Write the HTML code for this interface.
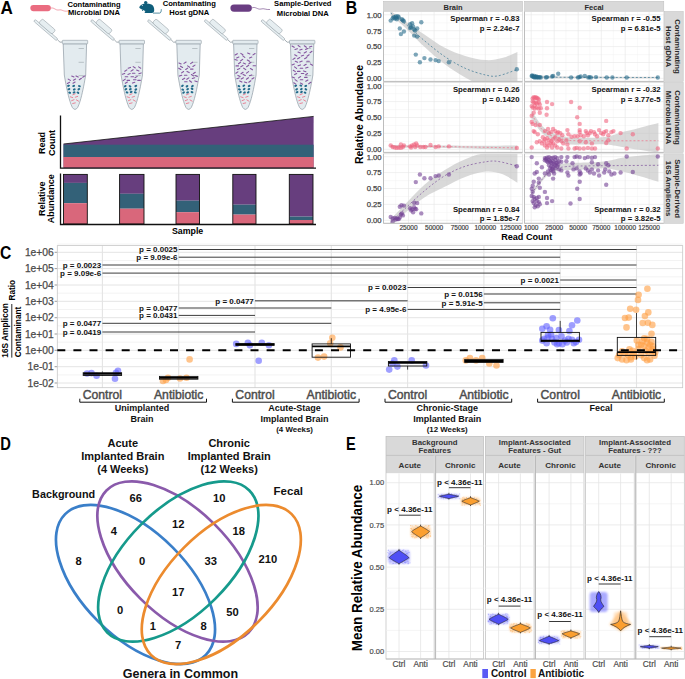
<!DOCTYPE html>
<html><head><meta charset="utf-8"><style>
html,body{margin:0;padding:0;background:#fff;}
svg{display:block;font-family:"Liberation Sans", sans-serif;}
</style></head><body>
<svg width="685" height="679" viewBox="0 0 685 679">
<text transform="translate(0.6,13.9) scale(0.95,1)" font-size="18" font-weight="bold" fill="#000">A</text>
<rect x="30.3" y="5" width="20.6" height="6.2" rx="3.1" fill="#ea6c80"/>
<path d="M50.9,8 C54,7 56,11 59,10 C62,9 63,12 68,11" stroke="#ea6c80" stroke-width="0.6" fill="none"/>
<text x="94.0" y="6.5" font-size="7.6" text-anchor="middle" font-weight="bold" fill="#000" >Contaminating</text>
<text x="94.0" y="15.2" font-size="7.6" text-anchor="middle" font-weight="bold" fill="#000" >Microbial DNA</text>
<g fill="#0f5e7b"><path d="M139.2,7.2 C140.3,5.2 142.3,3.7 144.8,3.5 C147.3,3.2 149.5,3.6 151.5,4.6 C153.6,5.7 154.4,8.2 154.2,10.6 C154.1,12.2 153.4,13.1 151.8,13.1 L145.2,13.1 C144.3,12.9 144.6,11.6 145.6,11.1 C144.2,10.4 142.6,9.7 141.6,9.2 C140.4,8.7 139.4,8.1 139.2,7.2 Z"/><circle cx="145.7" cy="2.6" r="1.7"/><path d="M141.8,9.6 L143.6,10.9 L142.2,11 Z"/></g><circle cx="142.3" cy="5.6" r="0.5" fill="#fff"/><path d="M153,13.1 L159.6,13.1 C160.8,13 161.3,11.6 161.3,9.2" stroke="#0f5e7b" stroke-width="0.7" fill="none"/>
<text x="189.3" y="6.3" font-size="7.6" text-anchor="middle" font-weight="bold" fill="#000" >Contaminating</text>
<text x="189.3" y="15.3" font-size="7.6" text-anchor="middle" font-weight="bold" fill="#000" >Host gDNA</text>
<rect x="230.4" y="4.5" width="21.5" height="7.2" rx="3.6" fill="#6a3d82"/>
<path d="M251.9,8 C255,6 258,10 261,9 C264,8 266,10 270,9.5" stroke="#6a3d82" stroke-width="0.6" fill="none"/>
<text x="302.8" y="6.4" font-size="7.6" text-anchor="middle" font-weight="bold" fill="#000" >Sample-Derived</text>
<text x="302.8" y="15.9" font-size="7.6" text-anchor="middle" font-weight="bold" fill="#000" >Microbial DNA</text>
<g transform="translate(34.4,20.3) rotate(40.6)"><rect x="0" y="-1.2" width="30" height="2.4" rx="1.2" fill="#e6eef1" stroke="#8c979e" stroke-width="0.5"/><rect x="5" y="-6.3" width="17.5" height="5.4" rx="1.5" fill="#e6eef1" stroke="#8c979e" stroke-width="0.5"/></g>
<path d="M57.5,39.8 L60.0,42.2 L62.5,42" stroke="#8c979e" stroke-width="0.8" fill="none"/>
<path d="M63.2,43.8 L64.30,75.00 L64.80,77.94 L65.32,80.88 L65.87,83.83 L66.44,86.77 L67.05,89.71 L67.69,92.65 L68.39,95.59 L69.15,98.53 L70.01,101.47 L71.01,104.42 L72.27,107.36 Q75.0,111.5 77.73,107.36 L78.99,104.42 L79.99,101.47 L80.85,98.53 L81.61,95.59 L82.31,92.65 L82.95,89.71 L83.56,86.77 L84.13,83.83 L84.68,80.88 L85.20,77.94 L85.70,75.00 L86.6,43.8 Z" fill="#e3ebef" stroke="#8e9aa3" stroke-width="0.7"/>
<rect x="62.3" y="40.3" width="25.4" height="3.5" rx="0.6" fill="#e3ebef" stroke="#8e9aa3" stroke-width="0.6"/>
<line x1="78.6" y1="48.5" x2="83.9" y2="48.5" stroke="#9aa4aa" stroke-width="0.6"/>
<line x1="78.6" y1="62.3" x2="83.9" y2="62.3" stroke="#9aa4aa" stroke-width="0.6"/>
<line x1="78.6" y1="75.6" x2="83.9" y2="75.6" stroke="#9aa4aa" stroke-width="0.6"/>
<line x1="71.7" y1="76.1" x2="74.0" y2="76.9" stroke="#85559f" stroke-width="1.1" stroke-linecap="round"/>
<line x1="76.0" y1="75.9" x2="78.2" y2="77.1" stroke="#85559f" stroke-width="1.1" stroke-linecap="round"/>
<line x1="82.7" y1="77.2" x2="84.9" y2="75.9" stroke="#85559f" stroke-width="1.1" stroke-linecap="round"/>
<line x1="68.2" y1="79.1" x2="70.4" y2="80.4" stroke="#85559f" stroke-width="1.1" stroke-linecap="round"/>
<line x1="73.4" y1="80.2" x2="75.6" y2="79.0" stroke="#85559f" stroke-width="1.1" stroke-linecap="round"/>
<line x1="79.3" y1="79.7" x2="81.4" y2="78.3" stroke="#85559f" stroke-width="1.1" stroke-linecap="round"/>
<line x1="67.4" y1="83.5" x2="69.6" y2="82.3" stroke="#85559f" stroke-width="1.1" stroke-linecap="round"/>
<line x1="73.0" y1="83.2" x2="75.1" y2="82.0" stroke="#85559f" stroke-width="1.1" stroke-linecap="round"/>
<ellipse cx="68.6" cy="85.8" rx="1.45" ry="1.05" transform="rotate(-20 68.7 86.0)" fill="#226a8a"/>
<ellipse cx="73.7" cy="86.0" rx="1.45" ry="1.05" transform="rotate(-20 73.5 86.0)" fill="#226a8a"/>
<ellipse cx="79.4" cy="86.0" rx="1.45" ry="1.05" transform="rotate(20 79.0 86.0)" fill="#226a8a"/>
<ellipse cx="69.0" cy="89.1" rx="1.45" ry="1.05" transform="rotate(-20 69.2 89.3)" fill="#226a8a"/>
<ellipse cx="74.2" cy="89.6" rx="1.45" ry="1.05" transform="rotate(-20 73.8 89.3)" fill="#226a8a"/>
<ellipse cx="78.9" cy="89.3" rx="1.45" ry="1.05" transform="rotate(-30 78.6 89.3)" fill="#226a8a"/>
<ellipse cx="69.8" cy="92.8" rx="1.45" ry="1.05" transform="rotate(20 70.1 92.4)" fill="#226a8a"/>
<ellipse cx="74.1" cy="92.3" rx="1.45" ry="1.05" transform="rotate(-20 74.4 92.4)" fill="#226a8a"/>
<ellipse cx="78.1" cy="92.7" rx="1.45" ry="1.05" transform="rotate(30 78.1 92.4)" fill="#226a8a"/>
<line x1="72.8" y1="94.8" x2="75.2" y2="93.8" stroke="#ea7085" stroke-width="0.85" stroke-linecap="round"/>
<line x1="70.3" y1="96.8" x2="72.7" y2="97.6" stroke="#ea7085" stroke-width="0.85" stroke-linecap="round"/>
<line x1="75.3" y1="97.2" x2="77.7" y2="96.4" stroke="#ea7085" stroke-width="0.85" stroke-linecap="round"/>
<line x1="71.6" y1="100.7" x2="74.0" y2="99.7" stroke="#ea7085" stroke-width="0.85" stroke-linecap="round"/>
<line x1="76.4" y1="99.9" x2="78.6" y2="101.2" stroke="#ea7085" stroke-width="0.85" stroke-linecap="round"/>
<line x1="72.7" y1="103.5" x2="75.3" y2="102.9" stroke="#ea7085" stroke-width="0.85" stroke-linecap="round"/>
<g transform="translate(91.2,20.3) rotate(40.6)"><rect x="0" y="-1.2" width="30" height="2.4" rx="1.2" fill="#e6eef1" stroke="#8c979e" stroke-width="0.5"/><rect x="5" y="-6.3" width="17.5" height="5.4" rx="1.5" fill="#e6eef1" stroke="#8c979e" stroke-width="0.5"/></g>
<path d="M114.3,39.8 L116.8,42.2 L119.3,42" stroke="#8c979e" stroke-width="0.8" fill="none"/>
<path d="M120.0,43.8 L121.10,75.00 L121.60,77.94 L122.12,80.88 L122.67,83.83 L123.24,86.77 L123.85,89.71 L124.49,92.65 L125.19,95.59 L125.95,98.53 L126.81,101.47 L127.81,104.42 L129.07,107.36 Q131.8,111.5 134.53,107.36 L135.79,104.42 L136.79,101.47 L137.65,98.53 L138.41,95.59 L139.11,92.65 L139.75,89.71 L140.36,86.77 L140.93,83.83 L141.48,80.88 L142.00,77.94 L142.50,75.00 L143.4,43.8 Z" fill="#e3ebef" stroke="#8e9aa3" stroke-width="0.7"/>
<rect x="119.1" y="40.3" width="25.4" height="3.5" rx="0.6" fill="#e3ebef" stroke="#8e9aa3" stroke-width="0.6"/>
<line x1="135.4" y1="48.5" x2="140.7" y2="48.5" stroke="#9aa4aa" stroke-width="0.6"/>
<line x1="135.4" y1="62.3" x2="140.7" y2="62.3" stroke="#9aa4aa" stroke-width="0.6"/>
<line x1="135.4" y1="75.6" x2="140.7" y2="75.6" stroke="#9aa4aa" stroke-width="0.6"/>
<line x1="128.1" y1="68.2" x2="130.5" y2="67.4" stroke="#85559f" stroke-width="1.1" stroke-linecap="round"/>
<line x1="133.2" y1="66.6" x2="135.3" y2="68.0" stroke="#85559f" stroke-width="1.1" stroke-linecap="round"/>
<line x1="138.6" y1="66.9" x2="140.7" y2="68.2" stroke="#85559f" stroke-width="1.1" stroke-linecap="round"/>
<line x1="124.8" y1="71.3" x2="126.9" y2="69.9" stroke="#85559f" stroke-width="1.1" stroke-linecap="round"/>
<line x1="131.0" y1="71.1" x2="133.1" y2="69.7" stroke="#85559f" stroke-width="1.1" stroke-linecap="round"/>
<line x1="136.6" y1="70.1" x2="138.9" y2="71.0" stroke="#85559f" stroke-width="1.1" stroke-linecap="round"/>
<line x1="122.4" y1="74.2" x2="124.7" y2="73.4" stroke="#85559f" stroke-width="1.1" stroke-linecap="round"/>
<line x1="127.9" y1="74.4" x2="130.2" y2="73.6" stroke="#85559f" stroke-width="1.1" stroke-linecap="round"/>
<line x1="132.4" y1="73.3" x2="134.9" y2="73.3" stroke="#85559f" stroke-width="1.1" stroke-linecap="round"/>
<line x1="138.8" y1="73.7" x2="141.2" y2="72.9" stroke="#85559f" stroke-width="1.1" stroke-linecap="round"/>
<line x1="125.2" y1="76.8" x2="127.7" y2="76.8" stroke="#85559f" stroke-width="1.1" stroke-linecap="round"/>
<line x1="131.0" y1="76.8" x2="133.5" y2="76.8" stroke="#85559f" stroke-width="1.1" stroke-linecap="round"/>
<line x1="135.0" y1="77.7" x2="137.2" y2="76.4" stroke="#85559f" stroke-width="1.1" stroke-linecap="round"/>
<line x1="123.2" y1="80.6" x2="125.3" y2="79.1" stroke="#85559f" stroke-width="1.1" stroke-linecap="round"/>
<line x1="127.1" y1="80.4" x2="129.6" y2="80.4" stroke="#85559f" stroke-width="1.1" stroke-linecap="round"/>
<line x1="133.5" y1="79.7" x2="136.0" y2="79.7" stroke="#85559f" stroke-width="1.1" stroke-linecap="round"/>
<line x1="137.8" y1="80.4" x2="140.3" y2="80.4" stroke="#85559f" stroke-width="1.1" stroke-linecap="round"/>
<line x1="125.3" y1="83.3" x2="127.4" y2="82.0" stroke="#85559f" stroke-width="1.1" stroke-linecap="round"/>
<line x1="132.5" y1="83.1" x2="134.8" y2="82.2" stroke="#85559f" stroke-width="1.1" stroke-linecap="round"/>
<ellipse cx="125.2" cy="86.0" rx="1.45" ry="1.05" transform="rotate(-30 125.5 86.0)" fill="#226a8a"/>
<ellipse cx="130.2" cy="86.4" rx="1.45" ry="1.05" transform="rotate(30 130.3 86.0)" fill="#226a8a"/>
<ellipse cx="135.8" cy="86.0" rx="1.45" ry="1.05" transform="rotate(-20 135.8 86.0)" fill="#226a8a"/>
<ellipse cx="126.0" cy="89.2" rx="1.45" ry="1.05" transform="rotate(-30 126.0 89.3)" fill="#226a8a"/>
<ellipse cx="130.4" cy="89.2" rx="1.45" ry="1.05" transform="rotate(-20 130.6 89.3)" fill="#226a8a"/>
<ellipse cx="135.7" cy="89.7" rx="1.45" ry="1.05" transform="rotate(-30 135.4 89.3)" fill="#226a8a"/>
<ellipse cx="127.0" cy="92.4" rx="1.45" ry="1.05" transform="rotate(20 126.9 92.4)" fill="#226a8a"/>
<ellipse cx="131.3" cy="92.0" rx="1.45" ry="1.05" transform="rotate(-20 131.2 92.4)" fill="#226a8a"/>
<ellipse cx="135.3" cy="92.3" rx="1.45" ry="1.05" transform="rotate(20 134.9 92.4)" fill="#226a8a"/>
<line x1="129.6" y1="94.8" x2="132.0" y2="93.8" stroke="#ea7085" stroke-width="0.85" stroke-linecap="round"/>
<line x1="127.1" y1="96.8" x2="129.5" y2="97.6" stroke="#ea7085" stroke-width="0.85" stroke-linecap="round"/>
<line x1="132.1" y1="97.2" x2="134.5" y2="96.4" stroke="#ea7085" stroke-width="0.85" stroke-linecap="round"/>
<line x1="128.4" y1="100.7" x2="130.8" y2="99.7" stroke="#ea7085" stroke-width="0.85" stroke-linecap="round"/>
<line x1="133.2" y1="99.9" x2="135.4" y2="101.2" stroke="#ea7085" stroke-width="0.85" stroke-linecap="round"/>
<line x1="129.5" y1="103.5" x2="132.1" y2="102.9" stroke="#ea7085" stroke-width="0.85" stroke-linecap="round"/>
<g transform="translate(148.0,20.3) rotate(40.6)"><rect x="0" y="-1.2" width="30" height="2.4" rx="1.2" fill="#e6eef1" stroke="#8c979e" stroke-width="0.5"/><rect x="5" y="-6.3" width="17.5" height="5.4" rx="1.5" fill="#e6eef1" stroke="#8c979e" stroke-width="0.5"/></g>
<path d="M171.1,39.8 L173.6,42.2 L176.1,42" stroke="#8c979e" stroke-width="0.8" fill="none"/>
<path d="M176.8,43.8 L177.90,75.00 L178.40,77.94 L178.92,80.88 L179.47,83.83 L180.04,86.77 L180.65,89.71 L181.29,92.65 L181.99,95.59 L182.75,98.53 L183.61,101.47 L184.61,104.42 L185.87,107.36 Q188.6,111.5 191.33,107.36 L192.59,104.42 L193.59,101.47 L194.45,98.53 L195.21,95.59 L195.91,92.65 L196.55,89.71 L197.16,86.77 L197.73,83.83 L198.28,80.88 L198.80,77.94 L199.30,75.00 L200.2,43.8 Z" fill="#e3ebef" stroke="#8e9aa3" stroke-width="0.7"/>
<rect x="175.9" y="40.3" width="25.4" height="3.5" rx="0.6" fill="#e3ebef" stroke="#8e9aa3" stroke-width="0.6"/>
<line x1="192.2" y1="48.5" x2="197.5" y2="48.5" stroke="#9aa4aa" stroke-width="0.6"/>
<line x1="192.2" y1="62.3" x2="197.5" y2="62.3" stroke="#9aa4aa" stroke-width="0.6"/>
<line x1="192.2" y1="75.6" x2="197.5" y2="75.6" stroke="#9aa4aa" stroke-width="0.6"/>
<line x1="178.9" y1="63.0" x2="181.2" y2="63.9" stroke="#85559f" stroke-width="1.1" stroke-linecap="round"/>
<line x1="184.0" y1="63.4" x2="186.1" y2="62.0" stroke="#85559f" stroke-width="1.1" stroke-linecap="round"/>
<line x1="190.6" y1="63.6" x2="192.6" y2="62.2" stroke="#85559f" stroke-width="1.1" stroke-linecap="round"/>
<line x1="180.5" y1="66.2" x2="182.6" y2="67.4" stroke="#85559f" stroke-width="1.1" stroke-linecap="round"/>
<line x1="187.6" y1="65.9" x2="189.7" y2="67.3" stroke="#85559f" stroke-width="1.1" stroke-linecap="round"/>
<line x1="192.9" y1="66.5" x2="195.0" y2="65.1" stroke="#85559f" stroke-width="1.1" stroke-linecap="round"/>
<line x1="178.7" y1="68.2" x2="180.9" y2="69.5" stroke="#85559f" stroke-width="1.1" stroke-linecap="round"/>
<line x1="185.7" y1="69.5" x2="187.7" y2="68.1" stroke="#85559f" stroke-width="1.1" stroke-linecap="round"/>
<line x1="190.5" y1="69.1" x2="193.0" y2="69.1" stroke="#85559f" stroke-width="1.1" stroke-linecap="round"/>
<line x1="181.6" y1="72.9" x2="183.6" y2="71.5" stroke="#85559f" stroke-width="1.1" stroke-linecap="round"/>
<line x1="187.0" y1="71.4" x2="189.2" y2="72.6" stroke="#85559f" stroke-width="1.1" stroke-linecap="round"/>
<line x1="193.2" y1="73.7" x2="195.3" y2="72.3" stroke="#85559f" stroke-width="1.1" stroke-linecap="round"/>
<line x1="179.4" y1="76.1" x2="181.7" y2="75.2" stroke="#85559f" stroke-width="1.1" stroke-linecap="round"/>
<line x1="184.4" y1="75.2" x2="186.9" y2="75.2" stroke="#85559f" stroke-width="1.1" stroke-linecap="round"/>
<line x1="191.4" y1="74.5" x2="193.5" y2="75.9" stroke="#85559f" stroke-width="1.1" stroke-linecap="round"/>
<line x1="195.1" y1="75.5" x2="197.4" y2="76.4" stroke="#85559f" stroke-width="1.1" stroke-linecap="round"/>
<line x1="182.5" y1="79.4" x2="184.7" y2="78.2" stroke="#85559f" stroke-width="1.1" stroke-linecap="round"/>
<line x1="186.8" y1="79.3" x2="188.9" y2="77.9" stroke="#85559f" stroke-width="1.1" stroke-linecap="round"/>
<line x1="192.3" y1="78.5" x2="194.7" y2="77.7" stroke="#85559f" stroke-width="1.1" stroke-linecap="round"/>
<line x1="184.6" y1="81.8" x2="187.1" y2="81.8" stroke="#85559f" stroke-width="1.1" stroke-linecap="round"/>
<line x1="189.6" y1="80.7" x2="191.6" y2="82.2" stroke="#85559f" stroke-width="1.1" stroke-linecap="round"/>
<line x1="194.9" y1="80.9" x2="197.3" y2="81.7" stroke="#85559f" stroke-width="1.1" stroke-linecap="round"/>
<ellipse cx="182.5" cy="85.9" rx="1.45" ry="1.05" transform="rotate(-30 182.3 86.0)" fill="#226a8a"/>
<ellipse cx="186.9" cy="86.2" rx="1.45" ry="1.05" transform="rotate(-30 187.1 86.0)" fill="#226a8a"/>
<ellipse cx="192.4" cy="86.0" rx="1.45" ry="1.05" transform="rotate(-30 192.6 86.0)" fill="#226a8a"/>
<ellipse cx="182.9" cy="89.6" rx="1.45" ry="1.05" transform="rotate(30 182.8 89.3)" fill="#226a8a"/>
<ellipse cx="187.7" cy="89.3" rx="1.45" ry="1.05" transform="rotate(-30 187.4 89.3)" fill="#226a8a"/>
<ellipse cx="191.8" cy="88.9" rx="1.45" ry="1.05" transform="rotate(30 192.2 89.3)" fill="#226a8a"/>
<ellipse cx="183.5" cy="92.5" rx="1.45" ry="1.05" transform="rotate(-30 183.7 92.4)" fill="#226a8a"/>
<ellipse cx="187.6" cy="92.3" rx="1.45" ry="1.05" transform="rotate(-20 188.0 92.4)" fill="#226a8a"/>
<ellipse cx="191.9" cy="92.1" rx="1.45" ry="1.05" transform="rotate(20 191.7 92.4)" fill="#226a8a"/>
<line x1="186.4" y1="94.8" x2="188.8" y2="93.8" stroke="#ea7085" stroke-width="0.85" stroke-linecap="round"/>
<line x1="183.9" y1="96.8" x2="186.3" y2="97.6" stroke="#ea7085" stroke-width="0.85" stroke-linecap="round"/>
<line x1="188.9" y1="97.2" x2="191.3" y2="96.4" stroke="#ea7085" stroke-width="0.85" stroke-linecap="round"/>
<line x1="185.2" y1="100.7" x2="187.6" y2="99.7" stroke="#ea7085" stroke-width="0.85" stroke-linecap="round"/>
<line x1="190.0" y1="99.9" x2="192.2" y2="101.2" stroke="#ea7085" stroke-width="0.85" stroke-linecap="round"/>
<line x1="186.3" y1="103.5" x2="188.9" y2="102.9" stroke="#ea7085" stroke-width="0.85" stroke-linecap="round"/>
<g transform="translate(204.8,20.3) rotate(40.6)"><rect x="0" y="-1.2" width="30" height="2.4" rx="1.2" fill="#e6eef1" stroke="#8c979e" stroke-width="0.5"/><rect x="5" y="-6.3" width="17.5" height="5.4" rx="1.5" fill="#e6eef1" stroke="#8c979e" stroke-width="0.5"/></g>
<path d="M227.9,39.8 L230.4,42.2 L232.9,42" stroke="#8c979e" stroke-width="0.8" fill="none"/>
<path d="M233.6,43.8 L234.70,75.00 L235.20,77.94 L235.72,80.88 L236.27,83.83 L236.84,86.77 L237.45,89.71 L238.09,92.65 L238.79,95.59 L239.55,98.53 L240.41,101.47 L241.41,104.42 L242.67,107.36 Q245.4,111.5 248.13,107.36 L249.39,104.42 L250.39,101.47 L251.25,98.53 L252.01,95.59 L252.71,92.65 L253.35,89.71 L253.96,86.77 L254.53,83.83 L255.08,80.88 L255.60,77.94 L256.10,75.00 L257.0,43.8 Z" fill="#e3ebef" stroke="#8e9aa3" stroke-width="0.7"/>
<rect x="232.7" y="40.3" width="25.4" height="3.5" rx="0.6" fill="#e3ebef" stroke="#8e9aa3" stroke-width="0.6"/>
<line x1="249.0" y1="48.5" x2="254.3" y2="48.5" stroke="#9aa4aa" stroke-width="0.6"/>
<line x1="249.0" y1="62.3" x2="254.3" y2="62.3" stroke="#9aa4aa" stroke-width="0.6"/>
<line x1="249.0" y1="75.6" x2="254.3" y2="75.6" stroke="#9aa4aa" stroke-width="0.6"/>
<line x1="235.1" y1="55.0" x2="237.3" y2="53.7" stroke="#85559f" stroke-width="1.1" stroke-linecap="round"/>
<line x1="240.8" y1="53.4" x2="242.9" y2="54.8" stroke="#85559f" stroke-width="1.1" stroke-linecap="round"/>
<line x1="247.6" y1="53.0" x2="249.9" y2="53.9" stroke="#85559f" stroke-width="1.1" stroke-linecap="round"/>
<line x1="253.0" y1="54.9" x2="255.1" y2="53.5" stroke="#85559f" stroke-width="1.1" stroke-linecap="round"/>
<line x1="236.6" y1="57.9" x2="238.9" y2="57.0" stroke="#85559f" stroke-width="1.1" stroke-linecap="round"/>
<line x1="242.8" y1="55.9" x2="244.8" y2="57.4" stroke="#85559f" stroke-width="1.1" stroke-linecap="round"/>
<line x1="249.5" y1="58.0" x2="251.8" y2="57.1" stroke="#85559f" stroke-width="1.1" stroke-linecap="round"/>
<line x1="234.9" y1="59.4" x2="237.3" y2="60.2" stroke="#85559f" stroke-width="1.1" stroke-linecap="round"/>
<line x1="240.7" y1="60.8" x2="242.7" y2="59.4" stroke="#85559f" stroke-width="1.1" stroke-linecap="round"/>
<line x1="247.3" y1="60.0" x2="249.5" y2="61.3" stroke="#85559f" stroke-width="1.1" stroke-linecap="round"/>
<line x1="238.5" y1="63.7" x2="240.6" y2="62.3" stroke="#85559f" stroke-width="1.1" stroke-linecap="round"/>
<line x1="243.3" y1="63.1" x2="245.6" y2="63.9" stroke="#85559f" stroke-width="1.1" stroke-linecap="round"/>
<line x1="248.9" y1="63.7" x2="251.0" y2="62.3" stroke="#85559f" stroke-width="1.1" stroke-linecap="round"/>
<line x1="236.0" y1="65.9" x2="238.5" y2="65.9" stroke="#85559f" stroke-width="1.1" stroke-linecap="round"/>
<line x1="240.8" y1="66.8" x2="243.0" y2="65.6" stroke="#85559f" stroke-width="1.1" stroke-linecap="round"/>
<line x1="246.6" y1="66.7" x2="248.7" y2="65.2" stroke="#85559f" stroke-width="1.1" stroke-linecap="round"/>
<line x1="253.1" y1="65.8" x2="255.6" y2="65.8" stroke="#85559f" stroke-width="1.1" stroke-linecap="round"/>
<line x1="237.5" y1="69.5" x2="239.8" y2="68.6" stroke="#85559f" stroke-width="1.1" stroke-linecap="round"/>
<line x1="243.7" y1="68.2" x2="245.8" y2="69.6" stroke="#85559f" stroke-width="1.1" stroke-linecap="round"/>
<line x1="250.4" y1="68.6" x2="252.5" y2="69.8" stroke="#85559f" stroke-width="1.1" stroke-linecap="round"/>
<line x1="235.9" y1="73.3" x2="237.9" y2="71.9" stroke="#85559f" stroke-width="1.1" stroke-linecap="round"/>
<line x1="241.0" y1="73.8" x2="243.1" y2="72.3" stroke="#85559f" stroke-width="1.1" stroke-linecap="round"/>
<line x1="246.5" y1="73.1" x2="248.6" y2="71.6" stroke="#85559f" stroke-width="1.1" stroke-linecap="round"/>
<line x1="237.9" y1="75.4" x2="240.1" y2="76.6" stroke="#85559f" stroke-width="1.1" stroke-linecap="round"/>
<line x1="243.1" y1="74.4" x2="245.3" y2="75.6" stroke="#85559f" stroke-width="1.1" stroke-linecap="round"/>
<line x1="249.4" y1="75.7" x2="251.8" y2="74.9" stroke="#85559f" stroke-width="1.1" stroke-linecap="round"/>
<line x1="236.8" y1="78.8" x2="239.1" y2="77.9" stroke="#85559f" stroke-width="1.1" stroke-linecap="round"/>
<line x1="241.2" y1="79.0" x2="243.4" y2="77.8" stroke="#85559f" stroke-width="1.1" stroke-linecap="round"/>
<line x1="246.4" y1="79.2" x2="248.5" y2="77.8" stroke="#85559f" stroke-width="1.1" stroke-linecap="round"/>
<line x1="251.9" y1="79.0" x2="254.0" y2="77.8" stroke="#85559f" stroke-width="1.1" stroke-linecap="round"/>
<line x1="239.7" y1="80.9" x2="241.9" y2="82.1" stroke="#85559f" stroke-width="1.1" stroke-linecap="round"/>
<line x1="244.4" y1="82.0" x2="246.7" y2="82.8" stroke="#85559f" stroke-width="1.1" stroke-linecap="round"/>
<line x1="248.8" y1="82.2" x2="250.8" y2="80.8" stroke="#85559f" stroke-width="1.1" stroke-linecap="round"/>
<ellipse cx="239.0" cy="86.2" rx="1.45" ry="1.05" transform="rotate(30 239.1 86.0)" fill="#226a8a"/>
<ellipse cx="244.0" cy="85.7" rx="1.45" ry="1.05" transform="rotate(-30 243.9 86.0)" fill="#226a8a"/>
<ellipse cx="249.2" cy="85.9" rx="1.45" ry="1.05" transform="rotate(-20 249.4 86.0)" fill="#226a8a"/>
<ellipse cx="239.5" cy="89.5" rx="1.45" ry="1.05" transform="rotate(20 239.6 89.3)" fill="#226a8a"/>
<ellipse cx="244.3" cy="89.1" rx="1.45" ry="1.05" transform="rotate(-30 244.2 89.3)" fill="#226a8a"/>
<ellipse cx="249.0" cy="89.1" rx="1.45" ry="1.05" transform="rotate(-30 249.0 89.3)" fill="#226a8a"/>
<ellipse cx="240.6" cy="92.2" rx="1.45" ry="1.05" transform="rotate(-30 240.5 92.4)" fill="#226a8a"/>
<ellipse cx="244.4" cy="92.4" rx="1.45" ry="1.05" transform="rotate(-30 244.8 92.4)" fill="#226a8a"/>
<ellipse cx="248.3" cy="92.2" rx="1.45" ry="1.05" transform="rotate(-30 248.5 92.4)" fill="#226a8a"/>
<line x1="243.2" y1="94.8" x2="245.6" y2="93.8" stroke="#ea7085" stroke-width="0.85" stroke-linecap="round"/>
<line x1="240.7" y1="96.8" x2="243.1" y2="97.6" stroke="#ea7085" stroke-width="0.85" stroke-linecap="round"/>
<line x1="245.7" y1="97.2" x2="248.1" y2="96.4" stroke="#ea7085" stroke-width="0.85" stroke-linecap="round"/>
<line x1="242.0" y1="100.7" x2="244.4" y2="99.7" stroke="#ea7085" stroke-width="0.85" stroke-linecap="round"/>
<line x1="246.8" y1="99.9" x2="249.0" y2="101.2" stroke="#ea7085" stroke-width="0.85" stroke-linecap="round"/>
<line x1="243.1" y1="103.5" x2="245.7" y2="102.9" stroke="#ea7085" stroke-width="0.85" stroke-linecap="round"/>
<g transform="translate(261.6,20.3) rotate(40.6)"><rect x="0" y="-1.2" width="30" height="2.4" rx="1.2" fill="#e6eef1" stroke="#8c979e" stroke-width="0.5"/><rect x="5" y="-6.3" width="17.5" height="5.4" rx="1.5" fill="#e6eef1" stroke="#8c979e" stroke-width="0.5"/></g>
<path d="M284.7,39.8 L287.2,42.2 L289.7,42" stroke="#8c979e" stroke-width="0.8" fill="none"/>
<path d="M290.4,43.8 L291.50,75.00 L292.00,77.94 L292.52,80.88 L293.07,83.83 L293.64,86.77 L294.25,89.71 L294.89,92.65 L295.59,95.59 L296.35,98.53 L297.21,101.47 L298.21,104.42 L299.47,107.36 Q302.2,111.5 304.93,107.36 L306.19,104.42 L307.19,101.47 L308.05,98.53 L308.81,95.59 L309.51,92.65 L310.15,89.71 L310.76,86.77 L311.33,83.83 L311.88,80.88 L312.40,77.94 L312.90,75.00 L313.8,43.8 Z" fill="#e3ebef" stroke="#8e9aa3" stroke-width="0.7"/>
<rect x="289.5" y="40.3" width="25.4" height="3.5" rx="0.6" fill="#e3ebef" stroke="#8e9aa3" stroke-width="0.6"/>
<line x1="305.8" y1="48.5" x2="311.1" y2="48.5" stroke="#9aa4aa" stroke-width="0.6"/>
<line x1="305.8" y1="62.3" x2="311.1" y2="62.3" stroke="#9aa4aa" stroke-width="0.6"/>
<line x1="305.8" y1="75.6" x2="311.1" y2="75.6" stroke="#9aa4aa" stroke-width="0.6"/>
<line x1="292.0" y1="46.0" x2="294.2" y2="47.3" stroke="#85559f" stroke-width="1.1" stroke-linecap="round"/>
<line x1="298.1" y1="45.5" x2="300.1" y2="46.9" stroke="#85559f" stroke-width="1.1" stroke-linecap="round"/>
<line x1="304.3" y1="45.8" x2="306.4" y2="47.2" stroke="#85559f" stroke-width="1.1" stroke-linecap="round"/>
<line x1="309.4" y1="47.1" x2="311.8" y2="46.3" stroke="#85559f" stroke-width="1.1" stroke-linecap="round"/>
<line x1="295.0" y1="49.5" x2="297.4" y2="48.7" stroke="#85559f" stroke-width="1.1" stroke-linecap="round"/>
<line x1="299.8" y1="50.0" x2="302.1" y2="49.2" stroke="#85559f" stroke-width="1.1" stroke-linecap="round"/>
<line x1="305.5" y1="49.4" x2="307.8" y2="48.5" stroke="#85559f" stroke-width="1.1" stroke-linecap="round"/>
<line x1="298.0" y1="52.1" x2="300.3" y2="53.0" stroke="#85559f" stroke-width="1.1" stroke-linecap="round"/>
<line x1="304.2" y1="52.9" x2="306.4" y2="51.7" stroke="#85559f" stroke-width="1.1" stroke-linecap="round"/>
<line x1="310.0" y1="52.7" x2="312.0" y2="51.3" stroke="#85559f" stroke-width="1.1" stroke-linecap="round"/>
<line x1="294.7" y1="54.8" x2="296.9" y2="56.0" stroke="#85559f" stroke-width="1.1" stroke-linecap="round"/>
<line x1="301.3" y1="56.1" x2="303.6" y2="55.3" stroke="#85559f" stroke-width="1.1" stroke-linecap="round"/>
<line x1="307.0" y1="56.2" x2="309.1" y2="54.7" stroke="#85559f" stroke-width="1.1" stroke-linecap="round"/>
<line x1="293.0" y1="59.4" x2="295.1" y2="58.0" stroke="#85559f" stroke-width="1.1" stroke-linecap="round"/>
<line x1="297.6" y1="58.8" x2="299.8" y2="57.5" stroke="#85559f" stroke-width="1.1" stroke-linecap="round"/>
<line x1="304.6" y1="58.7" x2="306.8" y2="57.5" stroke="#85559f" stroke-width="1.1" stroke-linecap="round"/>
<line x1="295.3" y1="61.3" x2="297.6" y2="62.2" stroke="#85559f" stroke-width="1.1" stroke-linecap="round"/>
<line x1="299.8" y1="62.0" x2="302.2" y2="61.1" stroke="#85559f" stroke-width="1.1" stroke-linecap="round"/>
<line x1="306.8" y1="61.3" x2="309.3" y2="61.3" stroke="#85559f" stroke-width="1.1" stroke-linecap="round"/>
<line x1="292.0" y1="64.9" x2="294.3" y2="64.0" stroke="#85559f" stroke-width="1.1" stroke-linecap="round"/>
<line x1="298.1" y1="65.8" x2="300.5" y2="64.9" stroke="#85559f" stroke-width="1.1" stroke-linecap="round"/>
<line x1="304.0" y1="65.5" x2="306.2" y2="64.3" stroke="#85559f" stroke-width="1.1" stroke-linecap="round"/>
<line x1="310.4" y1="64.1" x2="312.5" y2="65.3" stroke="#85559f" stroke-width="1.1" stroke-linecap="round"/>
<line x1="294.5" y1="66.9" x2="296.6" y2="68.4" stroke="#85559f" stroke-width="1.1" stroke-linecap="round"/>
<line x1="300.2" y1="68.3" x2="302.7" y2="68.3" stroke="#85559f" stroke-width="1.1" stroke-linecap="round"/>
<line x1="305.7" y1="68.1" x2="308.0" y2="67.2" stroke="#85559f" stroke-width="1.1" stroke-linecap="round"/>
<line x1="293.3" y1="70.3" x2="295.4" y2="71.6" stroke="#85559f" stroke-width="1.1" stroke-linecap="round"/>
<line x1="297.5" y1="71.4" x2="300.0" y2="71.4" stroke="#85559f" stroke-width="1.1" stroke-linecap="round"/>
<line x1="303.6" y1="70.9" x2="305.9" y2="71.7" stroke="#85559f" stroke-width="1.1" stroke-linecap="round"/>
<line x1="294.6" y1="74.6" x2="296.7" y2="73.4" stroke="#85559f" stroke-width="1.1" stroke-linecap="round"/>
<line x1="301.3" y1="73.5" x2="303.8" y2="73.5" stroke="#85559f" stroke-width="1.1" stroke-linecap="round"/>
<line x1="305.5" y1="75.0" x2="307.5" y2="73.5" stroke="#85559f" stroke-width="1.1" stroke-linecap="round"/>
<line x1="292.2" y1="77.0" x2="294.6" y2="77.9" stroke="#85559f" stroke-width="1.1" stroke-linecap="round"/>
<line x1="298.5" y1="77.9" x2="300.6" y2="76.5" stroke="#85559f" stroke-width="1.1" stroke-linecap="round"/>
<line x1="304.6" y1="77.4" x2="307.1" y2="77.4" stroke="#85559f" stroke-width="1.1" stroke-linecap="round"/>
<line x1="295.1" y1="79.6" x2="297.1" y2="81.1" stroke="#85559f" stroke-width="1.1" stroke-linecap="round"/>
<line x1="300.3" y1="79.8" x2="302.8" y2="79.8" stroke="#85559f" stroke-width="1.1" stroke-linecap="round"/>
<line x1="305.8" y1="81.3" x2="307.9" y2="80.0" stroke="#85559f" stroke-width="1.1" stroke-linecap="round"/>
<line x1="293.8" y1="82.8" x2="295.9" y2="84.1" stroke="#85559f" stroke-width="1.1" stroke-linecap="round"/>
<line x1="300.4" y1="83.0" x2="302.6" y2="84.2" stroke="#85559f" stroke-width="1.1" stroke-linecap="round"/>
<line x1="308.7" y1="83.8" x2="310.8" y2="82.3" stroke="#85559f" stroke-width="1.1" stroke-linecap="round"/>
<ellipse cx="295.8" cy="85.8" rx="1.45" ry="1.05" transform="rotate(-20 295.9 86.0)" fill="#226a8a"/>
<ellipse cx="300.7" cy="85.6" rx="1.45" ry="1.05" transform="rotate(20 300.7 86.0)" fill="#226a8a"/>
<ellipse cx="305.8" cy="85.8" rx="1.45" ry="1.05" transform="rotate(-20 306.2 86.0)" fill="#226a8a"/>
<ellipse cx="296.6" cy="89.4" rx="1.45" ry="1.05" transform="rotate(-30 296.4 89.3)" fill="#226a8a"/>
<ellipse cx="301.4" cy="89.3" rx="1.45" ry="1.05" transform="rotate(-30 301.0 89.3)" fill="#226a8a"/>
<ellipse cx="305.9" cy="89.3" rx="1.45" ry="1.05" transform="rotate(30 305.8 89.3)" fill="#226a8a"/>
<ellipse cx="297.2" cy="92.1" rx="1.45" ry="1.05" transform="rotate(-20 297.3 92.4)" fill="#226a8a"/>
<ellipse cx="301.7" cy="92.0" rx="1.45" ry="1.05" transform="rotate(-30 301.6 92.4)" fill="#226a8a"/>
<ellipse cx="305.2" cy="92.7" rx="1.45" ry="1.05" transform="rotate(30 305.3 92.4)" fill="#226a8a"/>
<line x1="300.0" y1="94.8" x2="302.4" y2="93.8" stroke="#ea7085" stroke-width="0.85" stroke-linecap="round"/>
<line x1="297.5" y1="96.8" x2="299.9" y2="97.6" stroke="#ea7085" stroke-width="0.85" stroke-linecap="round"/>
<line x1="302.5" y1="97.2" x2="304.9" y2="96.4" stroke="#ea7085" stroke-width="0.85" stroke-linecap="round"/>
<line x1="298.8" y1="100.7" x2="301.2" y2="99.7" stroke="#ea7085" stroke-width="0.85" stroke-linecap="round"/>
<line x1="303.6" y1="99.9" x2="305.8" y2="101.2" stroke="#ea7085" stroke-width="0.85" stroke-linecap="round"/>
<line x1="299.9" y1="103.5" x2="302.5" y2="102.9" stroke="#ea7085" stroke-width="0.85" stroke-linecap="round"/>
<polygon points="63.5,144 313.6,116.4 313.6,168 63.5,168" fill="#673e7e"/>
<line x1="63.5" y1="144" x2="313.6" y2="116.4" stroke="#111" stroke-width="0.8"/>
<rect x="63.5" y="144.7" width="250.1" height="12.3" fill="#336178"/>
<rect x="63.5" y="157" width="250.1" height="10.6" fill="#d9677b"/>
<path d="M60.5,115.4 V168.2 H316" stroke="#111" stroke-width="1.3" fill="none"/>
<text transform="translate(44.9,142.9) rotate(-90)" font-size="9" font-weight="bold" text-anchor="middle">Read</text>
<text transform="translate(54.6,142.9) rotate(-90)" font-size="9" font-weight="bold" text-anchor="middle">Count</text>
<rect x="63.5" y="174.4" width="23.8" height="8.5" fill="#673e7e"/>
<rect x="63.5" y="182.9" width="23.8" height="20.3" fill="#336178"/>
<rect x="63.5" y="203.2" width="23.8" height="20.8" fill="#d9677b"/>
<rect x="63.5" y="174.4" width="23.8" height="49.6" fill="none" stroke="#111" stroke-width="0.9"/>
<rect x="119.6" y="174.4" width="24.4" height="19.4" fill="#673e7e"/>
<rect x="119.6" y="193.8" width="24.4" height="14.9" fill="#336178"/>
<rect x="119.6" y="208.7" width="24.4" height="15.3" fill="#d9677b"/>
<rect x="119.6" y="174.4" width="24.4" height="49.6" fill="none" stroke="#111" stroke-width="0.9"/>
<rect x="176" y="174.4" width="23.5" height="26.3" fill="#673e7e"/>
<rect x="176" y="200.7" width="23.5" height="11.5" fill="#336178"/>
<rect x="176" y="212.2" width="23.5" height="11.8" fill="#d9677b"/>
<rect x="176" y="174.4" width="23.5" height="49.6" fill="none" stroke="#111" stroke-width="0.9"/>
<rect x="232.8" y="174.4" width="23.2" height="30.3" fill="#673e7e"/>
<rect x="232.8" y="204.7" width="23.2" height="9.9" fill="#336178"/>
<rect x="232.8" y="214.6" width="23.2" height="9.4" fill="#d9677b"/>
<rect x="232.8" y="174.4" width="23.2" height="49.6" fill="none" stroke="#111" stroke-width="0.9"/>
<rect x="289.3" y="174.4" width="23.7" height="42.2" fill="#673e7e"/>
<rect x="289.3" y="216.6" width="23.7" height="3.4" fill="#336178"/>
<rect x="289.3" y="220" width="23.7" height="4.0" fill="#d9677b"/>
<rect x="289.3" y="174.4" width="23.7" height="49.6" fill="none" stroke="#111" stroke-width="0.9"/>
<path d="M60.5,173.4 V224.5 H316" stroke="#111" stroke-width="1.3" fill="none"/>
<text transform="translate(45.4,198.7) rotate(-90)" font-size="9" font-weight="bold" text-anchor="middle">Relative</text>
<text transform="translate(54.4,198.7) rotate(-90)" font-size="9" font-weight="bold" text-anchor="middle">Abundance</text>
<text x="187.6" y="233.8" font-size="8.8" text-anchor="middle" font-weight="bold" fill="#000" >Sample</text>
<text transform="translate(345.8,13.9) scale(0.88,1)" font-size="18" font-weight="bold" fill="#000">B</text>
<rect x="383.5" y="1.3" width="139.1" height="10.2" fill="#d9d9d9" stroke="#bdbdbd" stroke-width="0.5"/>
<text x="453.1" y="9.8" font-size="7.5" text-anchor="middle" font-weight="bold" fill="#2a2a2a" >Brain</text>
<rect x="524.5" y="1.3" width="139.3" height="10.2" fill="#d9d9d9" stroke="#bdbdbd" stroke-width="0.5"/>
<text x="594.1" y="9.8" font-size="7.5" text-anchor="middle" font-weight="bold" fill="#2a2a2a" >Fecal</text>
<rect x="664.4" y="11.5" width="18.8" height="69.9" fill="#d9d9d9" stroke="#bdbdbd" stroke-width="0.5"/>
<text transform="translate(674.7,46.5) rotate(90)" font-size="7.8" font-weight="bold" text-anchor="middle" fill="#2a2a2a">Contaminating</text>
<text transform="translate(665.6,46.5) rotate(90)" font-size="7.8" font-weight="bold" text-anchor="middle" fill="#2a2a2a">Host gDNA</text>
<text x="381.6" y="81.2" font-size="7.7" text-anchor="end" font-weight="normal" fill="#444" stroke="#444" stroke-width="0.25">0.00</text>
<text x="381.6" y="65.3" font-size="7.7" text-anchor="end" font-weight="normal" fill="#444" stroke="#444" stroke-width="0.25">0.25</text>
<text x="381.6" y="49.4" font-size="7.7" text-anchor="end" font-weight="normal" fill="#444" stroke="#444" stroke-width="0.25">0.50</text>
<text x="381.6" y="33.5" font-size="7.7" text-anchor="end" font-weight="normal" fill="#444" stroke="#444" stroke-width="0.25">0.75</text>
<text x="381.6" y="17.6" font-size="7.7" text-anchor="end" font-weight="normal" fill="#444" stroke="#444" stroke-width="0.25">1.00</text>
<rect x="664.4" y="82.5" width="18.8" height="69.9" fill="#d9d9d9" stroke="#bdbdbd" stroke-width="0.5"/>
<text transform="translate(674.7,117.5) rotate(90)" font-size="7.8" font-weight="bold" text-anchor="middle" fill="#2a2a2a">Contaminating</text>
<text transform="translate(665.6,117.5) rotate(90)" font-size="7.8" font-weight="bold" text-anchor="middle" fill="#2a2a2a">Microbial DNA</text>
<text x="381.6" y="152.1" font-size="7.7" text-anchor="end" font-weight="normal" fill="#444" stroke="#444" stroke-width="0.25">0.00</text>
<text x="381.6" y="136.2" font-size="7.7" text-anchor="end" font-weight="normal" fill="#444" stroke="#444" stroke-width="0.25">0.25</text>
<text x="381.6" y="120.3" font-size="7.7" text-anchor="end" font-weight="normal" fill="#444" stroke="#444" stroke-width="0.25">0.50</text>
<text x="381.6" y="104.4" font-size="7.7" text-anchor="end" font-weight="normal" fill="#444" stroke="#444" stroke-width="0.25">0.75</text>
<text x="381.6" y="88.5" font-size="7.7" text-anchor="end" font-weight="normal" fill="#444" stroke="#444" stroke-width="0.25">1.00</text>
<rect x="664.4" y="153.8" width="18.8" height="69.5" fill="#d9d9d9" stroke="#bdbdbd" stroke-width="0.5"/>
<text transform="translate(674.7,188.6) rotate(90)" font-size="7.8" font-weight="bold" text-anchor="middle" fill="#2a2a2a">Sample-Derived</text>
<text transform="translate(665.6,188.6) rotate(90)" font-size="7.8" font-weight="bold" text-anchor="middle" fill="#2a2a2a">16S Amplicons</text>
<text x="381.6" y="223.1" font-size="7.7" text-anchor="end" font-weight="normal" fill="#444" stroke="#444" stroke-width="0.25">0.00</text>
<text x="381.6" y="207.2" font-size="7.7" text-anchor="end" font-weight="normal" fill="#444" stroke="#444" stroke-width="0.25">0.25</text>
<text x="381.6" y="191.3" font-size="7.7" text-anchor="end" font-weight="normal" fill="#444" stroke="#444" stroke-width="0.25">0.50</text>
<text x="381.6" y="175.4" font-size="7.7" text-anchor="end" font-weight="normal" fill="#444" stroke="#444" stroke-width="0.25">0.75</text>
<text x="381.6" y="159.5" font-size="7.7" text-anchor="end" font-weight="normal" fill="#444" stroke="#444" stroke-width="0.25">1.00</text>
<rect x="383.5" y="11.5" width="139.1" height="69.9" fill="#fff"/>
<line x1="395.7" y1="11.5" x2="395.7" y2="81.4" stroke="#f2f2f2" stroke-width="0.5"/>
<line x1="421.3" y1="11.5" x2="421.3" y2="81.4" stroke="#f2f2f2" stroke-width="0.5"/>
<line x1="446.9" y1="11.5" x2="446.9" y2="81.4" stroke="#f2f2f2" stroke-width="0.5"/>
<line x1="472.5" y1="11.5" x2="472.5" y2="81.4" stroke="#f2f2f2" stroke-width="0.5"/>
<line x1="498.1" y1="11.5" x2="498.1" y2="81.4" stroke="#f2f2f2" stroke-width="0.5"/>
<line x1="383.5" y1="70.5" x2="522.6" y2="70.5" stroke="#f2f2f2" stroke-width="0.5"/>
<line x1="383.5" y1="54.6" x2="522.6" y2="54.6" stroke="#f2f2f2" stroke-width="0.5"/>
<line x1="383.5" y1="38.7" x2="522.6" y2="38.7" stroke="#f2f2f2" stroke-width="0.5"/>
<line x1="383.5" y1="22.8" x2="522.6" y2="22.8" stroke="#f2f2f2" stroke-width="0.5"/>
<line x1="408.5" y1="11.5" x2="408.5" y2="81.4" stroke="#e6e6e6" stroke-width="0.6"/>
<line x1="434.1" y1="11.5" x2="434.1" y2="81.4" stroke="#e6e6e6" stroke-width="0.6"/>
<line x1="459.7" y1="11.5" x2="459.7" y2="81.4" stroke="#e6e6e6" stroke-width="0.6"/>
<line x1="485.3" y1="11.5" x2="485.3" y2="81.4" stroke="#e6e6e6" stroke-width="0.6"/>
<line x1="510.9" y1="11.5" x2="510.9" y2="81.4" stroke="#e6e6e6" stroke-width="0.6"/>
<line x1="383.5" y1="78.4" x2="522.6" y2="78.4" stroke="#e6e6e6" stroke-width="0.6"/>
<line x1="383.5" y1="62.5" x2="522.6" y2="62.5" stroke="#e6e6e6" stroke-width="0.6"/>
<line x1="383.5" y1="46.6" x2="522.6" y2="46.6" stroke="#e6e6e6" stroke-width="0.6"/>
<line x1="383.5" y1="30.7" x2="522.6" y2="30.7" stroke="#e6e6e6" stroke-width="0.6"/>
<line x1="383.5" y1="14.8" x2="522.6" y2="14.8" stroke="#e6e6e6" stroke-width="0.6"/>
<rect x="383.5" y="82.5" width="139.1" height="69.9" fill="#fff"/>
<line x1="395.7" y1="82.5" x2="395.7" y2="152.4" stroke="#f2f2f2" stroke-width="0.5"/>
<line x1="421.3" y1="82.5" x2="421.3" y2="152.4" stroke="#f2f2f2" stroke-width="0.5"/>
<line x1="446.9" y1="82.5" x2="446.9" y2="152.4" stroke="#f2f2f2" stroke-width="0.5"/>
<line x1="472.5" y1="82.5" x2="472.5" y2="152.4" stroke="#f2f2f2" stroke-width="0.5"/>
<line x1="498.1" y1="82.5" x2="498.1" y2="152.4" stroke="#f2f2f2" stroke-width="0.5"/>
<line x1="383.5" y1="141.4" x2="522.6" y2="141.4" stroke="#f2f2f2" stroke-width="0.5"/>
<line x1="383.5" y1="125.5" x2="522.6" y2="125.5" stroke="#f2f2f2" stroke-width="0.5"/>
<line x1="383.5" y1="109.6" x2="522.6" y2="109.6" stroke="#f2f2f2" stroke-width="0.5"/>
<line x1="383.5" y1="93.7" x2="522.6" y2="93.7" stroke="#f2f2f2" stroke-width="0.5"/>
<line x1="408.5" y1="82.5" x2="408.5" y2="152.4" stroke="#e6e6e6" stroke-width="0.6"/>
<line x1="434.1" y1="82.5" x2="434.1" y2="152.4" stroke="#e6e6e6" stroke-width="0.6"/>
<line x1="459.7" y1="82.5" x2="459.7" y2="152.4" stroke="#e6e6e6" stroke-width="0.6"/>
<line x1="485.3" y1="82.5" x2="485.3" y2="152.4" stroke="#e6e6e6" stroke-width="0.6"/>
<line x1="510.9" y1="82.5" x2="510.9" y2="152.4" stroke="#e6e6e6" stroke-width="0.6"/>
<line x1="383.5" y1="149.3" x2="522.6" y2="149.3" stroke="#e6e6e6" stroke-width="0.6"/>
<line x1="383.5" y1="133.4" x2="522.6" y2="133.4" stroke="#e6e6e6" stroke-width="0.6"/>
<line x1="383.5" y1="117.5" x2="522.6" y2="117.5" stroke="#e6e6e6" stroke-width="0.6"/>
<line x1="383.5" y1="101.6" x2="522.6" y2="101.6" stroke="#e6e6e6" stroke-width="0.6"/>
<line x1="383.5" y1="85.7" x2="522.6" y2="85.7" stroke="#e6e6e6" stroke-width="0.6"/>
<rect x="383.5" y="153.8" width="139.1" height="69.5" fill="#fff"/>
<line x1="395.7" y1="153.8" x2="395.7" y2="223.3" stroke="#f2f2f2" stroke-width="0.5"/>
<line x1="421.3" y1="153.8" x2="421.3" y2="223.3" stroke="#f2f2f2" stroke-width="0.5"/>
<line x1="446.9" y1="153.8" x2="446.9" y2="223.3" stroke="#f2f2f2" stroke-width="0.5"/>
<line x1="472.5" y1="153.8" x2="472.5" y2="223.3" stroke="#f2f2f2" stroke-width="0.5"/>
<line x1="498.1" y1="153.8" x2="498.1" y2="223.3" stroke="#f2f2f2" stroke-width="0.5"/>
<line x1="383.5" y1="212.4" x2="522.6" y2="212.4" stroke="#f2f2f2" stroke-width="0.5"/>
<line x1="383.5" y1="196.5" x2="522.6" y2="196.5" stroke="#f2f2f2" stroke-width="0.5"/>
<line x1="383.5" y1="180.6" x2="522.6" y2="180.6" stroke="#f2f2f2" stroke-width="0.5"/>
<line x1="383.5" y1="164.7" x2="522.6" y2="164.7" stroke="#f2f2f2" stroke-width="0.5"/>
<line x1="408.5" y1="153.8" x2="408.5" y2="223.3" stroke="#e6e6e6" stroke-width="0.6"/>
<line x1="434.1" y1="153.8" x2="434.1" y2="223.3" stroke="#e6e6e6" stroke-width="0.6"/>
<line x1="459.7" y1="153.8" x2="459.7" y2="223.3" stroke="#e6e6e6" stroke-width="0.6"/>
<line x1="485.3" y1="153.8" x2="485.3" y2="223.3" stroke="#e6e6e6" stroke-width="0.6"/>
<line x1="510.9" y1="153.8" x2="510.9" y2="223.3" stroke="#e6e6e6" stroke-width="0.6"/>
<line x1="383.5" y1="220.3" x2="522.6" y2="220.3" stroke="#e6e6e6" stroke-width="0.6"/>
<line x1="383.5" y1="204.4" x2="522.6" y2="204.4" stroke="#e6e6e6" stroke-width="0.6"/>
<line x1="383.5" y1="188.5" x2="522.6" y2="188.5" stroke="#e6e6e6" stroke-width="0.6"/>
<line x1="383.5" y1="172.6" x2="522.6" y2="172.6" stroke="#e6e6e6" stroke-width="0.6"/>
<line x1="383.5" y1="156.7" x2="522.6" y2="156.7" stroke="#e6e6e6" stroke-width="0.6"/>
<rect x="524.5" y="11.5" width="139.3" height="69.9" fill="#fff"/>
<line x1="542.8" y1="11.5" x2="542.8" y2="81.4" stroke="#f2f2f2" stroke-width="0.5"/>
<line x1="565.9" y1="11.5" x2="565.9" y2="81.4" stroke="#f2f2f2" stroke-width="0.5"/>
<line x1="589.8" y1="11.5" x2="589.8" y2="81.4" stroke="#f2f2f2" stroke-width="0.5"/>
<line x1="613.3" y1="11.5" x2="613.3" y2="81.4" stroke="#f2f2f2" stroke-width="0.5"/>
<line x1="637.4" y1="11.5" x2="637.4" y2="81.4" stroke="#f2f2f2" stroke-width="0.5"/>
<line x1="524.5" y1="70.5" x2="663.8" y2="70.5" stroke="#f2f2f2" stroke-width="0.5"/>
<line x1="524.5" y1="54.6" x2="663.8" y2="54.6" stroke="#f2f2f2" stroke-width="0.5"/>
<line x1="524.5" y1="38.7" x2="663.8" y2="38.7" stroke="#f2f2f2" stroke-width="0.5"/>
<line x1="524.5" y1="22.8" x2="663.8" y2="22.8" stroke="#f2f2f2" stroke-width="0.5"/>
<line x1="531.2" y1="11.5" x2="531.2" y2="81.4" stroke="#e6e6e6" stroke-width="0.6"/>
<line x1="554.2" y1="11.5" x2="554.2" y2="81.4" stroke="#e6e6e6" stroke-width="0.6"/>
<line x1="578.2" y1="11.5" x2="578.2" y2="81.4" stroke="#e6e6e6" stroke-width="0.6"/>
<line x1="601.3" y1="11.5" x2="601.3" y2="81.4" stroke="#e6e6e6" stroke-width="0.6"/>
<line x1="625.2" y1="11.5" x2="625.2" y2="81.4" stroke="#e6e6e6" stroke-width="0.6"/>
<line x1="649.1" y1="11.5" x2="649.1" y2="81.4" stroke="#e6e6e6" stroke-width="0.6"/>
<line x1="524.5" y1="78.4" x2="663.8" y2="78.4" stroke="#e6e6e6" stroke-width="0.6"/>
<line x1="524.5" y1="62.5" x2="663.8" y2="62.5" stroke="#e6e6e6" stroke-width="0.6"/>
<line x1="524.5" y1="46.6" x2="663.8" y2="46.6" stroke="#e6e6e6" stroke-width="0.6"/>
<line x1="524.5" y1="30.7" x2="663.8" y2="30.7" stroke="#e6e6e6" stroke-width="0.6"/>
<line x1="524.5" y1="14.8" x2="663.8" y2="14.8" stroke="#e6e6e6" stroke-width="0.6"/>
<rect x="524.5" y="82.5" width="139.3" height="69.9" fill="#fff"/>
<line x1="542.8" y1="82.5" x2="542.8" y2="152.4" stroke="#f2f2f2" stroke-width="0.5"/>
<line x1="565.9" y1="82.5" x2="565.9" y2="152.4" stroke="#f2f2f2" stroke-width="0.5"/>
<line x1="589.8" y1="82.5" x2="589.8" y2="152.4" stroke="#f2f2f2" stroke-width="0.5"/>
<line x1="613.3" y1="82.5" x2="613.3" y2="152.4" stroke="#f2f2f2" stroke-width="0.5"/>
<line x1="637.4" y1="82.5" x2="637.4" y2="152.4" stroke="#f2f2f2" stroke-width="0.5"/>
<line x1="524.5" y1="141.4" x2="663.8" y2="141.4" stroke="#f2f2f2" stroke-width="0.5"/>
<line x1="524.5" y1="125.5" x2="663.8" y2="125.5" stroke="#f2f2f2" stroke-width="0.5"/>
<line x1="524.5" y1="109.6" x2="663.8" y2="109.6" stroke="#f2f2f2" stroke-width="0.5"/>
<line x1="524.5" y1="93.7" x2="663.8" y2="93.7" stroke="#f2f2f2" stroke-width="0.5"/>
<line x1="531.2" y1="82.5" x2="531.2" y2="152.4" stroke="#e6e6e6" stroke-width="0.6"/>
<line x1="554.2" y1="82.5" x2="554.2" y2="152.4" stroke="#e6e6e6" stroke-width="0.6"/>
<line x1="578.2" y1="82.5" x2="578.2" y2="152.4" stroke="#e6e6e6" stroke-width="0.6"/>
<line x1="601.3" y1="82.5" x2="601.3" y2="152.4" stroke="#e6e6e6" stroke-width="0.6"/>
<line x1="625.2" y1="82.5" x2="625.2" y2="152.4" stroke="#e6e6e6" stroke-width="0.6"/>
<line x1="649.1" y1="82.5" x2="649.1" y2="152.4" stroke="#e6e6e6" stroke-width="0.6"/>
<line x1="524.5" y1="149.3" x2="663.8" y2="149.3" stroke="#e6e6e6" stroke-width="0.6"/>
<line x1="524.5" y1="133.4" x2="663.8" y2="133.4" stroke="#e6e6e6" stroke-width="0.6"/>
<line x1="524.5" y1="117.5" x2="663.8" y2="117.5" stroke="#e6e6e6" stroke-width="0.6"/>
<line x1="524.5" y1="101.6" x2="663.8" y2="101.6" stroke="#e6e6e6" stroke-width="0.6"/>
<line x1="524.5" y1="85.7" x2="663.8" y2="85.7" stroke="#e6e6e6" stroke-width="0.6"/>
<rect x="524.5" y="153.8" width="139.3" height="69.5" fill="#fff"/>
<line x1="542.8" y1="153.8" x2="542.8" y2="223.3" stroke="#f2f2f2" stroke-width="0.5"/>
<line x1="565.9" y1="153.8" x2="565.9" y2="223.3" stroke="#f2f2f2" stroke-width="0.5"/>
<line x1="589.8" y1="153.8" x2="589.8" y2="223.3" stroke="#f2f2f2" stroke-width="0.5"/>
<line x1="613.3" y1="153.8" x2="613.3" y2="223.3" stroke="#f2f2f2" stroke-width="0.5"/>
<line x1="637.4" y1="153.8" x2="637.4" y2="223.3" stroke="#f2f2f2" stroke-width="0.5"/>
<line x1="524.5" y1="212.4" x2="663.8" y2="212.4" stroke="#f2f2f2" stroke-width="0.5"/>
<line x1="524.5" y1="196.5" x2="663.8" y2="196.5" stroke="#f2f2f2" stroke-width="0.5"/>
<line x1="524.5" y1="180.6" x2="663.8" y2="180.6" stroke="#f2f2f2" stroke-width="0.5"/>
<line x1="524.5" y1="164.7" x2="663.8" y2="164.7" stroke="#f2f2f2" stroke-width="0.5"/>
<line x1="531.2" y1="153.8" x2="531.2" y2="223.3" stroke="#e6e6e6" stroke-width="0.6"/>
<line x1="554.2" y1="153.8" x2="554.2" y2="223.3" stroke="#e6e6e6" stroke-width="0.6"/>
<line x1="578.2" y1="153.8" x2="578.2" y2="223.3" stroke="#e6e6e6" stroke-width="0.6"/>
<line x1="601.3" y1="153.8" x2="601.3" y2="223.3" stroke="#e6e6e6" stroke-width="0.6"/>
<line x1="625.2" y1="153.8" x2="625.2" y2="223.3" stroke="#e6e6e6" stroke-width="0.6"/>
<line x1="649.1" y1="153.8" x2="649.1" y2="223.3" stroke="#e6e6e6" stroke-width="0.6"/>
<line x1="524.5" y1="220.3" x2="663.8" y2="220.3" stroke="#e6e6e6" stroke-width="0.6"/>
<line x1="524.5" y1="204.4" x2="663.8" y2="204.4" stroke="#e6e6e6" stroke-width="0.6"/>
<line x1="524.5" y1="188.5" x2="663.8" y2="188.5" stroke="#e6e6e6" stroke-width="0.6"/>
<line x1="524.5" y1="172.6" x2="663.8" y2="172.6" stroke="#e6e6e6" stroke-width="0.6"/>
<line x1="524.5" y1="156.7" x2="663.8" y2="156.7" stroke="#e6e6e6" stroke-width="0.6"/>
<defs>
<clipPath id="cb00"><rect x="383.5" y="11.5" width="139.1" height="69.9"/></clipPath>
<clipPath id="cb01"><rect x="383.5" y="82.5" width="139.1" height="69.9"/></clipPath>
<clipPath id="cb02"><rect x="383.5" y="153.8" width="139.1" height="69.5"/></clipPath>
<clipPath id="cb10"><rect x="524.5" y="11.5" width="139.3" height="69.9"/></clipPath>
<clipPath id="cb11"><rect x="524.5" y="82.5" width="139.3" height="69.9"/></clipPath>
<clipPath id="cb12"><rect x="524.5" y="153.8" width="139.3" height="69.5"/></clipPath>
</defs>
<g clip-path="url(#cb00)">
<path d="M390.7,11.0 C392.9,12.6 398.3,16.3 403.9,20.2 C409.6,24.1 417.6,29.9 424.4,34.5 C431.2,39.1 438.0,44.3 444.8,47.8 C451.6,51.4 458.4,54.0 465.2,56.0 C472.1,58.1 479.6,59.8 485.7,60.1 C491.8,60.5 496.8,59.4 502.0,58.1 C507.3,56.7 514.8,53.0 517.4,51.9 L517.4,91.8 C514.8,91.8 507.3,92.5 502.0,91.8 C496.8,91.1 491.8,90.1 485.7,87.7 C479.6,85.3 472.1,81.4 465.2,77.5 C458.4,73.6 451.6,69.3 444.8,64.2 C438.0,59.1 431.2,53.1 424.4,46.8 C417.6,40.5 409.6,31.5 403.9,26.4 C398.3,21.2 392.9,17.8 390.7,16.1 Z" fill="#bfbfbf" fill-opacity="0.6"/>
<path d="M390.7,13.1 C392.9,14.7 398.3,18.1 403.9,22.7 C409.6,27.3 417.6,35.0 424.4,40.7 C431.2,46.3 438.0,52.0 444.8,56.6 C451.6,61.2 458.4,65.2 465.2,68.3 C472.1,71.4 480.2,73.8 485.7,75.0 C491.1,76.3 492.8,76.7 497.9,75.9 C503.1,75.0 513.6,70.7 516.8,69.7" fill="none" stroke="#276b8b" stroke-width="0.7" stroke-dasharray="2,2" opacity="0.9"/>
<circle cx="390.7" cy="20.6" r="2.2" fill="#276b8b" fill-opacity="0.6"/>
<circle cx="392.7" cy="18.2" r="2.2" fill="#276b8b" fill-opacity="0.6"/>
<circle cx="393.7" cy="17.2" r="2.2" fill="#276b8b" fill-opacity="0.6"/>
<circle cx="395.8" cy="16.5" r="2.2" fill="#276b8b" fill-opacity="0.6"/>
<circle cx="397.8" cy="16.1" r="2.2" fill="#276b8b" fill-opacity="0.6"/>
<circle cx="398.8" cy="17.2" r="2.2" fill="#276b8b" fill-opacity="0.6"/>
<circle cx="396.8" cy="19.2" r="2.2" fill="#276b8b" fill-opacity="0.6"/>
<circle cx="401.9" cy="19.2" r="2.2" fill="#276b8b" fill-opacity="0.6"/>
<circle cx="403.9" cy="21.2" r="2.2" fill="#276b8b" fill-opacity="0.6"/>
<circle cx="399.8" cy="28.4" r="2.2" fill="#276b8b" fill-opacity="0.6"/>
<circle cx="400.9" cy="34.1" r="2.2" fill="#276b8b" fill-opacity="0.6"/>
<circle cx="403.9" cy="31.5" r="2.2" fill="#276b8b" fill-opacity="0.6"/>
<circle cx="410.1" cy="24.3" r="2.2" fill="#276b8b" fill-opacity="0.6"/>
<circle cx="412.1" cy="23.3" r="2.2" fill="#276b8b" fill-opacity="0.6"/>
<circle cx="413.1" cy="26.4" r="2.2" fill="#276b8b" fill-opacity="0.6"/>
<circle cx="410.1" cy="28.0" r="2.2" fill="#276b8b" fill-opacity="0.6"/>
<circle cx="414.2" cy="29.4" r="2.2" fill="#276b8b" fill-opacity="0.6"/>
<circle cx="417.2" cy="28.4" r="2.2" fill="#276b8b" fill-opacity="0.6"/>
<circle cx="414.2" cy="35.6" r="2.2" fill="#276b8b" fill-opacity="0.6"/>
<circle cx="417.2" cy="36.6" r="2.2" fill="#276b8b" fill-opacity="0.6"/>
<circle cx="421.3" cy="22.3" r="2.2" fill="#276b8b" fill-opacity="0.6"/>
<circle cx="415.8" cy="54.6" r="2.2" fill="#276b8b" fill-opacity="0.6"/>
<circle cx="419.9" cy="62.2" r="2.2" fill="#276b8b" fill-opacity="0.6"/>
<circle cx="424.4" cy="58.1" r="2.2" fill="#276b8b" fill-opacity="0.6"/>
<circle cx="430.5" cy="59.5" r="2.2" fill="#276b8b" fill-opacity="0.6"/>
<circle cx="435.6" cy="60.1" r="2.2" fill="#276b8b" fill-opacity="0.6"/>
<circle cx="438.7" cy="61.1" r="2.2" fill="#276b8b" fill-opacity="0.6"/>
<circle cx="448.9" cy="62.2" r="2.2" fill="#276b8b" fill-opacity="0.6"/>
<circle cx="516.8" cy="69.3" r="2.2" fill="#276b8b" fill-opacity="0.6"/>
<circle cx="394.7" cy="18.6" r="2.2" fill="#276b8b" fill-opacity="0.6"/>
<circle cx="396.2" cy="17.8" r="2.2" fill="#276b8b" fill-opacity="0.6"/>
<circle cx="402.9" cy="20.2" r="2.2" fill="#276b8b" fill-opacity="0.6"/>
<circle cx="411.1" cy="27.4" r="2.2" fill="#276b8b" fill-opacity="0.6"/>
<circle cx="415.2" cy="30.5" r="2.2" fill="#276b8b" fill-opacity="0.6"/>
</g>
<rect x="383.5" y="11.5" width="139.1" height="69.9" fill="none" stroke="#d6d6d6" stroke-width="0.7"/>
<path d="M383.5,11.5 V81.4 H522.6" fill="none" stroke="#b9b9b9" stroke-width="0.9"/>
<text x="519.5" y="20.8" font-size="7.75" text-anchor="end" font-weight="bold" fill="#111" >Spearman r = -0.83</text>
<text x="519.5" y="30.7" font-size="7.75" text-anchor="end" font-weight="bold" fill="#111" >p = 2.24e-7</text>
<g clip-path="url(#cb01)">
<path d="M390.7,145.0 C399.7,145.1 429.0,145.3 444.8,145.4 C460.7,145.5 473.6,145.8 485.7,145.8 C497.8,145.8 512.1,145.5 517.4,145.4 L517.4,150.3 C512.1,150.1 497.8,149.5 485.7,149.1 C473.6,148.7 460.7,148.1 444.8,147.9 C429.0,147.7 399.7,147.9 390.7,147.9 Z" fill="#bfbfbf" fill-opacity="0.6"/>
<path d="M390.7,146.2 C399.7,146.3 423.7,146.4 444.8,146.6 C465.9,146.9 505.3,147.7 517.4,147.9" fill="none" stroke="#f0647f" stroke-width="0.7" stroke-dasharray="2,2" opacity="0.9"/>
<circle cx="390.7" cy="145.4" r="2.2" fill="#f0647f" fill-opacity="0.6"/>
<circle cx="392.7" cy="147.0" r="2.2" fill="#f0647f" fill-opacity="0.6"/>
<circle cx="394.7" cy="147.5" r="2.2" fill="#f0647f" fill-opacity="0.6"/>
<circle cx="396.8" cy="147.9" r="2.2" fill="#f0647f" fill-opacity="0.6"/>
<circle cx="398.8" cy="147.5" r="2.2" fill="#f0647f" fill-opacity="0.6"/>
<circle cx="400.9" cy="144.4" r="2.2" fill="#f0647f" fill-opacity="0.6"/>
<circle cx="400.9" cy="147.9" r="2.2" fill="#f0647f" fill-opacity="0.6"/>
<circle cx="402.9" cy="147.0" r="2.2" fill="#f0647f" fill-opacity="0.6"/>
<circle cx="403.9" cy="145.4" r="2.2" fill="#f0647f" fill-opacity="0.6"/>
<circle cx="410.1" cy="146.4" r="2.2" fill="#f0647f" fill-opacity="0.6"/>
<circle cx="411.1" cy="147.5" r="2.2" fill="#f0647f" fill-opacity="0.6"/>
<circle cx="412.1" cy="145.4" r="2.2" fill="#f0647f" fill-opacity="0.6"/>
<circle cx="414.2" cy="144.4" r="2.2" fill="#f0647f" fill-opacity="0.6"/>
<circle cx="415.2" cy="147.0" r="2.2" fill="#f0647f" fill-opacity="0.6"/>
<circle cx="416.2" cy="143.4" r="2.2" fill="#f0647f" fill-opacity="0.6"/>
<circle cx="417.2" cy="145.4" r="2.2" fill="#f0647f" fill-opacity="0.6"/>
<circle cx="420.3" cy="147.0" r="2.2" fill="#f0647f" fill-opacity="0.6"/>
<circle cx="423.4" cy="147.0" r="2.2" fill="#f0647f" fill-opacity="0.6"/>
<circle cx="425.4" cy="147.0" r="2.2" fill="#f0647f" fill-opacity="0.6"/>
<circle cx="430.5" cy="145.0" r="2.2" fill="#f0647f" fill-opacity="0.6"/>
<circle cx="435.6" cy="147.0" r="2.2" fill="#f0647f" fill-opacity="0.6"/>
<circle cx="438.7" cy="146.4" r="2.2" fill="#f0647f" fill-opacity="0.6"/>
<circle cx="448.9" cy="146.4" r="2.2" fill="#f0647f" fill-opacity="0.6"/>
<circle cx="516.8" cy="147.9" r="2.2" fill="#f0647f" fill-opacity="0.6"/>
</g>
<rect x="383.5" y="82.5" width="139.1" height="69.9" fill="none" stroke="#d6d6d6" stroke-width="0.7"/>
<path d="M383.5,82.5 V152.4 H522.6" fill="none" stroke="#b9b9b9" stroke-width="0.9"/>
<text x="519.5" y="91.8" font-size="7.75" text-anchor="end" font-weight="bold" fill="#111" >Spearman r = 0.26</text>
<text x="519.5" y="101.7" font-size="7.75" text-anchor="end" font-weight="bold" fill="#111" >p = 0.1420</text>
<g clip-path="url(#cb02)">
<path d="M390.7,219.5 C392.9,217.2 398.3,211.4 403.9,205.6 C409.6,199.8 417.6,190.7 424.4,184.7 C431.2,178.8 438.0,174.3 444.8,170.0 C451.6,165.7 458.4,162.0 465.2,159.2 C472.1,156.3 477.0,154.4 485.7,153.0 C494.4,151.7 512.1,151.3 517.4,151.0 L517.4,182.7 C514.8,181.2 507.3,175.9 502.0,174.1 C496.8,172.2 491.8,171.2 485.7,171.6 C479.6,172.1 472.1,174.4 465.2,177.0 C458.4,179.5 451.6,183.4 444.8,186.8 C438.0,190.2 431.2,192.9 424.4,197.4 C417.6,201.9 409.6,208.9 403.9,213.8 C398.3,218.6 392.9,224.5 390.7,226.7 Z" fill="#bfbfbf" fill-opacity="0.6"/>
<path d="M390.7,222.6 C392.9,220.4 398.3,215.0 403.9,209.7 C409.6,204.4 417.6,196.5 424.4,190.9 C431.2,185.2 438.0,179.8 444.8,175.7 C451.6,171.6 458.4,168.6 465.2,166.3 C472.1,164.0 480.2,162.6 485.7,161.8 C491.1,161.0 492.8,160.7 497.9,161.4 C503.1,162.1 513.6,165.2 516.8,165.9" fill="none" stroke="#734194" stroke-width="0.7" stroke-dasharray="2,2" opacity="0.9"/>
<circle cx="390.7" cy="217.0" r="2.2" fill="#734194" fill-opacity="0.6"/>
<circle cx="392.7" cy="218.5" r="2.2" fill="#734194" fill-opacity="0.6"/>
<circle cx="394.7" cy="217.9" r="2.2" fill="#734194" fill-opacity="0.6"/>
<circle cx="396.8" cy="218.5" r="2.2" fill="#734194" fill-opacity="0.6"/>
<circle cx="398.8" cy="219.1" r="2.2" fill="#734194" fill-opacity="0.6"/>
<circle cx="399.8" cy="217.5" r="2.2" fill="#734194" fill-opacity="0.6"/>
<circle cx="400.9" cy="214.4" r="2.2" fill="#734194" fill-opacity="0.6"/>
<circle cx="401.9" cy="213.4" r="2.2" fill="#734194" fill-opacity="0.6"/>
<circle cx="402.9" cy="215.4" r="2.2" fill="#734194" fill-opacity="0.6"/>
<circle cx="399.8" cy="206.8" r="2.2" fill="#734194" fill-opacity="0.6"/>
<circle cx="401.5" cy="205.2" r="2.2" fill="#734194" fill-opacity="0.6"/>
<circle cx="403.9" cy="205.6" r="2.2" fill="#734194" fill-opacity="0.6"/>
<circle cx="410.1" cy="208.2" r="2.2" fill="#734194" fill-opacity="0.6"/>
<circle cx="411.1" cy="210.3" r="2.2" fill="#734194" fill-opacity="0.6"/>
<circle cx="412.1" cy="209.3" r="2.2" fill="#734194" fill-opacity="0.6"/>
<circle cx="413.1" cy="212.3" r="2.2" fill="#734194" fill-opacity="0.6"/>
<circle cx="414.2" cy="207.2" r="2.2" fill="#734194" fill-opacity="0.6"/>
<circle cx="415.2" cy="208.9" r="2.2" fill="#734194" fill-opacity="0.6"/>
<circle cx="416.2" cy="209.3" r="2.2" fill="#734194" fill-opacity="0.6"/>
<circle cx="417.2" cy="203.1" r="2.2" fill="#734194" fill-opacity="0.6"/>
<circle cx="414.2" cy="202.7" r="2.2" fill="#734194" fill-opacity="0.6"/>
<circle cx="421.3" cy="213.4" r="2.2" fill="#734194" fill-opacity="0.6"/>
<circle cx="415.8" cy="182.1" r="2.2" fill="#734194" fill-opacity="0.6"/>
<circle cx="419.9" cy="174.5" r="2.2" fill="#734194" fill-opacity="0.6"/>
<circle cx="424.4" cy="178.2" r="2.2" fill="#734194" fill-opacity="0.6"/>
<circle cx="430.5" cy="178.2" r="2.2" fill="#734194" fill-opacity="0.6"/>
<circle cx="435.6" cy="176.1" r="2.2" fill="#734194" fill-opacity="0.6"/>
<circle cx="438.7" cy="175.5" r="2.2" fill="#734194" fill-opacity="0.6"/>
<circle cx="448.9" cy="174.5" r="2.2" fill="#734194" fill-opacity="0.6"/>
<circle cx="516.8" cy="166.3" r="2.2" fill="#734194" fill-opacity="0.6"/>
<circle cx="392.7" cy="221.5" r="2.2" fill="#734194" fill-opacity="0.6"/>
<circle cx="395.8" cy="219.5" r="2.2" fill="#734194" fill-opacity="0.6"/>
<circle cx="397.8" cy="219.1" r="2.2" fill="#734194" fill-opacity="0.6"/>
</g>
<rect x="383.5" y="153.8" width="139.1" height="69.5" fill="none" stroke="#d6d6d6" stroke-width="0.7"/>
<path d="M383.5,153.8 V223.3 H522.6" fill="none" stroke="#b9b9b9" stroke-width="0.9"/>
<text x="519.5" y="211.7" font-size="7.75" text-anchor="end" font-weight="bold" fill="#111" >Spearman r = 0.84</text>
<text x="519.5" y="221.1" font-size="7.75" text-anchor="end" font-weight="bold" fill="#111" >p = 1.85e-7</text>
<g clip-path="url(#cb10)">
<path d="M531.7,75.0 C537.3,75.3 544.3,76.2 565.4,76.5 C586.5,76.7 642.9,76.6 658.4,76.7 L658.4,78.3 C642.9,78.3 586.5,78.3 565.4,78.3 C544.3,78.3 537.3,78.3 531.7,78.3 Z" fill="#bfbfbf" fill-opacity="0.6"/>
<path d="M531.7,76.7 C537.3,76.8 544.3,77.2 565.4,77.3 C586.5,77.4 642.9,77.5 658.4,77.5" fill="none" stroke="#276b8b" stroke-width="0.7" stroke-dasharray="2,2" opacity="0.9"/>
<circle cx="531.7" cy="75.9" r="2.2" fill="#276b8b" fill-opacity="0.6"/>
<circle cx="532.7" cy="76.5" r="2.2" fill="#276b8b" fill-opacity="0.6"/>
<circle cx="533.7" cy="77.1" r="2.2" fill="#276b8b" fill-opacity="0.6"/>
<circle cx="534.7" cy="77.5" r="2.2" fill="#276b8b" fill-opacity="0.6"/>
<circle cx="535.7" cy="76.9" r="2.2" fill="#276b8b" fill-opacity="0.6"/>
<circle cx="536.8" cy="77.5" r="2.2" fill="#276b8b" fill-opacity="0.6"/>
<circle cx="537.8" cy="77.1" r="2.2" fill="#276b8b" fill-opacity="0.6"/>
<circle cx="538.8" cy="77.5" r="2.2" fill="#276b8b" fill-opacity="0.6"/>
<circle cx="539.8" cy="77.1" r="2.2" fill="#276b8b" fill-opacity="0.6"/>
<circle cx="540.8" cy="77.5" r="2.2" fill="#276b8b" fill-opacity="0.6"/>
<circle cx="532.3" cy="75.5" r="2.2" fill="#276b8b" fill-opacity="0.6"/>
<circle cx="534.3" cy="75.9" r="2.2" fill="#276b8b" fill-opacity="0.6"/>
<circle cx="536.4" cy="76.5" r="2.2" fill="#276b8b" fill-opacity="0.6"/>
<circle cx="546.0" cy="77.5" r="2.2" fill="#276b8b" fill-opacity="0.6"/>
<circle cx="547.0" cy="77.1" r="2.2" fill="#276b8b" fill-opacity="0.6"/>
<circle cx="552.1" cy="76.5" r="2.2" fill="#276b8b" fill-opacity="0.6"/>
<circle cx="553.1" cy="75.9" r="2.2" fill="#276b8b" fill-opacity="0.6"/>
<circle cx="558.2" cy="73.8" r="2.2" fill="#276b8b" fill-opacity="0.6"/>
<circle cx="571.1" cy="77.5" r="2.2" fill="#276b8b" fill-opacity="0.6"/>
<circle cx="578.0" cy="77.5" r="2.2" fill="#276b8b" fill-opacity="0.6"/>
<circle cx="579.3" cy="77.1" r="2.2" fill="#276b8b" fill-opacity="0.6"/>
<circle cx="580.7" cy="76.5" r="2.2" fill="#276b8b" fill-opacity="0.6"/>
<circle cx="584.8" cy="75.9" r="2.2" fill="#276b8b" fill-opacity="0.6"/>
<circle cx="588.3" cy="77.5" r="2.2" fill="#276b8b" fill-opacity="0.6"/>
<circle cx="589.5" cy="77.1" r="2.2" fill="#276b8b" fill-opacity="0.6"/>
<circle cx="590.9" cy="77.5" r="2.2" fill="#276b8b" fill-opacity="0.6"/>
<circle cx="596.0" cy="77.1" r="2.2" fill="#276b8b" fill-opacity="0.6"/>
<circle cx="606.7" cy="77.5" r="2.2" fill="#276b8b" fill-opacity="0.6"/>
<circle cx="612.4" cy="77.5" r="2.2" fill="#276b8b" fill-opacity="0.6"/>
<circle cx="626.7" cy="77.5" r="2.2" fill="#276b8b" fill-opacity="0.6"/>
<circle cx="657.8" cy="77.5" r="2.2" fill="#276b8b" fill-opacity="0.6"/>
</g>
<rect x="524.5" y="11.5" width="139.3" height="69.9" fill="none" stroke="#d6d6d6" stroke-width="0.7"/>
<path d="M524.5,11.5 V81.4 H663.8" fill="none" stroke="#b9b9b9" stroke-width="0.9"/>
<text x="660.7" y="20.8" font-size="7.75" text-anchor="end" font-weight="bold" fill="#111" >Spearman r = -0.55</text>
<text x="660.7" y="30.7" font-size="7.75" text-anchor="end" font-weight="bold" fill="#111" >p = 6.81e-5</text>
<g clip-path="url(#cb11)">
<path d="M531.7,110.6 C533.9,113.6 539.3,124.3 544.9,128.6 C550.6,133.0 558.6,135.3 565.4,136.8 C572.2,138.4 579.0,137.8 585.8,137.8 C592.6,137.8 599.4,137.9 606.2,136.8 C613.1,135.7 618.0,133.4 626.7,131.1 C635.4,128.8 653.1,124.3 658.4,122.9 L658.4,152.6 C653.1,151.8 635.4,149.2 626.7,147.9 C618.0,146.5 613.1,145.1 606.2,144.6 C599.4,144.0 592.6,144.7 585.8,144.6 C579.0,144.5 572.2,145.3 565.4,143.8 C558.6,142.3 550.6,139.7 544.9,135.6 C539.3,131.4 533.9,121.6 531.7,118.8 Z" fill="#bfbfbf" fill-opacity="0.6"/>
<path d="M531.7,114.7 C533.9,117.6 539.3,128.0 544.9,132.1 C550.6,136.3 558.6,138.2 565.4,139.7 C572.2,141.1 570.3,140.5 585.8,140.7 C601.3,140.9 646.3,140.7 658.4,140.7" fill="none" stroke="#f0647f" stroke-width="0.7" stroke-dasharray="2,2" opacity="0.9"/>
<circle cx="532.7" cy="98.4" r="2.2" fill="#f0647f" fill-opacity="0.6"/>
<circle cx="533.7" cy="97.3" r="2.2" fill="#f0647f" fill-opacity="0.6"/>
<circle cx="534.7" cy="98.0" r="2.2" fill="#f0647f" fill-opacity="0.6"/>
<circle cx="535.7" cy="97.3" r="2.2" fill="#f0647f" fill-opacity="0.6"/>
<circle cx="536.8" cy="98.0" r="2.2" fill="#f0647f" fill-opacity="0.6"/>
<circle cx="537.8" cy="98.4" r="2.2" fill="#f0647f" fill-opacity="0.6"/>
<circle cx="538.8" cy="99.4" r="2.2" fill="#f0647f" fill-opacity="0.6"/>
<circle cx="532.7" cy="101.4" r="2.2" fill="#f0647f" fill-opacity="0.6"/>
<circle cx="533.7" cy="102.5" r="2.2" fill="#f0647f" fill-opacity="0.6"/>
<circle cx="535.7" cy="102.5" r="2.2" fill="#f0647f" fill-opacity="0.6"/>
<circle cx="536.8" cy="103.5" r="2.2" fill="#f0647f" fill-opacity="0.6"/>
<circle cx="538.8" cy="102.5" r="2.2" fill="#f0647f" fill-opacity="0.6"/>
<circle cx="539.8" cy="104.5" r="2.2" fill="#f0647f" fill-opacity="0.6"/>
<circle cx="534.7" cy="105.5" r="2.2" fill="#f0647f" fill-opacity="0.6"/>
<circle cx="531.7" cy="106.1" r="2.2" fill="#f0647f" fill-opacity="0.6"/>
<circle cx="532.7" cy="107.6" r="2.2" fill="#f0647f" fill-opacity="0.6"/>
<circle cx="534.7" cy="108.6" r="2.2" fill="#f0647f" fill-opacity="0.6"/>
<circle cx="536.8" cy="107.6" r="2.2" fill="#f0647f" fill-opacity="0.6"/>
<circle cx="538.8" cy="108.6" r="2.2" fill="#f0647f" fill-opacity="0.6"/>
<circle cx="540.8" cy="108.2" r="2.2" fill="#f0647f" fill-opacity="0.6"/>
<circle cx="547.0" cy="102.0" r="2.2" fill="#f0647f" fill-opacity="0.6"/>
<circle cx="552.1" cy="104.1" r="2.2" fill="#f0647f" fill-opacity="0.6"/>
<circle cx="547.0" cy="108.2" r="2.2" fill="#f0647f" fill-opacity="0.6"/>
<circle cx="546.6" cy="114.7" r="2.2" fill="#f0647f" fill-opacity="0.6"/>
<circle cx="539.8" cy="112.7" r="2.2" fill="#f0647f" fill-opacity="0.6"/>
<circle cx="533.7" cy="112.7" r="2.2" fill="#f0647f" fill-opacity="0.6"/>
<circle cx="531.7" cy="115.7" r="2.2" fill="#f0647f" fill-opacity="0.6"/>
<circle cx="531.7" cy="121.9" r="2.2" fill="#f0647f" fill-opacity="0.6"/>
<circle cx="532.7" cy="123.9" r="2.2" fill="#f0647f" fill-opacity="0.6"/>
<circle cx="535.7" cy="125.0" r="2.2" fill="#f0647f" fill-opacity="0.6"/>
<circle cx="539.8" cy="125.0" r="2.2" fill="#f0647f" fill-opacity="0.6"/>
<circle cx="534.7" cy="132.1" r="2.2" fill="#f0647f" fill-opacity="0.6"/>
<circle cx="537.8" cy="134.2" r="2.2" fill="#f0647f" fill-opacity="0.6"/>
<circle cx="533.7" cy="131.1" r="2.2" fill="#f0647f" fill-opacity="0.6"/>
<circle cx="544.9" cy="131.1" r="2.2" fill="#f0647f" fill-opacity="0.6"/>
<circle cx="548.0" cy="129.0" r="2.2" fill="#f0647f" fill-opacity="0.6"/>
<circle cx="549.0" cy="133.1" r="2.2" fill="#f0647f" fill-opacity="0.6"/>
<circle cx="551.1" cy="132.1" r="2.2" fill="#f0647f" fill-opacity="0.6"/>
<circle cx="553.1" cy="129.0" r="2.2" fill="#f0647f" fill-opacity="0.6"/>
<circle cx="555.2" cy="131.1" r="2.2" fill="#f0647f" fill-opacity="0.6"/>
<circle cx="557.2" cy="133.1" r="2.2" fill="#f0647f" fill-opacity="0.6"/>
<circle cx="558.2" cy="132.1" r="2.2" fill="#f0647f" fill-opacity="0.6"/>
<circle cx="560.3" cy="133.1" r="2.2" fill="#f0647f" fill-opacity="0.6"/>
<circle cx="562.3" cy="135.2" r="2.2" fill="#f0647f" fill-opacity="0.6"/>
<circle cx="567.4" cy="130.1" r="2.2" fill="#f0647f" fill-opacity="0.6"/>
<circle cx="568.4" cy="134.2" r="2.2" fill="#f0647f" fill-opacity="0.6"/>
<circle cx="571.5" cy="136.8" r="2.2" fill="#f0647f" fill-opacity="0.6"/>
<circle cx="574.6" cy="136.2" r="2.2" fill="#f0647f" fill-opacity="0.6"/>
<circle cx="577.6" cy="136.2" r="2.2" fill="#f0647f" fill-opacity="0.6"/>
<circle cx="579.7" cy="130.1" r="2.2" fill="#f0647f" fill-opacity="0.6"/>
<circle cx="579.7" cy="132.1" r="2.2" fill="#f0647f" fill-opacity="0.6"/>
<circle cx="580.7" cy="135.2" r="2.2" fill="#f0647f" fill-opacity="0.6"/>
<circle cx="583.8" cy="136.2" r="2.2" fill="#f0647f" fill-opacity="0.6"/>
<circle cx="585.8" cy="131.1" r="2.2" fill="#f0647f" fill-opacity="0.6"/>
<circle cx="586.8" cy="133.1" r="2.2" fill="#f0647f" fill-opacity="0.6"/>
<circle cx="587.9" cy="135.2" r="2.2" fill="#f0647f" fill-opacity="0.6"/>
<circle cx="589.9" cy="133.1" r="2.2" fill="#f0647f" fill-opacity="0.6"/>
<circle cx="590.9" cy="131.1" r="2.2" fill="#f0647f" fill-opacity="0.6"/>
<circle cx="594.0" cy="132.1" r="2.2" fill="#f0647f" fill-opacity="0.6"/>
<circle cx="595.0" cy="134.2" r="2.2" fill="#f0647f" fill-opacity="0.6"/>
<circle cx="597.1" cy="136.2" r="2.2" fill="#f0647f" fill-opacity="0.6"/>
<circle cx="599.1" cy="130.1" r="2.2" fill="#f0647f" fill-opacity="0.6"/>
<circle cx="601.1" cy="133.1" r="2.2" fill="#f0647f" fill-opacity="0.6"/>
<circle cx="603.2" cy="134.2" r="2.2" fill="#f0647f" fill-opacity="0.6"/>
<circle cx="604.2" cy="132.1" r="2.2" fill="#f0647f" fill-opacity="0.6"/>
<circle cx="606.2" cy="131.1" r="2.2" fill="#f0647f" fill-opacity="0.6"/>
<circle cx="608.3" cy="135.2" r="2.2" fill="#f0647f" fill-opacity="0.6"/>
<circle cx="611.4" cy="132.1" r="2.2" fill="#f0647f" fill-opacity="0.6"/>
<circle cx="613.4" cy="131.1" r="2.2" fill="#f0647f" fill-opacity="0.6"/>
<circle cx="620.6" cy="133.1" r="2.2" fill="#f0647f" fill-opacity="0.6"/>
<circle cx="632.8" cy="134.2" r="2.2" fill="#f0647f" fill-opacity="0.6"/>
<circle cx="571.1" cy="102.0" r="2.2" fill="#f0647f" fill-opacity="0.6"/>
<circle cx="579.7" cy="107.8" r="2.2" fill="#f0647f" fill-opacity="0.6"/>
<circle cx="577.2" cy="117.2" r="2.2" fill="#f0647f" fill-opacity="0.6"/>
<circle cx="579.7" cy="123.9" r="2.2" fill="#f0647f" fill-opacity="0.6"/>
<circle cx="606.2" cy="120.9" r="2.2" fill="#f0647f" fill-opacity="0.6"/>
<circle cx="536.8" cy="142.3" r="2.2" fill="#f0647f" fill-opacity="0.6"/>
<circle cx="531.7" cy="147.5" r="2.2" fill="#f0647f" fill-opacity="0.6"/>
<circle cx="544.9" cy="145.4" r="2.2" fill="#f0647f" fill-opacity="0.6"/>
<circle cx="547.0" cy="147.5" r="2.2" fill="#f0647f" fill-opacity="0.6"/>
<circle cx="549.0" cy="145.4" r="2.2" fill="#f0647f" fill-opacity="0.6"/>
<circle cx="551.1" cy="143.4" r="2.2" fill="#f0647f" fill-opacity="0.6"/>
<circle cx="552.1" cy="147.5" r="2.2" fill="#f0647f" fill-opacity="0.6"/>
<circle cx="555.2" cy="145.4" r="2.2" fill="#f0647f" fill-opacity="0.6"/>
<circle cx="557.2" cy="147.5" r="2.2" fill="#f0647f" fill-opacity="0.6"/>
<circle cx="561.3" cy="148.5" r="2.2" fill="#f0647f" fill-opacity="0.6"/>
<circle cx="567.4" cy="144.4" r="2.2" fill="#f0647f" fill-opacity="0.6"/>
<circle cx="568.4" cy="148.5" r="2.2" fill="#f0647f" fill-opacity="0.6"/>
<circle cx="574.6" cy="148.5" r="2.2" fill="#f0647f" fill-opacity="0.6"/>
<circle cx="576.6" cy="147.9" r="2.2" fill="#f0647f" fill-opacity="0.6"/>
<circle cx="579.7" cy="148.5" r="2.2" fill="#f0647f" fill-opacity="0.6"/>
<circle cx="583.8" cy="148.5" r="2.2" fill="#f0647f" fill-opacity="0.6"/>
<circle cx="587.9" cy="147.9" r="2.2" fill="#f0647f" fill-opacity="0.6"/>
<circle cx="591.9" cy="148.5" r="2.2" fill="#f0647f" fill-opacity="0.6"/>
<circle cx="595.0" cy="148.5" r="2.2" fill="#f0647f" fill-opacity="0.6"/>
<circle cx="591.9" cy="143.4" r="2.2" fill="#f0647f" fill-opacity="0.6"/>
<circle cx="585.8" cy="142.3" r="2.2" fill="#f0647f" fill-opacity="0.6"/>
<circle cx="579.7" cy="141.3" r="2.2" fill="#f0647f" fill-opacity="0.6"/>
<circle cx="606.2" cy="143.0" r="2.2" fill="#f0647f" fill-opacity="0.6"/>
<circle cx="608.3" cy="140.3" r="2.2" fill="#f0647f" fill-opacity="0.6"/>
<circle cx="626.7" cy="148.5" r="2.2" fill="#f0647f" fill-opacity="0.6"/>
<circle cx="657.8" cy="148.5" r="2.2" fill="#f0647f" fill-opacity="0.6"/>
<circle cx="542.9" cy="137.2" r="2.2" fill="#f0647f" fill-opacity="0.6"/>
<circle cx="544.9" cy="139.3" r="2.2" fill="#f0647f" fill-opacity="0.6"/>
<circle cx="547.0" cy="138.2" r="2.2" fill="#f0647f" fill-opacity="0.6"/>
<circle cx="549.0" cy="140.3" r="2.2" fill="#f0647f" fill-opacity="0.6"/>
<circle cx="553.1" cy="139.3" r="2.2" fill="#f0647f" fill-opacity="0.6"/>
<circle cx="555.2" cy="137.2" r="2.2" fill="#f0647f" fill-opacity="0.6"/>
<circle cx="557.2" cy="141.3" r="2.2" fill="#f0647f" fill-opacity="0.6"/>
<circle cx="559.2" cy="139.3" r="2.2" fill="#f0647f" fill-opacity="0.6"/>
<circle cx="561.3" cy="141.3" r="2.2" fill="#f0647f" fill-opacity="0.6"/>
<circle cx="563.3" cy="143.4" r="2.2" fill="#f0647f" fill-opacity="0.6"/>
<circle cx="566.4" cy="140.3" r="2.2" fill="#f0647f" fill-opacity="0.6"/>
<circle cx="541.9" cy="143.4" r="2.2" fill="#f0647f" fill-opacity="0.6"/>
<circle cx="543.9" cy="141.3" r="2.2" fill="#f0647f" fill-opacity="0.6"/>
<circle cx="539.8" cy="141.3" r="2.2" fill="#f0647f" fill-opacity="0.6"/>
<circle cx="547.0" cy="143.4" r="2.2" fill="#f0647f" fill-opacity="0.6"/>
<circle cx="551.1" cy="141.3" r="2.2" fill="#f0647f" fill-opacity="0.6"/>
<circle cx="553.1" cy="143.4" r="2.2" fill="#f0647f" fill-opacity="0.6"/>
</g>
<rect x="524.5" y="82.5" width="139.3" height="69.9" fill="none" stroke="#d6d6d6" stroke-width="0.7"/>
<path d="M524.5,82.5 V152.4 H663.8" fill="none" stroke="#b9b9b9" stroke-width="0.9"/>
<text x="660.7" y="91.8" font-size="7.75" text-anchor="end" font-weight="bold" fill="#111" >Spearman r = -0.32</text>
<text x="660.7" y="101.7" font-size="7.75" text-anchor="end" font-weight="bold" fill="#111" >p = 3.77e-5</text>
<g clip-path="url(#cb12)">
<path d="M531.7,190.9 C533.9,188.1 541.0,178.6 544.9,174.5 C548.9,170.4 551.7,168.2 555.2,166.3 C558.6,164.4 560.3,163.9 565.4,163.2 C570.5,162.6 579.0,163.0 585.8,162.6 C592.6,162.3 599.4,162.1 606.2,161.2 C613.1,160.3 618.0,158.3 626.7,157.1 C635.4,155.9 653.1,154.6 658.4,154.0 L658.4,181.7 C653.1,180.1 635.4,174.7 626.7,172.5 C618.0,170.2 613.1,168.9 606.2,168.4 C599.4,167.9 592.6,169.1 585.8,169.4 C579.0,169.7 570.5,169.6 565.4,170.0 C560.3,170.4 558.6,170.3 555.2,171.6 C551.7,173.0 548.9,173.9 544.9,178.0 C541.0,182.0 533.9,193.0 531.7,196.0 Z" fill="#bfbfbf" fill-opacity="0.6"/>
<path d="M531.7,193.3 C533.9,190.5 541.0,180.1 544.9,176.1 C548.9,172.1 551.7,171.0 555.2,169.4 C558.6,167.8 560.3,167.3 565.4,166.7 C570.5,166.1 570.3,166.1 585.8,165.9 C601.3,165.7 646.3,165.4 658.4,165.3" fill="none" stroke="#734194" stroke-width="0.7" stroke-dasharray="2,2" opacity="0.9"/>
<circle cx="531.7" cy="157.1" r="2.2" fill="#734194" fill-opacity="0.6"/>
<circle cx="544.9" cy="158.1" r="2.2" fill="#734194" fill-opacity="0.6"/>
<circle cx="547.0" cy="157.7" r="2.2" fill="#734194" fill-opacity="0.6"/>
<circle cx="549.0" cy="157.1" r="2.2" fill="#734194" fill-opacity="0.6"/>
<circle cx="551.1" cy="158.1" r="2.2" fill="#734194" fill-opacity="0.6"/>
<circle cx="553.1" cy="157.7" r="2.2" fill="#734194" fill-opacity="0.6"/>
<circle cx="555.2" cy="157.1" r="2.2" fill="#734194" fill-opacity="0.6"/>
<circle cx="557.2" cy="158.1" r="2.2" fill="#734194" fill-opacity="0.6"/>
<circle cx="561.3" cy="157.1" r="2.2" fill="#734194" fill-opacity="0.6"/>
<circle cx="567.4" cy="157.1" r="2.2" fill="#734194" fill-opacity="0.6"/>
<circle cx="574.6" cy="157.1" r="2.2" fill="#734194" fill-opacity="0.6"/>
<circle cx="576.6" cy="156.5" r="2.2" fill="#734194" fill-opacity="0.6"/>
<circle cx="579.7" cy="157.1" r="2.2" fill="#734194" fill-opacity="0.6"/>
<circle cx="584.8" cy="158.1" r="2.2" fill="#734194" fill-opacity="0.6"/>
<circle cx="587.9" cy="157.1" r="2.2" fill="#734194" fill-opacity="0.6"/>
<circle cx="591.9" cy="157.7" r="2.2" fill="#734194" fill-opacity="0.6"/>
<circle cx="595.0" cy="157.1" r="2.2" fill="#734194" fill-opacity="0.6"/>
<circle cx="626.7" cy="156.5" r="2.2" fill="#734194" fill-opacity="0.6"/>
<circle cx="657.8" cy="156.5" r="2.2" fill="#734194" fill-opacity="0.6"/>
<circle cx="544.9" cy="160.2" r="2.2" fill="#734194" fill-opacity="0.6"/>
<circle cx="547.0" cy="161.2" r="2.2" fill="#734194" fill-opacity="0.6"/>
<circle cx="549.0" cy="160.2" r="2.2" fill="#734194" fill-opacity="0.6"/>
<circle cx="551.1" cy="162.2" r="2.2" fill="#734194" fill-opacity="0.6"/>
<circle cx="553.1" cy="161.2" r="2.2" fill="#734194" fill-opacity="0.6"/>
<circle cx="555.2" cy="160.2" r="2.2" fill="#734194" fill-opacity="0.6"/>
<circle cx="557.2" cy="162.2" r="2.2" fill="#734194" fill-opacity="0.6"/>
<circle cx="559.2" cy="161.2" r="2.2" fill="#734194" fill-opacity="0.6"/>
<circle cx="561.3" cy="161.8" r="2.2" fill="#734194" fill-opacity="0.6"/>
<circle cx="566.4" cy="161.2" r="2.2" fill="#734194" fill-opacity="0.6"/>
<circle cx="536.8" cy="163.2" r="2.2" fill="#734194" fill-opacity="0.6"/>
<circle cx="541.9" cy="167.3" r="2.2" fill="#734194" fill-opacity="0.6"/>
<circle cx="549.0" cy="165.3" r="2.2" fill="#734194" fill-opacity="0.6"/>
<circle cx="551.1" cy="166.3" r="2.2" fill="#734194" fill-opacity="0.6"/>
<circle cx="553.1" cy="167.3" r="2.2" fill="#734194" fill-opacity="0.6"/>
<circle cx="555.2" cy="168.4" r="2.2" fill="#734194" fill-opacity="0.6"/>
<circle cx="557.2" cy="166.3" r="2.2" fill="#734194" fill-opacity="0.6"/>
<circle cx="559.2" cy="169.4" r="2.2" fill="#734194" fill-opacity="0.6"/>
<circle cx="561.3" cy="170.4" r="2.2" fill="#734194" fill-opacity="0.6"/>
<circle cx="551.1" cy="170.4" r="2.2" fill="#734194" fill-opacity="0.6"/>
<circle cx="548.0" cy="171.4" r="2.2" fill="#734194" fill-opacity="0.6"/>
<circle cx="544.9" cy="173.5" r="2.2" fill="#734194" fill-opacity="0.6"/>
<circle cx="553.1" cy="171.4" r="2.2" fill="#734194" fill-opacity="0.6"/>
<circle cx="554.1" cy="173.5" r="2.2" fill="#734194" fill-opacity="0.6"/>
<circle cx="549.0" cy="174.5" r="2.2" fill="#734194" fill-opacity="0.6"/>
<circle cx="553.1" cy="178.6" r="2.2" fill="#734194" fill-opacity="0.6"/>
<circle cx="567.4" cy="172.5" r="2.2" fill="#734194" fill-opacity="0.6"/>
<circle cx="568.4" cy="175.5" r="2.2" fill="#734194" fill-opacity="0.6"/>
<circle cx="573.5" cy="169.4" r="2.2" fill="#734194" fill-opacity="0.6"/>
<circle cx="576.6" cy="168.4" r="2.2" fill="#734194" fill-opacity="0.6"/>
<circle cx="579.7" cy="171.4" r="2.2" fill="#734194" fill-opacity="0.6"/>
<circle cx="579.7" cy="174.5" r="2.2" fill="#734194" fill-opacity="0.6"/>
<circle cx="580.7" cy="173.5" r="2.2" fill="#734194" fill-opacity="0.6"/>
<circle cx="585.8" cy="168.4" r="2.2" fill="#734194" fill-opacity="0.6"/>
<circle cx="587.9" cy="170.4" r="2.2" fill="#734194" fill-opacity="0.6"/>
<circle cx="589.9" cy="172.5" r="2.2" fill="#734194" fill-opacity="0.6"/>
<circle cx="591.9" cy="169.4" r="2.2" fill="#734194" fill-opacity="0.6"/>
<circle cx="594.0" cy="173.5" r="2.2" fill="#734194" fill-opacity="0.6"/>
<circle cx="598.1" cy="170.4" r="2.2" fill="#734194" fill-opacity="0.6"/>
<circle cx="599.1" cy="175.5" r="2.2" fill="#734194" fill-opacity="0.6"/>
<circle cx="604.2" cy="172.5" r="2.2" fill="#734194" fill-opacity="0.6"/>
<circle cx="605.2" cy="169.4" r="2.2" fill="#734194" fill-opacity="0.6"/>
<circle cx="609.3" cy="171.4" r="2.2" fill="#734194" fill-opacity="0.6"/>
<circle cx="611.4" cy="174.5" r="2.2" fill="#734194" fill-opacity="0.6"/>
<circle cx="614.4" cy="173.5" r="2.2" fill="#734194" fill-opacity="0.6"/>
<circle cx="620.6" cy="172.5" r="2.2" fill="#734194" fill-opacity="0.6"/>
<circle cx="632.8" cy="172.0" r="2.2" fill="#734194" fill-opacity="0.6"/>
<circle cx="572.5" cy="163.2" r="2.2" fill="#734194" fill-opacity="0.6"/>
<circle cx="591.9" cy="162.2" r="2.2" fill="#734194" fill-opacity="0.6"/>
<circle cx="606.2" cy="163.2" r="2.2" fill="#734194" fill-opacity="0.6"/>
<circle cx="608.3" cy="165.3" r="2.2" fill="#734194" fill-opacity="0.6"/>
<circle cx="598.1" cy="164.3" r="2.2" fill="#734194" fill-opacity="0.6"/>
<circle cx="534.7" cy="173.5" r="2.2" fill="#734194" fill-opacity="0.6"/>
<circle cx="536.8" cy="172.0" r="2.2" fill="#734194" fill-opacity="0.6"/>
<circle cx="533.7" cy="181.7" r="2.2" fill="#734194" fill-opacity="0.6"/>
<circle cx="532.7" cy="185.7" r="2.2" fill="#734194" fill-opacity="0.6"/>
<circle cx="531.7" cy="188.8" r="2.2" fill="#734194" fill-opacity="0.6"/>
<circle cx="532.7" cy="191.9" r="2.2" fill="#734194" fill-opacity="0.6"/>
<circle cx="531.7" cy="196.0" r="2.2" fill="#734194" fill-opacity="0.6"/>
<circle cx="533.7" cy="197.0" r="2.2" fill="#734194" fill-opacity="0.6"/>
<circle cx="534.7" cy="199.0" r="2.2" fill="#734194" fill-opacity="0.6"/>
<circle cx="536.8" cy="198.0" r="2.2" fill="#734194" fill-opacity="0.6"/>
<circle cx="538.8" cy="197.0" r="2.2" fill="#734194" fill-opacity="0.6"/>
<circle cx="532.7" cy="201.1" r="2.2" fill="#734194" fill-opacity="0.6"/>
<circle cx="533.7" cy="203.1" r="2.2" fill="#734194" fill-opacity="0.6"/>
<circle cx="535.7" cy="205.2" r="2.2" fill="#734194" fill-opacity="0.6"/>
<circle cx="537.8" cy="206.2" r="2.2" fill="#734194" fill-opacity="0.6"/>
<circle cx="534.7" cy="207.2" r="2.2" fill="#734194" fill-opacity="0.6"/>
<circle cx="536.8" cy="201.1" r="2.2" fill="#734194" fill-opacity="0.6"/>
<circle cx="538.8" cy="202.1" r="2.2" fill="#734194" fill-opacity="0.6"/>
<circle cx="539.8" cy="204.2" r="2.2" fill="#734194" fill-opacity="0.6"/>
<circle cx="544.9" cy="191.9" r="2.2" fill="#734194" fill-opacity="0.6"/>
<circle cx="547.0" cy="198.0" r="2.2" fill="#734194" fill-opacity="0.6"/>
<circle cx="547.0" cy="203.1" r="2.2" fill="#734194" fill-opacity="0.6"/>
<circle cx="552.1" cy="201.1" r="2.2" fill="#734194" fill-opacity="0.6"/>
<circle cx="570.5" cy="203.5" r="2.2" fill="#734194" fill-opacity="0.6"/>
<circle cx="579.7" cy="199.0" r="2.2" fill="#734194" fill-opacity="0.6"/>
<circle cx="577.2" cy="188.8" r="2.2" fill="#734194" fill-opacity="0.6"/>
<circle cx="579.7" cy="181.7" r="2.2" fill="#734194" fill-opacity="0.6"/>
<circle cx="606.2" cy="184.7" r="2.2" fill="#734194" fill-opacity="0.6"/>
<circle cx="538.8" cy="182.7" r="2.2" fill="#734194" fill-opacity="0.6"/>
<circle cx="538.8" cy="178.6" r="2.2" fill="#734194" fill-opacity="0.6"/>
<circle cx="539.8" cy="187.8" r="2.2" fill="#734194" fill-opacity="0.6"/>
<circle cx="546.0" cy="159.2" r="2.2" fill="#734194" fill-opacity="0.6"/>
<circle cx="548.0" cy="162.2" r="2.2" fill="#734194" fill-opacity="0.6"/>
<circle cx="550.0" cy="161.2" r="2.2" fill="#734194" fill-opacity="0.6"/>
<circle cx="552.1" cy="163.2" r="2.2" fill="#734194" fill-opacity="0.6"/>
<circle cx="554.1" cy="164.3" r="2.2" fill="#734194" fill-opacity="0.6"/>
<circle cx="556.2" cy="163.2" r="2.2" fill="#734194" fill-opacity="0.6"/>
<circle cx="558.2" cy="164.7" r="2.2" fill="#734194" fill-opacity="0.6"/>
<circle cx="550.0" cy="168.4" r="2.2" fill="#734194" fill-opacity="0.6"/>
<circle cx="552.1" cy="168.8" r="2.2" fill="#734194" fill-opacity="0.6"/>
<circle cx="555.2" cy="165.3" r="2.2" fill="#734194" fill-opacity="0.6"/>
</g>
<rect x="524.5" y="153.8" width="139.3" height="69.5" fill="none" stroke="#d6d6d6" stroke-width="0.7"/>
<path d="M524.5,153.8 V223.3 H663.8" fill="none" stroke="#b9b9b9" stroke-width="0.9"/>
<text x="660.7" y="211.7" font-size="7.75" text-anchor="end" font-weight="bold" fill="#111" >Spearman r = 0.32</text>
<text x="660.7" y="221.1" font-size="7.75" text-anchor="end" font-weight="bold" fill="#111" >p = 3.82e-5</text>
<text x="408.5" y="230.0" font-size="6.5" text-anchor="middle" font-weight="normal" fill="#444" stroke="#444" stroke-width="0.2">25000</text>
<text x="434.1" y="230.0" font-size="6.5" text-anchor="middle" font-weight="normal" fill="#444" stroke="#444" stroke-width="0.2">50000</text>
<text x="459.7" y="230.0" font-size="6.5" text-anchor="middle" font-weight="normal" fill="#444" stroke="#444" stroke-width="0.2">75000</text>
<text x="485.3" y="230.0" font-size="6.5" text-anchor="middle" font-weight="normal" fill="#444" stroke="#444" stroke-width="0.2">100000</text>
<text x="510.9" y="230.0" font-size="6.5" text-anchor="middle" font-weight="normal" fill="#444" stroke="#444" stroke-width="0.2">125000</text>
<text x="531.2" y="230.0" font-size="6.5" text-anchor="middle" font-weight="normal" fill="#444" stroke="#444" stroke-width="0.2">1000</text>
<text x="554.2" y="230.0" font-size="6.5" text-anchor="middle" font-weight="normal" fill="#444" stroke="#444" stroke-width="0.2">25000</text>
<text x="578.2" y="230.0" font-size="6.5" text-anchor="middle" font-weight="normal" fill="#444" stroke="#444" stroke-width="0.2">50000</text>
<text x="601.3" y="230.0" font-size="6.5" text-anchor="middle" font-weight="normal" fill="#444" stroke="#444" stroke-width="0.2">75000</text>
<text x="625.2" y="230.0" font-size="6.5" text-anchor="middle" font-weight="normal" fill="#444" stroke="#444" stroke-width="0.2">100000</text>
<text x="649.1" y="230.0" font-size="6.5" text-anchor="middle" font-weight="normal" fill="#444" stroke="#444" stroke-width="0.2">125000</text>
<text x="526.7" y="239.8" font-size="9.1" text-anchor="middle" font-weight="bold" fill="#000" >Read Count</text>
<text transform="translate(363.4,114.6) rotate(-90) scale(0.93,1)" font-size="11.2" font-weight="bold" text-anchor="middle">Relative Abundance</text>
<text transform="translate(0.1,259.3) scale(0.87,1)" font-size="18" font-weight="bold" fill="#000">C</text>
<rect x="57.3" y="245.6" width="625.4" height="142.1" fill="#fff"/>
<line x1="57.3" y1="374.9" x2="682.7" y2="374.9" stroke="#f0f0f0" stroke-width="0.8"/>
<line x1="57.3" y1="358.5" x2="682.7" y2="358.5" stroke="#f0f0f0" stroke-width="0.8"/>
<line x1="57.3" y1="342.2" x2="682.7" y2="342.2" stroke="#f0f0f0" stroke-width="0.8"/>
<line x1="57.3" y1="325.8" x2="682.7" y2="325.8" stroke="#f0f0f0" stroke-width="0.8"/>
<line x1="57.3" y1="309.5" x2="682.7" y2="309.5" stroke="#f0f0f0" stroke-width="0.8"/>
<line x1="57.3" y1="293.2" x2="682.7" y2="293.2" stroke="#f0f0f0" stroke-width="0.8"/>
<line x1="57.3" y1="276.8" x2="682.7" y2="276.8" stroke="#f0f0f0" stroke-width="0.8"/>
<line x1="57.3" y1="260.5" x2="682.7" y2="260.5" stroke="#f0f0f0" stroke-width="0.8"/>
<line x1="57.3" y1="244.1" x2="682.7" y2="244.1" stroke="#f0f0f0" stroke-width="0.8"/>
<line x1="57.3" y1="383.0" x2="682.7" y2="383.0" stroke="#e4e4e4" stroke-width="1"/>
<text x="53.8" y="386.6" font-size="10.3" text-anchor="end" font-weight="normal" fill="#4a4a4a" stroke="#4a4a4a" stroke-width="0.25">1e-02</text>
<line x1="54.6" y1="383.0" x2="57.3" y2="383.0" stroke="#555" stroke-width="0.6"/>
<line x1="57.3" y1="366.7" x2="682.7" y2="366.7" stroke="#e4e4e4" stroke-width="1"/>
<text x="53.8" y="370.3" font-size="10.3" text-anchor="end" font-weight="normal" fill="#4a4a4a" stroke="#4a4a4a" stroke-width="0.25">1e-01</text>
<line x1="54.6" y1="366.7" x2="57.3" y2="366.7" stroke="#555" stroke-width="0.6"/>
<line x1="57.3" y1="350.3" x2="682.7" y2="350.3" stroke="#e4e4e4" stroke-width="1"/>
<text x="53.8" y="353.9" font-size="10.3" text-anchor="end" font-weight="normal" fill="#4a4a4a" stroke="#4a4a4a" stroke-width="0.25">1e+00</text>
<line x1="54.6" y1="350.3" x2="57.3" y2="350.3" stroke="#555" stroke-width="0.6"/>
<line x1="57.3" y1="334.0" x2="682.7" y2="334.0" stroke="#e4e4e4" stroke-width="1"/>
<text x="53.8" y="337.6" font-size="10.3" text-anchor="end" font-weight="normal" fill="#4a4a4a" stroke="#4a4a4a" stroke-width="0.25">1e+01</text>
<line x1="54.6" y1="334.0" x2="57.3" y2="334.0" stroke="#555" stroke-width="0.6"/>
<line x1="57.3" y1="317.7" x2="682.7" y2="317.7" stroke="#e4e4e4" stroke-width="1"/>
<text x="53.8" y="321.3" font-size="10.3" text-anchor="end" font-weight="normal" fill="#4a4a4a" stroke="#4a4a4a" stroke-width="0.25">1e+02</text>
<line x1="54.6" y1="317.7" x2="57.3" y2="317.7" stroke="#555" stroke-width="0.6"/>
<line x1="57.3" y1="301.3" x2="682.7" y2="301.3" stroke="#e4e4e4" stroke-width="1"/>
<text x="53.8" y="304.9" font-size="10.3" text-anchor="end" font-weight="normal" fill="#4a4a4a" stroke="#4a4a4a" stroke-width="0.25">1e+03</text>
<line x1="54.6" y1="301.3" x2="57.3" y2="301.3" stroke="#555" stroke-width="0.6"/>
<line x1="57.3" y1="285.0" x2="682.7" y2="285.0" stroke="#e4e4e4" stroke-width="1"/>
<text x="53.8" y="288.6" font-size="10.3" text-anchor="end" font-weight="normal" fill="#4a4a4a" stroke="#4a4a4a" stroke-width="0.25">1e+04</text>
<line x1="54.6" y1="285.0" x2="57.3" y2="285.0" stroke="#555" stroke-width="0.6"/>
<line x1="57.3" y1="268.6" x2="682.7" y2="268.6" stroke="#e4e4e4" stroke-width="1"/>
<text x="53.8" y="272.2" font-size="10.3" text-anchor="end" font-weight="normal" fill="#4a4a4a" stroke="#4a4a4a" stroke-width="0.25">1e+05</text>
<line x1="54.6" y1="268.6" x2="57.3" y2="268.6" stroke="#555" stroke-width="0.6"/>
<line x1="57.3" y1="252.3" x2="682.7" y2="252.3" stroke="#e4e4e4" stroke-width="1"/>
<text x="53.8" y="255.9" font-size="10.3" text-anchor="end" font-weight="normal" fill="#4a4a4a" stroke="#4a4a4a" stroke-width="0.25">1e+06</text>
<line x1="54.6" y1="252.3" x2="57.3" y2="252.3" stroke="#555" stroke-width="0.6"/>
<line x1="102.4" y1="245.6" x2="102.4" y2="387.7" stroke="#e4e4e4" stroke-width="1.1"/>
<line x1="178.7" y1="245.6" x2="178.7" y2="387.7" stroke="#e4e4e4" stroke-width="1.1"/>
<line x1="255.0" y1="245.6" x2="255.0" y2="387.7" stroke="#e4e4e4" stroke-width="1.1"/>
<line x1="331.3" y1="245.6" x2="331.3" y2="387.7" stroke="#e4e4e4" stroke-width="1.1"/>
<line x1="407.6" y1="245.6" x2="407.6" y2="387.7" stroke="#e4e4e4" stroke-width="1.1"/>
<line x1="483.9" y1="245.6" x2="483.9" y2="387.7" stroke="#e4e4e4" stroke-width="1.1"/>
<line x1="560.2" y1="245.6" x2="560.2" y2="387.7" stroke="#e4e4e4" stroke-width="1.1"/>
<line x1="636.5" y1="245.6" x2="636.5" y2="387.7" stroke="#e4e4e4" stroke-width="1.1"/>
<rect x="57.3" y="245.6" width="625.4" height="142.1" fill="none" stroke="#c8c8c8" stroke-width="0.8"/>
<line x1="178.7" y1="249.5" x2="636.5" y2="249.5" stroke="#3d3d3d" stroke-width="1"/>
<text x="177.5" y="252.4" font-size="8.0" text-anchor="end" font-weight="bold" fill="#111" >p = 0.0025</text>
<line x1="178.7" y1="257.2" x2="560.2" y2="257.2" stroke="#3d3d3d" stroke-width="1"/>
<text x="177.5" y="260.1" font-size="8.0" text-anchor="end" font-weight="bold" fill="#111" >p = 9.09e-6</text>
<line x1="102.4" y1="265.0" x2="636.5" y2="265.0" stroke="#3d3d3d" stroke-width="1"/>
<text x="101.2" y="267.9" font-size="8.0" text-anchor="end" font-weight="bold" fill="#111" >p = 0.0023</text>
<line x1="102.4" y1="273.1" x2="560.2" y2="273.1" stroke="#3d3d3d" stroke-width="1"/>
<text x="101.2" y="276.0" font-size="8.0" text-anchor="end" font-weight="bold" fill="#111" >p = 9.09e-6</text>
<line x1="560.2" y1="280.0" x2="636.5" y2="280.0" stroke="#3d3d3d" stroke-width="1"/>
<text x="559.0" y="282.9" font-size="8.0" text-anchor="end" font-weight="bold" fill="#111" >p = 0.0021</text>
<line x1="407.6" y1="287.5" x2="636.5" y2="287.5" stroke="#3d3d3d" stroke-width="1"/>
<text x="406.4" y="290.4" font-size="8.0" text-anchor="end" font-weight="bold" fill="#111" >p = 0.0023</text>
<line x1="483.9" y1="294.0" x2="636.5" y2="294.0" stroke="#3d3d3d" stroke-width="1"/>
<text x="482.7" y="296.9" font-size="8.0" text-anchor="end" font-weight="bold" fill="#111" >p = 0.0156</text>
<line x1="255.0" y1="300.8" x2="407.6" y2="300.8" stroke="#3d3d3d" stroke-width="1"/>
<text x="253.8" y="303.7" font-size="8.0" text-anchor="end" font-weight="bold" fill="#111" >p = 0.0477</text>
<line x1="483.9" y1="302.8" x2="560.2" y2="302.8" stroke="#3d3d3d" stroke-width="1"/>
<text x="482.7" y="305.7" font-size="8.0" text-anchor="end" font-weight="bold" fill="#111" >p = 5.91e-5</text>
<line x1="178.7" y1="308.0" x2="331.3" y2="308.0" stroke="#3d3d3d" stroke-width="1"/>
<text x="177.5" y="310.9" font-size="8.0" text-anchor="end" font-weight="bold" fill="#111" >p = 0.0477</text>
<line x1="407.6" y1="309.4" x2="560.2" y2="309.4" stroke="#3d3d3d" stroke-width="1"/>
<text x="406.4" y="312.3" font-size="8.0" text-anchor="end" font-weight="bold" fill="#111" >p = 4.95e-6</text>
<line x1="178.7" y1="315.4" x2="255.0" y2="315.4" stroke="#3d3d3d" stroke-width="1"/>
<text x="177.5" y="318.3" font-size="8.0" text-anchor="end" font-weight="bold" fill="#111" >p = 0.0431</text>
<line x1="102.4" y1="323.3" x2="331.3" y2="323.3" stroke="#3d3d3d" stroke-width="1"/>
<text x="101.2" y="326.2" font-size="8.0" text-anchor="end" font-weight="bold" fill="#111" >p = 0.0477</text>
<line x1="102.4" y1="332.0" x2="255.0" y2="332.0" stroke="#3d3d3d" stroke-width="1"/>
<text x="101.2" y="334.9" font-size="8.0" text-anchor="end" font-weight="bold" fill="#111" >p = 0.0419</text>
<circle cx="91.5" cy="373.1" r="3.3" fill="#6464ff" fill-opacity="0.62"/>
<circle cx="96.6" cy="375.8" r="3.3" fill="#6464ff" fill-opacity="0.62"/>
<circle cx="115.0" cy="378.8" r="3.3" fill="#6464ff" fill-opacity="0.62"/>
<circle cx="118.0" cy="370.7" r="3.3" fill="#6464ff" fill-opacity="0.62"/>
<circle cx="116.0" cy="372.7" r="3.3" fill="#6464ff" fill-opacity="0.62"/>
<circle cx="87.0" cy="373.5" r="3.3" fill="#6464ff" fill-opacity="0.62"/>
<circle cx="163.0" cy="380.9" r="3.3" fill="#ffa045" fill-opacity="0.62"/>
<circle cx="168.0" cy="377.8" r="3.3" fill="#ffa045" fill-opacity="0.62"/>
<circle cx="186.5" cy="377.8" r="3.3" fill="#ffa045" fill-opacity="0.62"/>
<circle cx="189.6" cy="359.4" r="3.3" fill="#ffa045" fill-opacity="0.62"/>
<circle cx="166.0" cy="380.0" r="3.3" fill="#ffa045" fill-opacity="0.62"/>
<circle cx="180.0" cy="378.5" r="3.3" fill="#ffa045" fill-opacity="0.62"/>
<circle cx="236.2" cy="343.9" r="3.3" fill="#6464ff" fill-opacity="0.62"/>
<circle cx="247.9" cy="342.7" r="3.3" fill="#6464ff" fill-opacity="0.62"/>
<circle cx="249.9" cy="345.3" r="3.3" fill="#6464ff" fill-opacity="0.62"/>
<circle cx="261.8" cy="342.7" r="3.3" fill="#6464ff" fill-opacity="0.62"/>
<circle cx="268.9" cy="345.3" r="3.3" fill="#6464ff" fill-opacity="0.62"/>
<circle cx="258.7" cy="360.7" r="3.3" fill="#6464ff" fill-opacity="0.62"/>
<circle cx="332.3" cy="337.8" r="3.3" fill="#ffa045" fill-opacity="0.62"/>
<circle cx="330.2" cy="343.3" r="3.3" fill="#ffa045" fill-opacity="0.62"/>
<circle cx="340.5" cy="347.4" r="3.3" fill="#ffa045" fill-opacity="0.62"/>
<circle cx="318.0" cy="357.6" r="3.3" fill="#ffa045" fill-opacity="0.62"/>
<circle cx="324.1" cy="356.6" r="3.3" fill="#ffa045" fill-opacity="0.62"/>
<circle cx="394.3" cy="360.4" r="3.3" fill="#6464ff" fill-opacity="0.62"/>
<circle cx="397.4" cy="366.6" r="3.3" fill="#6464ff" fill-opacity="0.62"/>
<circle cx="389.2" cy="369.6" r="3.3" fill="#6464ff" fill-opacity="0.62"/>
<circle cx="411.7" cy="360.4" r="3.3" fill="#6464ff" fill-opacity="0.62"/>
<circle cx="426.0" cy="365.5" r="3.3" fill="#6464ff" fill-opacity="0.62"/>
<circle cx="392.3" cy="363.5" r="3.3" fill="#6464ff" fill-opacity="0.62"/>
<circle cx="469.9" cy="358.0" r="3.3" fill="#ffa045" fill-opacity="0.62"/>
<circle cx="476.0" cy="360.4" r="3.3" fill="#ffa045" fill-opacity="0.62"/>
<circle cx="482.2" cy="358.0" r="3.3" fill="#ffa045" fill-opacity="0.62"/>
<circle cx="489.3" cy="363.5" r="3.3" fill="#ffa045" fill-opacity="0.62"/>
<circle cx="496.5" cy="365.5" r="3.3" fill="#ffa045" fill-opacity="0.62"/>
<circle cx="465.8" cy="360.4" r="3.3" fill="#ffa045" fill-opacity="0.62"/>
<circle cx="552.8" cy="318.3" r="3.3" fill="#6464ff" fill-opacity="0.62"/>
<circle cx="577.3" cy="320.5" r="3.3" fill="#6464ff" fill-opacity="0.62"/>
<circle cx="572.0" cy="325.3" r="3.3" fill="#6464ff" fill-opacity="0.62"/>
<circle cx="546.6" cy="326.2" r="3.3" fill="#6464ff" fill-opacity="0.62"/>
<circle cx="542.3" cy="328.8" r="3.3" fill="#6464ff" fill-opacity="0.62"/>
<circle cx="550.1" cy="329.7" r="3.3" fill="#6464ff" fill-opacity="0.62"/>
<circle cx="558.9" cy="330.1" r="3.3" fill="#6464ff" fill-opacity="0.62"/>
<circle cx="569.4" cy="331.0" r="3.3" fill="#6464ff" fill-opacity="0.62"/>
<circle cx="551.0" cy="334.5" r="3.3" fill="#6464ff" fill-opacity="0.62"/>
<circle cx="544.0" cy="338.9" r="3.3" fill="#6464ff" fill-opacity="0.62"/>
<circle cx="546.6" cy="343.3" r="3.3" fill="#6464ff" fill-opacity="0.62"/>
<circle cx="554.5" cy="342.4" r="3.3" fill="#6464ff" fill-opacity="0.62"/>
<circle cx="558.9" cy="343.3" r="3.3" fill="#6464ff" fill-opacity="0.62"/>
<circle cx="565.0" cy="340.6" r="3.3" fill="#6464ff" fill-opacity="0.62"/>
<circle cx="568.5" cy="338.9" r="3.3" fill="#6464ff" fill-opacity="0.62"/>
<circle cx="573.8" cy="343.3" r="3.3" fill="#6464ff" fill-opacity="0.62"/>
<circle cx="579.0" cy="339.8" r="3.3" fill="#6464ff" fill-opacity="0.62"/>
<circle cx="542.3" cy="340.6" r="3.3" fill="#6464ff" fill-opacity="0.62"/>
<circle cx="556.3" cy="338.0" r="3.3" fill="#6464ff" fill-opacity="0.62"/>
<circle cx="561.5" cy="336.3" r="3.3" fill="#6464ff" fill-opacity="0.62"/>
<circle cx="551.9" cy="338.9" r="3.3" fill="#6464ff" fill-opacity="0.62"/>
<circle cx="566.8" cy="342.4" r="3.3" fill="#6464ff" fill-opacity="0.62"/>
<circle cx="572.0" cy="339.8" r="3.3" fill="#6464ff" fill-opacity="0.62"/>
<circle cx="547.5" cy="338.0" r="3.3" fill="#6464ff" fill-opacity="0.62"/>
<circle cx="557.1" cy="344.2" r="3.3" fill="#6464ff" fill-opacity="0.62"/>
<circle cx="562.4" cy="344.2" r="3.3" fill="#6464ff" fill-opacity="0.62"/>
<circle cx="576.0" cy="342.0" r="3.3" fill="#6464ff" fill-opacity="0.62"/>
<circle cx="548.0" cy="335.0" r="3.3" fill="#6464ff" fill-opacity="0.62"/>
<circle cx="647.4" cy="288.8" r="3.3" fill="#ffa045" fill-opacity="0.62"/>
<circle cx="638.6" cy="294.7" r="3.3" fill="#ffa045" fill-opacity="0.62"/>
<circle cx="638.0" cy="299.9" r="3.3" fill="#ffa045" fill-opacity="0.62"/>
<circle cx="630.2" cy="308.7" r="3.3" fill="#ffa045" fill-opacity="0.62"/>
<circle cx="636.1" cy="309.7" r="3.3" fill="#ffa045" fill-opacity="0.62"/>
<circle cx="648.3" cy="312.4" r="3.3" fill="#ffa045" fill-opacity="0.62"/>
<circle cx="644.9" cy="316.1" r="3.3" fill="#ffa045" fill-opacity="0.62"/>
<circle cx="625.0" cy="318.0" r="3.3" fill="#ffa045" fill-opacity="0.62"/>
<circle cx="628.7" cy="317.6" r="3.3" fill="#ffa045" fill-opacity="0.62"/>
<circle cx="642.7" cy="323.0" r="3.3" fill="#ffa045" fill-opacity="0.62"/>
<circle cx="647.9" cy="322.7" r="3.3" fill="#ffa045" fill-opacity="0.62"/>
<circle cx="652.3" cy="324.9" r="3.3" fill="#ffa045" fill-opacity="0.62"/>
<circle cx="626.5" cy="327.4" r="3.3" fill="#ffa045" fill-opacity="0.62"/>
<circle cx="651.5" cy="333.8" r="3.3" fill="#ffa045" fill-opacity="0.62"/>
<circle cx="636.8" cy="340.4" r="3.3" fill="#ffa045" fill-opacity="0.62"/>
<circle cx="642.7" cy="341.1" r="3.3" fill="#ffa045" fill-opacity="0.62"/>
<circle cx="647.1" cy="342.6" r="3.3" fill="#ffa045" fill-opacity="0.62"/>
<circle cx="650.1" cy="344.8" r="3.3" fill="#ffa045" fill-opacity="0.62"/>
<circle cx="653.0" cy="346.3" r="3.3" fill="#ffa045" fill-opacity="0.62"/>
<circle cx="648.6" cy="347.7" r="3.3" fill="#ffa045" fill-opacity="0.62"/>
<circle cx="644.2" cy="346.3" r="3.3" fill="#ffa045" fill-opacity="0.62"/>
<circle cx="641.2" cy="344.8" r="3.3" fill="#ffa045" fill-opacity="0.62"/>
<circle cx="638.3" cy="344.8" r="3.3" fill="#ffa045" fill-opacity="0.62"/>
<circle cx="629.5" cy="349.2" r="3.3" fill="#ffa045" fill-opacity="0.62"/>
<circle cx="632.4" cy="350.7" r="3.3" fill="#ffa045" fill-opacity="0.62"/>
<circle cx="622.1" cy="351.4" r="3.3" fill="#ffa045" fill-opacity="0.62"/>
<circle cx="651.5" cy="350.7" r="3.3" fill="#ffa045" fill-opacity="0.62"/>
<circle cx="655.2" cy="352.2" r="3.3" fill="#ffa045" fill-opacity="0.62"/>
<circle cx="654.5" cy="355.8" r="3.3" fill="#ffa045" fill-opacity="0.62"/>
<circle cx="617.7" cy="358.1" r="3.3" fill="#ffa045" fill-opacity="0.62"/>
<circle cx="622.1" cy="359.5" r="3.3" fill="#ffa045" fill-opacity="0.62"/>
<circle cx="626.5" cy="360.3" r="3.3" fill="#ffa045" fill-opacity="0.62"/>
<circle cx="630.9" cy="359.5" r="3.3" fill="#ffa045" fill-opacity="0.62"/>
<circle cx="635.3" cy="356.6" r="3.3" fill="#ffa045" fill-opacity="0.62"/>
<circle cx="644.2" cy="358.1" r="3.3" fill="#ffa045" fill-opacity="0.62"/>
<circle cx="647.1" cy="360.3" r="3.3" fill="#ffa045" fill-opacity="0.62"/>
<circle cx="650.1" cy="359.5" r="3.3" fill="#ffa045" fill-opacity="0.62"/>
<circle cx="619.1" cy="355.1" r="3.3" fill="#ffa045" fill-opacity="0.62"/>
<circle cx="641.2" cy="355.1" r="3.3" fill="#ffa045" fill-opacity="0.62"/>
<circle cx="645.7" cy="350.7" r="3.3" fill="#ffa045" fill-opacity="0.62"/>
<circle cx="648.6" cy="353.6" r="3.3" fill="#ffa045" fill-opacity="0.62"/>
<circle cx="638.3" cy="349.2" r="3.3" fill="#ffa045" fill-opacity="0.62"/>
<circle cx="628.0" cy="355.1" r="3.3" fill="#ffa045" fill-opacity="0.62"/>
<circle cx="633.9" cy="353.6" r="3.3" fill="#ffa045" fill-opacity="0.62"/>
<circle cx="625.0" cy="353.6" r="3.3" fill="#ffa045" fill-opacity="0.62"/>
<circle cx="651.5" cy="341.9" r="3.3" fill="#ffa045" fill-opacity="0.62"/>
<circle cx="647.1" cy="338.9" r="3.3" fill="#ffa045" fill-opacity="0.62"/>
<circle cx="644.2" cy="338.2" r="3.3" fill="#ffa045" fill-opacity="0.62"/>
<circle cx="653.0" cy="349.2" r="3.3" fill="#ffa045" fill-opacity="0.62"/>
<circle cx="630.9" cy="357.3" r="3.3" fill="#ffa045" fill-opacity="0.62"/>
<line x1="102.4" y1="371.5" x2="102.4" y2="372.7" stroke="#111" stroke-width="0.8"/>
<line x1="102.4" y1="375.5" x2="102.4" y2="376" stroke="#111" stroke-width="0.8"/>
<rect x="83.2" y="372.7" width="38.4" height="2.8" fill="none" stroke="#111" stroke-width="0.9"/>
<line x1="83.2" y1="373.9" x2="121.6" y2="373.9" stroke="#000" stroke-width="1.8"/>
<rect x="159.5" y="376.4" width="38.4" height="2.8" fill="none" stroke="#111" stroke-width="0.9"/>
<line x1="159.5" y1="377.8" x2="197.9" y2="377.8" stroke="#000" stroke-width="1.8"/>
<rect x="235.8" y="343.6" width="38.4" height="1.7" fill="none" stroke="#111" stroke-width="0.9"/>
<line x1="235.8" y1="344.5" x2="274.2" y2="344.5" stroke="#000" stroke-width="1.8"/>
<line x1="331.3" y1="338.2" x2="331.3" y2="343.9" stroke="#111" stroke-width="0.8"/>
<rect x="312.1" y="343.9" width="38.4" height="13.3" fill="none" stroke="#111" stroke-width="0.9"/>
<line x1="312.1" y1="346.3" x2="350.5" y2="346.3" stroke="#000" stroke-width="1.8"/>
<line x1="407.6" y1="366.0" x2="407.6" y2="369.6" stroke="#111" stroke-width="0.8"/>
<rect x="388.4" y="361.5" width="38.4" height="4.5" fill="none" stroke="#111" stroke-width="0.9"/>
<line x1="388.4" y1="362.9" x2="426.8" y2="362.9" stroke="#000" stroke-width="1.8"/>
<rect x="464.7" y="359.4" width="38.4" height="3.1" fill="none" stroke="#111" stroke-width="0.9"/>
<line x1="464.7" y1="361.0" x2="503.1" y2="361.0" stroke="#000" stroke-width="1.8"/>
<line x1="560.2" y1="320.9" x2="560.2" y2="332.4" stroke="#111" stroke-width="0.8"/>
<rect x="541.0" y="332.4" width="38.4" height="9.2" fill="none" stroke="#111" stroke-width="0.9"/>
<line x1="541.0" y1="340.7" x2="579.4" y2="340.7" stroke="#000" stroke-width="1.8"/>
<line x1="636.5" y1="313.0" x2="636.5" y2="337.4" stroke="#111" stroke-width="0.8"/>
<line x1="636.5" y1="355.4" x2="636.5" y2="359.5" stroke="#111" stroke-width="0.8"/>
<rect x="617.3" y="337.4" width="38.4" height="18.0" fill="none" stroke="#111" stroke-width="0.9"/>
<line x1="617.3" y1="352.1" x2="655.7" y2="352.1" stroke="#000" stroke-width="1.8"/>
<line x1="57.3" y1="350.3" x2="682.7" y2="350.3" stroke="#000" stroke-width="2.1" stroke-dasharray="8,8.1"/>
<text x="102.4" y="399.3" font-size="12.2" text-anchor="middle" font-weight="normal" fill="#4d4d4d" stroke="#4d4d4d" stroke-width="0.45">Control</text>
<text x="178.7" y="399.3" font-size="12.2" text-anchor="middle" font-weight="normal" fill="#4d4d4d" stroke="#4d4d4d" stroke-width="0.45">Antibiotic</text>
<text x="255.0" y="399.3" font-size="12.2" text-anchor="middle" font-weight="normal" fill="#4d4d4d" stroke="#4d4d4d" stroke-width="0.45">Control</text>
<text x="331.3" y="399.3" font-size="12.2" text-anchor="middle" font-weight="normal" fill="#4d4d4d" stroke="#4d4d4d" stroke-width="0.45">Antibiotic</text>
<text x="407.6" y="399.3" font-size="12.2" text-anchor="middle" font-weight="normal" fill="#4d4d4d" stroke="#4d4d4d" stroke-width="0.45">Control</text>
<text x="483.9" y="399.3" font-size="12.2" text-anchor="middle" font-weight="normal" fill="#4d4d4d" stroke="#4d4d4d" stroke-width="0.45">Antibiotic</text>
<text x="560.2" y="399.3" font-size="12.2" text-anchor="middle" font-weight="normal" fill="#4d4d4d" stroke="#4d4d4d" stroke-width="0.45">Control</text>
<text x="636.5" y="399.3" font-size="12.2" text-anchor="middle" font-weight="normal" fill="#4d4d4d" stroke="#4d4d4d" stroke-width="0.45">Antibiotic</text>
<path d="M79.8,398.7 V402.2 H206.5 V398.7" stroke="#111" stroke-width="1" fill="none"/>
<text x="142.1" y="411.3" font-size="9.0" text-anchor="middle" font-weight="bold" fill="#111" >Unimplanted</text>
<text x="142.1" y="421.9" font-size="9.0" text-anchor="middle" font-weight="bold" fill="#111" >Brain</text>
<path d="M232.4,398.7 V402.2 H359.1 V398.7" stroke="#111" stroke-width="1" fill="none"/>
<text x="294.6" y="411.3" font-size="9.0" text-anchor="middle" font-weight="bold" fill="#111" >Acute-Stage</text>
<text x="294.6" y="421.9" font-size="9.0" text-anchor="middle" font-weight="bold" fill="#111" >Implanted Brain</text>
<text x="294.6" y="432.2" font-size="7.9" text-anchor="middle" font-weight="bold" fill="#111" >(4 Weeks)</text>
<path d="M385.0,398.7 V402.2 H511.7 V398.7" stroke="#111" stroke-width="1" fill="none"/>
<text x="447.2" y="411.3" font-size="9.0" text-anchor="middle" font-weight="bold" fill="#111" >Chronic-Stage</text>
<text x="447.2" y="421.9" font-size="9.0" text-anchor="middle" font-weight="bold" fill="#111" >Implanted Brain</text>
<text x="447.2" y="432.2" font-size="7.9" text-anchor="middle" font-weight="bold" fill="#111" >(12 Weeks)</text>
<path d="M537.6,398.7 V402.2 H664.3 V398.7" stroke="#111" stroke-width="1" fill="none"/>
<text x="601.1" y="411.3" font-size="9.0" text-anchor="middle" font-weight="bold" fill="#111" >Fecal</text>
<text transform="translate(8.4,330.4) rotate(-90)" font-size="8.3" font-weight="bold" text-anchor="middle">16S Amplicon</text>
<line x1="11.8" y1="304" x2="11.8" y2="357.6" stroke="#111" stroke-width="0.9"/>
<text transform="translate(20.8,332) rotate(-90)" font-size="8.3" font-weight="bold" text-anchor="middle">Contaminant</text>
<text transform="translate(14.6,290.2) rotate(-90)" font-size="8.3" font-weight="bold" text-anchor="middle">Ratio</text>
<text transform="translate(0.2,449.5) scale(0.82,1)" font-size="18" font-weight="bold" fill="#000">D</text>
<ellipse cx="135.5" cy="584.5" rx="99.5" ry="52.5" transform="rotate(45 135.5 584.5)" fill="none" stroke="#3a7fc9" stroke-width="2.7"/>
<ellipse cx="177.5" cy="561.5" rx="100.5" ry="52.5" transform="rotate(45 177.5 561.5)" fill="none" stroke="#8a5aab" stroke-width="2.7"/>
<ellipse cx="178.3" cy="561.5" rx="100.5" ry="52.5" transform="rotate(-45 178.3 561.5)" fill="none" stroke="#169a8c" stroke-width="2.7"/>
<ellipse cx="221.3" cy="584.5" rx="99.5" ry="52.5" transform="rotate(-45 221.3 584.5)" fill="none" stroke="#ec8b2e" stroke-width="2.7"/>
<text x="135.8" y="502.4" font-size="11.2" text-anchor="middle" font-weight="bold" fill="#111" >66</text>
<text x="219.2" y="502.4" font-size="11.2" text-anchor="middle" font-weight="bold" fill="#111" >10</text>
<text x="113.8" y="535.4" font-size="11.2" text-anchor="middle" font-weight="bold" fill="#111" >4</text>
<text x="178.2" y="528.2" font-size="11.2" text-anchor="middle" font-weight="bold" fill="#111" >12</text>
<text x="238.7" y="535.4" font-size="11.2" text-anchor="middle" font-weight="bold" fill="#111" >18</text>
<text x="78.7" y="565.0" font-size="11.2" text-anchor="middle" font-weight="bold" fill="#111" >8</text>
<text x="142.2" y="565.0" font-size="11.2" text-anchor="middle" font-weight="bold" fill="#111" >0</text>
<text x="210.8" y="565.0" font-size="11.2" text-anchor="middle" font-weight="bold" fill="#111" >33</text>
<text x="267.9" y="562.9" font-size="11.2" text-anchor="middle" font-weight="bold" fill="#111" >210</text>
<text x="178.2" y="595.9" font-size="11.2" text-anchor="middle" font-weight="bold" fill="#111" >17</text>
<text x="120.2" y="613.7" font-size="11.2" text-anchor="middle" font-weight="bold" fill="#111" >0</text>
<text x="232.4" y="615.8" font-size="11.2" text-anchor="middle" font-weight="bold" fill="#111" >50</text>
<text x="152.8" y="629.8" font-size="11.2" text-anchor="middle" font-weight="bold" fill="#111" >1</text>
<text x="203.6" y="629.8" font-size="11.2" text-anchor="middle" font-weight="bold" fill="#111" >8</text>
<text x="178.2" y="649.4" font-size="11.2" text-anchor="middle" font-weight="bold" fill="#111" >7</text>
<text x="122.8" y="447.4" font-size="11" text-anchor="middle" font-weight="bold" fill="#111" >Acute</text>
<text x="122.8" y="460.3" font-size="11" text-anchor="middle" font-weight="bold" fill="#111" >Implanted Brain</text>
<text x="122.8" y="473.4" font-size="11" text-anchor="middle" font-weight="bold" fill="#111" >(4 Weeks)</text>
<text x="229.2" y="447.4" font-size="11" text-anchor="middle" font-weight="bold" fill="#111" >Chronic</text>
<text x="229.2" y="460.3" font-size="11" text-anchor="middle" font-weight="bold" fill="#111" >Implanted Brain</text>
<text x="229.2" y="473.4" font-size="11" text-anchor="middle" font-weight="bold" fill="#111" >(12 Weeks)</text>
<text x="63.6" y="497.5" font-size="10.8" text-anchor="middle" font-weight="bold" fill="#111" >Background</text>
<text x="288.3" y="495.2" font-size="11.5" text-anchor="middle" font-weight="bold" fill="#111" >Fecal</text>
<text x="180.5" y="677.8" font-size="12.5" text-anchor="middle" font-weight="bold" fill="#111" >Genera in Common</text>
<text transform="translate(346.0,449.7) scale(0.81,1)" font-size="18" font-weight="bold" fill="#000">E</text>
<defs><filter id="blur1" x="-50%" y="-50%" width="200%" height="200%"><feGaussianBlur stdDeviation="0.9"/></filter></defs>
<rect x="386.0" y="436.4" width="97.5" height="37.0" fill="#d9d9d9"/>
<rect x="386.0" y="473.4" width="97.5" height="185.6" fill="#fff"/>
<line x1="386.0" y1="455.4" x2="483.5" y2="455.4" stroke="#b5b5b5" stroke-width="0.6"/>
<rect x="433.6" y="455.4" width="2.4" height="203.6" fill="#dcdcdc"/>
<line x1="435.6" y1="455.4" x2="435.6" y2="659.0" stroke="#b3b3b3" stroke-width="0.8"/>
<rect x="386.0" y="436.4" width="97.5" height="222.6" fill="none" stroke="#bdbdbd" stroke-width="0.7"/>
<text x="434.8" y="445.4" font-size="7.8" text-anchor="middle" font-weight="bold" fill="#333" >Background</text>
<text x="434.8" y="453.2" font-size="7.8" text-anchor="middle" font-weight="bold" fill="#333" >Features</text>
<text x="409.8" y="467.9" font-size="8.1" text-anchor="middle" font-weight="bold" fill="#333" >Acute</text>
<text x="460.2" y="467.9" font-size="8.1" text-anchor="middle" font-weight="bold" fill="#333" >Chronic</text>
<rect x="485.5" y="436.4" width="98.5" height="37.0" fill="#d9d9d9"/>
<rect x="485.5" y="473.4" width="98.5" height="185.6" fill="#fff"/>
<line x1="485.5" y1="455.4" x2="584.0" y2="455.4" stroke="#b5b5b5" stroke-width="0.6"/>
<rect x="533.5" y="455.4" width="2.4" height="203.6" fill="#dcdcdc"/>
<line x1="535.5" y1="455.4" x2="535.5" y2="659.0" stroke="#b3b3b3" stroke-width="0.8"/>
<rect x="485.5" y="436.4" width="98.5" height="222.6" fill="none" stroke="#bdbdbd" stroke-width="0.7"/>
<text x="534.8" y="445.4" font-size="7.8" text-anchor="middle" font-weight="bold" fill="#333" >Implant-Associated</text>
<text x="534.8" y="453.2" font-size="7.8" text-anchor="middle" font-weight="bold" fill="#333" >Features - Gut</text>
<text x="509.5" y="467.9" font-size="8.1" text-anchor="middle" font-weight="bold" fill="#333" >Acute</text>
<text x="560.5" y="467.9" font-size="8.1" text-anchor="middle" font-weight="bold" fill="#333" >Chronic</text>
<rect x="585.6" y="436.4" width="98.7" height="37.0" fill="#d9d9d9"/>
<rect x="585.6" y="473.4" width="98.7" height="185.6" fill="#fff"/>
<line x1="585.6" y1="455.4" x2="684.3" y2="455.4" stroke="#b5b5b5" stroke-width="0.6"/>
<rect x="633.8" y="455.4" width="2.4" height="203.6" fill="#dcdcdc"/>
<line x1="635.8" y1="455.4" x2="635.8" y2="659.0" stroke="#b3b3b3" stroke-width="0.8"/>
<rect x="585.6" y="436.4" width="98.7" height="222.6" fill="none" stroke="#bdbdbd" stroke-width="0.7"/>
<text x="635.0" y="445.4" font-size="7.8" text-anchor="middle" font-weight="bold" fill="#333" >Implant-Associated</text>
<text x="635.0" y="453.2" font-size="7.8" text-anchor="middle" font-weight="bold" fill="#333" >Features - ???</text>
<text x="609.7" y="467.9" font-size="8.1" text-anchor="middle" font-weight="bold" fill="#333" >Acute</text>
<text x="660.7" y="467.9" font-size="8.1" text-anchor="middle" font-weight="bold" fill="#333" >Chronic</text>
<line x1="386.0" y1="651.5" x2="433.6" y2="651.5" stroke="#e4e4e4" stroke-width="0.7"/>
<line x1="386.0" y1="630.4" x2="433.6" y2="630.4" stroke="#f1f1f1" stroke-width="0.7"/>
<line x1="386.0" y1="609.3" x2="433.6" y2="609.3" stroke="#e4e4e4" stroke-width="0.7"/>
<line x1="386.0" y1="588.2" x2="433.6" y2="588.2" stroke="#f1f1f1" stroke-width="0.7"/>
<line x1="386.0" y1="567.1" x2="433.6" y2="567.1" stroke="#e4e4e4" stroke-width="0.7"/>
<line x1="386.0" y1="546.0" x2="433.6" y2="546.0" stroke="#f1f1f1" stroke-width="0.7"/>
<line x1="386.0" y1="524.9" x2="433.6" y2="524.9" stroke="#e4e4e4" stroke-width="0.7"/>
<line x1="386.0" y1="503.8" x2="433.6" y2="503.8" stroke="#f1f1f1" stroke-width="0.7"/>
<line x1="386.0" y1="482.7" x2="433.6" y2="482.7" stroke="#e4e4e4" stroke-width="0.7"/>
<line x1="399.0" y1="473.4" x2="399.0" y2="659.0" stroke="#e4e4e4" stroke-width="0.8"/>
<line x1="420.6" y1="473.4" x2="420.6" y2="659.0" stroke="#e4e4e4" stroke-width="0.8"/>
<text x="399.0" y="667.2" font-size="8.3" text-anchor="middle" font-weight="normal" fill="#4d4d4d" stroke="#4d4d4d" stroke-width="0.2">Ctrl</text>
<text x="420.6" y="667.2" font-size="8.3" text-anchor="middle" font-weight="normal" fill="#4d4d4d" stroke="#4d4d4d" stroke-width="0.2">Anti</text>
<line x1="435.9" y1="651.5" x2="483.5" y2="651.5" stroke="#e4e4e4" stroke-width="0.7"/>
<line x1="435.9" y1="630.4" x2="483.5" y2="630.4" stroke="#f1f1f1" stroke-width="0.7"/>
<line x1="435.9" y1="609.3" x2="483.5" y2="609.3" stroke="#e4e4e4" stroke-width="0.7"/>
<line x1="435.9" y1="588.2" x2="483.5" y2="588.2" stroke="#f1f1f1" stroke-width="0.7"/>
<line x1="435.9" y1="567.1" x2="483.5" y2="567.1" stroke="#e4e4e4" stroke-width="0.7"/>
<line x1="435.9" y1="546.0" x2="483.5" y2="546.0" stroke="#f1f1f1" stroke-width="0.7"/>
<line x1="435.9" y1="524.9" x2="483.5" y2="524.9" stroke="#e4e4e4" stroke-width="0.7"/>
<line x1="435.9" y1="503.8" x2="483.5" y2="503.8" stroke="#f1f1f1" stroke-width="0.7"/>
<line x1="435.9" y1="482.7" x2="483.5" y2="482.7" stroke="#e4e4e4" stroke-width="0.7"/>
<line x1="448.9" y1="473.4" x2="448.9" y2="659.0" stroke="#e4e4e4" stroke-width="0.8"/>
<line x1="470.5" y1="473.4" x2="470.5" y2="659.0" stroke="#e4e4e4" stroke-width="0.8"/>
<text x="448.9" y="667.2" font-size="8.3" text-anchor="middle" font-weight="normal" fill="#4d4d4d" stroke="#4d4d4d" stroke-width="0.2">Ctrl</text>
<text x="470.5" y="667.2" font-size="8.3" text-anchor="middle" font-weight="normal" fill="#4d4d4d" stroke="#4d4d4d" stroke-width="0.2">Anti</text>
<line x1="485.5" y1="651.5" x2="533.5" y2="651.5" stroke="#e4e4e4" stroke-width="0.7"/>
<line x1="485.5" y1="630.4" x2="533.5" y2="630.4" stroke="#f1f1f1" stroke-width="0.7"/>
<line x1="485.5" y1="609.3" x2="533.5" y2="609.3" stroke="#e4e4e4" stroke-width="0.7"/>
<line x1="485.5" y1="588.2" x2="533.5" y2="588.2" stroke="#f1f1f1" stroke-width="0.7"/>
<line x1="485.5" y1="567.1" x2="533.5" y2="567.1" stroke="#e4e4e4" stroke-width="0.7"/>
<line x1="485.5" y1="546.0" x2="533.5" y2="546.0" stroke="#f1f1f1" stroke-width="0.7"/>
<line x1="485.5" y1="524.9" x2="533.5" y2="524.9" stroke="#e4e4e4" stroke-width="0.7"/>
<line x1="485.5" y1="503.8" x2="533.5" y2="503.8" stroke="#f1f1f1" stroke-width="0.7"/>
<line x1="485.5" y1="482.7" x2="533.5" y2="482.7" stroke="#e4e4e4" stroke-width="0.7"/>
<line x1="498.6" y1="473.4" x2="498.6" y2="659.0" stroke="#e4e4e4" stroke-width="0.8"/>
<line x1="520.4" y1="473.4" x2="520.4" y2="659.0" stroke="#e4e4e4" stroke-width="0.8"/>
<text x="498.6" y="667.2" font-size="8.3" text-anchor="middle" font-weight="normal" fill="#4d4d4d" stroke="#4d4d4d" stroke-width="0.2">Ctrl</text>
<text x="520.4" y="667.2" font-size="8.3" text-anchor="middle" font-weight="normal" fill="#4d4d4d" stroke="#4d4d4d" stroke-width="0.2">Anti</text>
<line x1="536.0" y1="651.5" x2="584.0" y2="651.5" stroke="#e4e4e4" stroke-width="0.7"/>
<line x1="536.0" y1="630.4" x2="584.0" y2="630.4" stroke="#f1f1f1" stroke-width="0.7"/>
<line x1="536.0" y1="609.3" x2="584.0" y2="609.3" stroke="#e4e4e4" stroke-width="0.7"/>
<line x1="536.0" y1="588.2" x2="584.0" y2="588.2" stroke="#f1f1f1" stroke-width="0.7"/>
<line x1="536.0" y1="567.1" x2="584.0" y2="567.1" stroke="#e4e4e4" stroke-width="0.7"/>
<line x1="536.0" y1="546.0" x2="584.0" y2="546.0" stroke="#f1f1f1" stroke-width="0.7"/>
<line x1="536.0" y1="524.9" x2="584.0" y2="524.9" stroke="#e4e4e4" stroke-width="0.7"/>
<line x1="536.0" y1="503.8" x2="584.0" y2="503.8" stroke="#f1f1f1" stroke-width="0.7"/>
<line x1="536.0" y1="482.7" x2="584.0" y2="482.7" stroke="#e4e4e4" stroke-width="0.7"/>
<line x1="549.1" y1="473.4" x2="549.1" y2="659.0" stroke="#e4e4e4" stroke-width="0.8"/>
<line x1="570.9" y1="473.4" x2="570.9" y2="659.0" stroke="#e4e4e4" stroke-width="0.8"/>
<text x="549.1" y="667.2" font-size="8.3" text-anchor="middle" font-weight="normal" fill="#4d4d4d" stroke="#4d4d4d" stroke-width="0.2">Ctrl</text>
<text x="570.9" y="667.2" font-size="8.3" text-anchor="middle" font-weight="normal" fill="#4d4d4d" stroke="#4d4d4d" stroke-width="0.2">Anti</text>
<line x1="585.6" y1="651.5" x2="633.8" y2="651.5" stroke="#e4e4e4" stroke-width="0.7"/>
<line x1="585.6" y1="630.4" x2="633.8" y2="630.4" stroke="#f1f1f1" stroke-width="0.7"/>
<line x1="585.6" y1="609.3" x2="633.8" y2="609.3" stroke="#e4e4e4" stroke-width="0.7"/>
<line x1="585.6" y1="588.2" x2="633.8" y2="588.2" stroke="#f1f1f1" stroke-width="0.7"/>
<line x1="585.6" y1="567.1" x2="633.8" y2="567.1" stroke="#e4e4e4" stroke-width="0.7"/>
<line x1="585.6" y1="546.0" x2="633.8" y2="546.0" stroke="#f1f1f1" stroke-width="0.7"/>
<line x1="585.6" y1="524.9" x2="633.8" y2="524.9" stroke="#e4e4e4" stroke-width="0.7"/>
<line x1="585.6" y1="503.8" x2="633.8" y2="503.8" stroke="#f1f1f1" stroke-width="0.7"/>
<line x1="585.6" y1="482.7" x2="633.8" y2="482.7" stroke="#e4e4e4" stroke-width="0.7"/>
<line x1="598.7" y1="473.4" x2="598.7" y2="659.0" stroke="#e4e4e4" stroke-width="0.8"/>
<line x1="620.6" y1="473.4" x2="620.6" y2="659.0" stroke="#e4e4e4" stroke-width="0.8"/>
<text x="598.7" y="667.2" font-size="8.3" text-anchor="middle" font-weight="normal" fill="#4d4d4d" stroke="#4d4d4d" stroke-width="0.2">Ctrl</text>
<text x="620.6" y="667.2" font-size="8.3" text-anchor="middle" font-weight="normal" fill="#4d4d4d" stroke="#4d4d4d" stroke-width="0.2">Anti</text>
<line x1="636.2" y1="651.5" x2="684.3" y2="651.5" stroke="#e4e4e4" stroke-width="0.7"/>
<line x1="636.2" y1="630.4" x2="684.3" y2="630.4" stroke="#f1f1f1" stroke-width="0.7"/>
<line x1="636.2" y1="609.3" x2="684.3" y2="609.3" stroke="#e4e4e4" stroke-width="0.7"/>
<line x1="636.2" y1="588.2" x2="684.3" y2="588.2" stroke="#f1f1f1" stroke-width="0.7"/>
<line x1="636.2" y1="567.1" x2="684.3" y2="567.1" stroke="#e4e4e4" stroke-width="0.7"/>
<line x1="636.2" y1="546.0" x2="684.3" y2="546.0" stroke="#f1f1f1" stroke-width="0.7"/>
<line x1="636.2" y1="524.9" x2="684.3" y2="524.9" stroke="#e4e4e4" stroke-width="0.7"/>
<line x1="636.2" y1="503.8" x2="684.3" y2="503.8" stroke="#f1f1f1" stroke-width="0.7"/>
<line x1="636.2" y1="482.7" x2="684.3" y2="482.7" stroke="#e4e4e4" stroke-width="0.7"/>
<line x1="649.3" y1="473.4" x2="649.3" y2="659.0" stroke="#e4e4e4" stroke-width="0.8"/>
<line x1="671.2" y1="473.4" x2="671.2" y2="659.0" stroke="#e4e4e4" stroke-width="0.8"/>
<text x="649.3" y="667.2" font-size="8.3" text-anchor="middle" font-weight="normal" fill="#4d4d4d" stroke="#4d4d4d" stroke-width="0.2">Ctrl</text>
<text x="671.2" y="667.2" font-size="8.3" text-anchor="middle" font-weight="normal" fill="#4d4d4d" stroke="#4d4d4d" stroke-width="0.2">Anti</text>
<line x1="386" y1="659.0" x2="684.3" y2="659.0" stroke="#b8b8b8" stroke-width="0.7"/>
<text x="384.2" y="654.2" font-size="7.5" text-anchor="end" font-weight="normal" fill="#4d4d4d" stroke="#4d4d4d" stroke-width="0.2">0.00</text>
<text x="384.2" y="612.0" font-size="7.5" text-anchor="end" font-weight="normal" fill="#4d4d4d" stroke="#4d4d4d" stroke-width="0.2">0.25</text>
<text x="384.2" y="569.8" font-size="7.5" text-anchor="end" font-weight="normal" fill="#4d4d4d" stroke="#4d4d4d" stroke-width="0.2">0.50</text>
<text x="384.2" y="527.6" font-size="7.5" text-anchor="end" font-weight="normal" fill="#4d4d4d" stroke="#4d4d4d" stroke-width="0.2">0.75</text>
<text x="384.2" y="485.4" font-size="7.5" text-anchor="end" font-weight="normal" fill="#4d4d4d" stroke="#4d4d4d" stroke-width="0.2">1.00</text>
<rect x="388.2" y="550.3" width="21.6" height="13.2" rx="3" fill="#7373ff" opacity="0.45" filter="url(#blur1)"/>
<circle cx="406.7" cy="560.6" r="0.6" fill="#7373ff" fill-opacity="0.35"/>
<circle cx="397.2" cy="553.5" r="0.6" fill="#7373ff" fill-opacity="0.35"/>
<circle cx="399.2" cy="555.6" r="0.6" fill="#7373ff" fill-opacity="0.35"/>
<circle cx="405.3" cy="554.1" r="0.6" fill="#7373ff" fill-opacity="0.35"/>
<circle cx="398.4" cy="558.1" r="0.6" fill="#7373ff" fill-opacity="0.35"/>
<circle cx="408.1" cy="557.0" r="0.6" fill="#7373ff" fill-opacity="0.35"/>
<circle cx="394.1" cy="560.5" r="0.6" fill="#7373ff" fill-opacity="0.35"/>
<circle cx="401.6" cy="553.4" r="0.6" fill="#7373ff" fill-opacity="0.35"/>
<circle cx="408.1" cy="563.8" r="0.6" fill="#7373ff" fill-opacity="0.35"/>
<circle cx="405.9" cy="562.6" r="0.6" fill="#7373ff" fill-opacity="0.35"/>
<circle cx="394.7" cy="560.2" r="0.6" fill="#7373ff" fill-opacity="0.35"/>
<circle cx="407.9" cy="559.5" r="0.6" fill="#7373ff" fill-opacity="0.35"/>
<circle cx="398.3" cy="551.2" r="0.6" fill="#7373ff" fill-opacity="0.35"/>
<circle cx="397.5" cy="558.5" r="0.6" fill="#7373ff" fill-opacity="0.35"/>
<circle cx="408.2" cy="563.5" r="0.6" fill="#7373ff" fill-opacity="0.35"/>
<circle cx="398.5" cy="562.1" r="0.6" fill="#7373ff" fill-opacity="0.35"/>
<circle cx="393.6" cy="561.2" r="0.6" fill="#7373ff" fill-opacity="0.35"/>
<circle cx="400.1" cy="550.0" r="0.6" fill="#7373ff" fill-opacity="0.35"/>
<circle cx="403.9" cy="555.5" r="0.6" fill="#7373ff" fill-opacity="0.35"/>
<circle cx="406.2" cy="559.3" r="0.6" fill="#7373ff" fill-opacity="0.35"/>
<circle cx="387.8" cy="556.8" r="0.6" fill="#7373ff" fill-opacity="0.35"/>
<circle cx="407.2" cy="553.3" r="0.6" fill="#7373ff" fill-opacity="0.35"/>
<circle cx="395.1" cy="562.2" r="0.6" fill="#7373ff" fill-opacity="0.35"/>
<circle cx="392.0" cy="557.9" r="0.6" fill="#7373ff" fill-opacity="0.35"/>
<circle cx="393.1" cy="563.5" r="0.6" fill="#7373ff" fill-opacity="0.35"/>
<circle cx="405.8" cy="556.2" r="0.6" fill="#7373ff" fill-opacity="0.35"/>
<circle cx="389.6" cy="554.3" r="0.6" fill="#7373ff" fill-opacity="0.35"/>
<circle cx="399.1" cy="563.0" r="0.6" fill="#7373ff" fill-opacity="0.35"/>
<circle cx="390.2" cy="557.6" r="0.6" fill="#7373ff" fill-opacity="0.35"/>
<circle cx="403.6" cy="557.6" r="0.6" fill="#7373ff" fill-opacity="0.35"/>
<circle cx="406.0" cy="557.5" r="0.6" fill="#7373ff" fill-opacity="0.35"/>
<circle cx="409.4" cy="558.4" r="0.6" fill="#7373ff" fill-opacity="0.35"/>
<circle cx="400.9" cy="556.1" r="0.6" fill="#7373ff" fill-opacity="0.35"/>
<circle cx="401.1" cy="555.3" r="0.6" fill="#7373ff" fill-opacity="0.35"/>
<circle cx="400.7" cy="553.9" r="0.6" fill="#7373ff" fill-opacity="0.35"/>
<circle cx="392.0" cy="552.5" r="0.6" fill="#7373ff" fill-opacity="0.35"/>
<circle cx="401.5" cy="559.1" r="0.6" fill="#7373ff" fill-opacity="0.35"/>
<circle cx="398.4" cy="551.1" r="0.6" fill="#7373ff" fill-opacity="0.35"/>
<circle cx="404.7" cy="562.3" r="0.6" fill="#7373ff" fill-opacity="0.35"/>
<circle cx="408.5" cy="561.8" r="0.6" fill="#7373ff" fill-opacity="0.35"/>
<circle cx="407.9" cy="562.9" r="0.6" fill="#7373ff" fill-opacity="0.35"/>
<circle cx="399.9" cy="555.4" r="0.6" fill="#7373ff" fill-opacity="0.35"/>
<circle cx="403.6" cy="553.7" r="0.6" fill="#7373ff" fill-opacity="0.35"/>
<circle cx="405.9" cy="561.9" r="0.6" fill="#7373ff" fill-opacity="0.35"/>
<circle cx="407.8" cy="558.2" r="0.6" fill="#7373ff" fill-opacity="0.35"/>
<circle cx="409.0" cy="558.0" r="0.6" fill="#7373ff" fill-opacity="0.35"/>
<circle cx="397.9" cy="559.2" r="0.6" fill="#7373ff" fill-opacity="0.35"/>
<circle cx="410.1" cy="562.8" r="0.6" fill="#7373ff" fill-opacity="0.35"/>
<circle cx="405.5" cy="551.0" r="0.6" fill="#7373ff" fill-opacity="0.35"/>
<circle cx="401.5" cy="556.7" r="0.6" fill="#7373ff" fill-opacity="0.35"/>
<circle cx="401.9" cy="561.8" r="0.6" fill="#7373ff" fill-opacity="0.35"/>
<circle cx="393.2" cy="560.2" r="0.6" fill="#7373ff" fill-opacity="0.35"/>
<circle cx="390.4" cy="552.9" r="0.6" fill="#7373ff" fill-opacity="0.35"/>
<circle cx="405.6" cy="554.5" r="0.6" fill="#7373ff" fill-opacity="0.35"/>
<circle cx="406.0" cy="551.2" r="0.6" fill="#7373ff" fill-opacity="0.35"/>
<circle cx="391.0" cy="559.7" r="0.6" fill="#7373ff" fill-opacity="0.35"/>
<circle cx="388.8" cy="557.9" r="0.6" fill="#7373ff" fill-opacity="0.35"/>
<circle cx="408.2" cy="557.4" r="0.6" fill="#7373ff" fill-opacity="0.35"/>
<circle cx="403.0" cy="550.2" r="0.6" fill="#7373ff" fill-opacity="0.35"/>
<circle cx="402.0" cy="558.4" r="0.6" fill="#7373ff" fill-opacity="0.35"/>
<circle cx="400.7" cy="555.4" r="0.6" fill="#7373ff" fill-opacity="0.35"/>
<circle cx="396.1" cy="563.7" r="0.6" fill="#7373ff" fill-opacity="0.35"/>
<circle cx="388.6" cy="550.1" r="0.6" fill="#7373ff" fill-opacity="0.35"/>
<circle cx="409.3" cy="552.4" r="0.6" fill="#7373ff" fill-opacity="0.35"/>
<circle cx="390.5" cy="552.8" r="0.6" fill="#7373ff" fill-opacity="0.35"/>
<circle cx="405.7" cy="563.1" r="0.6" fill="#7373ff" fill-opacity="0.35"/>
<circle cx="388.3" cy="555.8" r="0.6" fill="#7373ff" fill-opacity="0.35"/>
<circle cx="390.0" cy="553.5" r="0.6" fill="#7373ff" fill-opacity="0.35"/>
<circle cx="392.7" cy="559.0" r="0.6" fill="#7373ff" fill-opacity="0.35"/>
<circle cx="395.6" cy="552.4" r="0.6" fill="#7373ff" fill-opacity="0.35"/>
<circle cx="399.0" cy="550.4" r="0.6" fill="#7373ff" fill-opacity="0.35"/>
<circle cx="390.0" cy="563.8" r="0.6" fill="#7373ff" fill-opacity="0.35"/>
<circle cx="392.2" cy="554.9" r="0.6" fill="#7373ff" fill-opacity="0.35"/>
<circle cx="404.2" cy="561.7" r="0.6" fill="#7373ff" fill-opacity="0.35"/>
<circle cx="408.3" cy="552.2" r="0.6" fill="#7373ff" fill-opacity="0.35"/>
<circle cx="402.8" cy="563.5" r="0.6" fill="#7373ff" fill-opacity="0.35"/>
<circle cx="389.1" cy="559.4" r="0.6" fill="#7373ff" fill-opacity="0.35"/>
<circle cx="406.7" cy="554.7" r="0.6" fill="#7373ff" fill-opacity="0.35"/>
<circle cx="393.4" cy="558.3" r="0.6" fill="#7373ff" fill-opacity="0.35"/>
<circle cx="397.7" cy="552.3" r="0.6" fill="#7373ff" fill-opacity="0.35"/>
<circle cx="398.3" cy="555.6" r="0.6" fill="#7373ff" fill-opacity="0.35"/>
<circle cx="400.5" cy="557.0" r="0.6" fill="#7373ff" fill-opacity="0.35"/>
<circle cx="394.7" cy="554.9" r="0.6" fill="#7373ff" fill-opacity="0.35"/>
<circle cx="406.5" cy="553.4" r="0.6" fill="#7373ff" fill-opacity="0.35"/>
<circle cx="400.3" cy="550.0" r="0.6" fill="#7373ff" fill-opacity="0.35"/>
<circle cx="404.4" cy="554.6" r="0.6" fill="#7373ff" fill-opacity="0.35"/>
<circle cx="388.8" cy="553.8" r="0.6" fill="#7373ff" fill-opacity="0.35"/>
<circle cx="393.1" cy="563.3" r="0.6" fill="#7373ff" fill-opacity="0.35"/>
<circle cx="395.7" cy="553.9" r="0.6" fill="#7373ff" fill-opacity="0.35"/>
<circle cx="395.8" cy="563.2" r="0.6" fill="#7373ff" fill-opacity="0.35"/>
<circle cx="402.0" cy="558.6" r="0.6" fill="#7373ff" fill-opacity="0.35"/>
<circle cx="403.8" cy="555.3" r="0.6" fill="#7373ff" fill-opacity="0.35"/>
<circle cx="397.1" cy="559.0" r="0.6" fill="#7373ff" fill-opacity="0.35"/>
<circle cx="387.8" cy="552.5" r="0.6" fill="#7373ff" fill-opacity="0.35"/>
<circle cx="395.3" cy="553.2" r="0.6" fill="#7373ff" fill-opacity="0.35"/>
<circle cx="402.0" cy="555.2" r="0.6" fill="#7373ff" fill-opacity="0.35"/>
<circle cx="407.4" cy="557.9" r="0.6" fill="#7373ff" fill-opacity="0.35"/>
<circle cx="397.1" cy="555.5" r="0.6" fill="#7373ff" fill-opacity="0.35"/>
<circle cx="403.5" cy="555.7" r="0.6" fill="#7373ff" fill-opacity="0.35"/>
<circle cx="402.6" cy="550.5" r="0.6" fill="#7373ff" fill-opacity="0.35"/>
<circle cx="397.7" cy="553.5" r="0.6" fill="#7373ff" fill-opacity="0.35"/>
<circle cx="391.3" cy="557.3" r="0.6" fill="#7373ff" fill-opacity="0.35"/>
<circle cx="398.7" cy="557.8" r="0.6" fill="#7373ff" fill-opacity="0.35"/>
<circle cx="404.7" cy="562.4" r="0.6" fill="#7373ff" fill-opacity="0.35"/>
<circle cx="398.8" cy="554.2" r="0.6" fill="#7373ff" fill-opacity="0.35"/>
<circle cx="398.2" cy="561.3" r="0.6" fill="#7373ff" fill-opacity="0.35"/>
<circle cx="407.4" cy="561.3" r="0.6" fill="#7373ff" fill-opacity="0.35"/>
<circle cx="392.0" cy="564.0" r="0.6" fill="#7373ff" fill-opacity="0.35"/>
<circle cx="401.9" cy="551.0" r="0.6" fill="#7373ff" fill-opacity="0.35"/>
<circle cx="404.0" cy="563.8" r="0.6" fill="#7373ff" fill-opacity="0.35"/>
<circle cx="396.8" cy="559.4" r="0.6" fill="#7373ff" fill-opacity="0.35"/>
<circle cx="394.9" cy="552.8" r="0.6" fill="#7373ff" fill-opacity="0.35"/>
<circle cx="403.8" cy="549.8" r="0.6" fill="#7373ff" fill-opacity="0.35"/>
<circle cx="406.2" cy="557.3" r="0.6" fill="#7373ff" fill-opacity="0.35"/>
<circle cx="390.0" cy="551.5" r="0.6" fill="#7373ff" fill-opacity="0.35"/>
<circle cx="402.3" cy="562.2" r="0.6" fill="#7373ff" fill-opacity="0.35"/>
<circle cx="394.0" cy="563.7" r="0.6" fill="#7373ff" fill-opacity="0.35"/>
<circle cx="390.0" cy="561.9" r="0.6" fill="#7373ff" fill-opacity="0.35"/>
<circle cx="396.7" cy="551.0" r="0.6" fill="#7373ff" fill-opacity="0.35"/>
<circle cx="393.9" cy="556.2" r="0.6" fill="#7373ff" fill-opacity="0.35"/>
<circle cx="405.5" cy="562.0" r="0.6" fill="#7373ff" fill-opacity="0.35"/>
<circle cx="390.8" cy="557.2" r="0.6" fill="#7373ff" fill-opacity="0.35"/>
<circle cx="402.3" cy="554.7" r="0.6" fill="#7373ff" fill-opacity="0.35"/>
<circle cx="407.3" cy="553.8" r="0.6" fill="#7373ff" fill-opacity="0.35"/>
<circle cx="388.2" cy="550.4" r="0.6" fill="#7373ff" fill-opacity="0.35"/>
<circle cx="403.0" cy="557.7" r="0.6" fill="#7373ff" fill-opacity="0.35"/>
<circle cx="409.0" cy="563.1" r="0.6" fill="#7373ff" fill-opacity="0.35"/>
<circle cx="408.1" cy="550.4" r="0.6" fill="#7373ff" fill-opacity="0.35"/>
<circle cx="404.5" cy="559.8" r="0.6" fill="#7373ff" fill-opacity="0.35"/>
<circle cx="402.4" cy="559.9" r="0.6" fill="#7373ff" fill-opacity="0.35"/>
<circle cx="408.0" cy="558.9" r="0.6" fill="#7373ff" fill-opacity="0.35"/>
<circle cx="396.1" cy="557.4" r="0.6" fill="#7373ff" fill-opacity="0.35"/>
<circle cx="392.4" cy="558.1" r="0.6" fill="#7373ff" fill-opacity="0.35"/>
<rect x="410.8" y="526.0" width="19.6" height="11.7" rx="3" fill="#ffa94a" opacity="0.45" filter="url(#blur1)"/>
<circle cx="413.1" cy="536.3" r="0.6" fill="#ffa94a" fill-opacity="0.35"/>
<circle cx="426.0" cy="528.7" r="0.6" fill="#ffa94a" fill-opacity="0.35"/>
<circle cx="420.5" cy="531.2" r="0.6" fill="#ffa94a" fill-opacity="0.35"/>
<circle cx="423.7" cy="535.5" r="0.6" fill="#ffa94a" fill-opacity="0.35"/>
<circle cx="412.3" cy="525.9" r="0.6" fill="#ffa94a" fill-opacity="0.35"/>
<circle cx="427.4" cy="531.0" r="0.6" fill="#ffa94a" fill-opacity="0.35"/>
<circle cx="425.9" cy="525.5" r="0.6" fill="#ffa94a" fill-opacity="0.35"/>
<circle cx="419.5" cy="534.7" r="0.6" fill="#ffa94a" fill-opacity="0.35"/>
<circle cx="415.0" cy="537.5" r="0.6" fill="#ffa94a" fill-opacity="0.35"/>
<circle cx="428.8" cy="525.9" r="0.6" fill="#ffa94a" fill-opacity="0.35"/>
<circle cx="410.9" cy="532.4" r="0.6" fill="#ffa94a" fill-opacity="0.35"/>
<circle cx="429.5" cy="530.3" r="0.6" fill="#ffa94a" fill-opacity="0.35"/>
<circle cx="414.8" cy="530.9" r="0.6" fill="#ffa94a" fill-opacity="0.35"/>
<circle cx="411.0" cy="528.3" r="0.6" fill="#ffa94a" fill-opacity="0.35"/>
<circle cx="419.3" cy="531.8" r="0.6" fill="#ffa94a" fill-opacity="0.35"/>
<circle cx="415.1" cy="528.4" r="0.6" fill="#ffa94a" fill-opacity="0.35"/>
<circle cx="414.8" cy="531.3" r="0.6" fill="#ffa94a" fill-opacity="0.35"/>
<circle cx="416.3" cy="525.8" r="0.6" fill="#ffa94a" fill-opacity="0.35"/>
<circle cx="427.5" cy="532.6" r="0.6" fill="#ffa94a" fill-opacity="0.35"/>
<circle cx="423.5" cy="527.9" r="0.6" fill="#ffa94a" fill-opacity="0.35"/>
<circle cx="430.6" cy="536.4" r="0.6" fill="#ffa94a" fill-opacity="0.35"/>
<circle cx="412.8" cy="529.7" r="0.6" fill="#ffa94a" fill-opacity="0.35"/>
<circle cx="425.1" cy="534.5" r="0.6" fill="#ffa94a" fill-opacity="0.35"/>
<circle cx="429.5" cy="530.9" r="0.6" fill="#ffa94a" fill-opacity="0.35"/>
<circle cx="427.3" cy="534.0" r="0.6" fill="#ffa94a" fill-opacity="0.35"/>
<circle cx="416.6" cy="533.0" r="0.6" fill="#ffa94a" fill-opacity="0.35"/>
<circle cx="428.4" cy="536.2" r="0.6" fill="#ffa94a" fill-opacity="0.35"/>
<circle cx="420.7" cy="533.0" r="0.6" fill="#ffa94a" fill-opacity="0.35"/>
<circle cx="411.1" cy="528.6" r="0.6" fill="#ffa94a" fill-opacity="0.35"/>
<circle cx="426.6" cy="530.8" r="0.6" fill="#ffa94a" fill-opacity="0.35"/>
<circle cx="413.9" cy="532.5" r="0.6" fill="#ffa94a" fill-opacity="0.35"/>
<circle cx="424.7" cy="534.1" r="0.6" fill="#ffa94a" fill-opacity="0.35"/>
<circle cx="418.0" cy="531.1" r="0.6" fill="#ffa94a" fill-opacity="0.35"/>
<circle cx="420.8" cy="535.4" r="0.6" fill="#ffa94a" fill-opacity="0.35"/>
<circle cx="421.0" cy="530.5" r="0.6" fill="#ffa94a" fill-opacity="0.35"/>
<circle cx="420.4" cy="525.9" r="0.6" fill="#ffa94a" fill-opacity="0.35"/>
<circle cx="411.3" cy="534.4" r="0.6" fill="#ffa94a" fill-opacity="0.35"/>
<circle cx="430.4" cy="533.0" r="0.6" fill="#ffa94a" fill-opacity="0.35"/>
<circle cx="418.4" cy="527.7" r="0.6" fill="#ffa94a" fill-opacity="0.35"/>
<circle cx="420.6" cy="538.0" r="0.6" fill="#ffa94a" fill-opacity="0.35"/>
<circle cx="426.1" cy="532.4" r="0.6" fill="#ffa94a" fill-opacity="0.35"/>
<circle cx="427.9" cy="528.4" r="0.6" fill="#ffa94a" fill-opacity="0.35"/>
<circle cx="420.9" cy="537.6" r="0.6" fill="#ffa94a" fill-opacity="0.35"/>
<circle cx="422.2" cy="531.3" r="0.6" fill="#ffa94a" fill-opacity="0.35"/>
<circle cx="415.9" cy="532.5" r="0.6" fill="#ffa94a" fill-opacity="0.35"/>
<circle cx="429.9" cy="525.6" r="0.6" fill="#ffa94a" fill-opacity="0.35"/>
<circle cx="426.4" cy="535.9" r="0.6" fill="#ffa94a" fill-opacity="0.35"/>
<circle cx="428.5" cy="534.9" r="0.6" fill="#ffa94a" fill-opacity="0.35"/>
<circle cx="426.9" cy="532.1" r="0.6" fill="#ffa94a" fill-opacity="0.35"/>
<circle cx="421.8" cy="530.9" r="0.6" fill="#ffa94a" fill-opacity="0.35"/>
<circle cx="411.5" cy="536.5" r="0.6" fill="#ffa94a" fill-opacity="0.35"/>
<circle cx="422.0" cy="528.0" r="0.6" fill="#ffa94a" fill-opacity="0.35"/>
<circle cx="420.7" cy="531.7" r="0.6" fill="#ffa94a" fill-opacity="0.35"/>
<circle cx="417.7" cy="529.9" r="0.6" fill="#ffa94a" fill-opacity="0.35"/>
<circle cx="421.4" cy="533.4" r="0.6" fill="#ffa94a" fill-opacity="0.35"/>
<circle cx="422.9" cy="531.3" r="0.6" fill="#ffa94a" fill-opacity="0.35"/>
<circle cx="411.0" cy="528.4" r="0.6" fill="#ffa94a" fill-opacity="0.35"/>
<circle cx="414.0" cy="532.9" r="0.6" fill="#ffa94a" fill-opacity="0.35"/>
<circle cx="427.9" cy="535.6" r="0.6" fill="#ffa94a" fill-opacity="0.35"/>
<circle cx="426.6" cy="535.9" r="0.6" fill="#ffa94a" fill-opacity="0.35"/>
<circle cx="415.6" cy="536.2" r="0.6" fill="#ffa94a" fill-opacity="0.35"/>
<circle cx="424.1" cy="526.6" r="0.6" fill="#ffa94a" fill-opacity="0.35"/>
<circle cx="410.7" cy="525.7" r="0.6" fill="#ffa94a" fill-opacity="0.35"/>
<circle cx="425.8" cy="528.7" r="0.6" fill="#ffa94a" fill-opacity="0.35"/>
<circle cx="412.6" cy="533.4" r="0.6" fill="#ffa94a" fill-opacity="0.35"/>
<circle cx="417.4" cy="526.4" r="0.6" fill="#ffa94a" fill-opacity="0.35"/>
<circle cx="413.6" cy="532.2" r="0.6" fill="#ffa94a" fill-opacity="0.35"/>
<circle cx="413.8" cy="529.0" r="0.6" fill="#ffa94a" fill-opacity="0.35"/>
<circle cx="424.9" cy="531.3" r="0.6" fill="#ffa94a" fill-opacity="0.35"/>
<circle cx="417.0" cy="531.5" r="0.6" fill="#ffa94a" fill-opacity="0.35"/>
<circle cx="410.9" cy="530.4" r="0.6" fill="#ffa94a" fill-opacity="0.35"/>
<circle cx="419.0" cy="527.9" r="0.6" fill="#ffa94a" fill-opacity="0.35"/>
<circle cx="412.6" cy="536.9" r="0.6" fill="#ffa94a" fill-opacity="0.35"/>
<circle cx="420.8" cy="528.2" r="0.6" fill="#ffa94a" fill-opacity="0.35"/>
<circle cx="422.7" cy="535.9" r="0.6" fill="#ffa94a" fill-opacity="0.35"/>
<circle cx="410.8" cy="525.7" r="0.6" fill="#ffa94a" fill-opacity="0.35"/>
<circle cx="413.4" cy="534.6" r="0.6" fill="#ffa94a" fill-opacity="0.35"/>
<circle cx="413.7" cy="534.4" r="0.6" fill="#ffa94a" fill-opacity="0.35"/>
<circle cx="424.2" cy="532.4" r="0.6" fill="#ffa94a" fill-opacity="0.35"/>
<circle cx="414.9" cy="537.9" r="0.6" fill="#ffa94a" fill-opacity="0.35"/>
<circle cx="426.7" cy="532.1" r="0.6" fill="#ffa94a" fill-opacity="0.35"/>
<circle cx="414.9" cy="533.7" r="0.6" fill="#ffa94a" fill-opacity="0.35"/>
<circle cx="418.4" cy="532.8" r="0.6" fill="#ffa94a" fill-opacity="0.35"/>
<circle cx="416.9" cy="533.5" r="0.6" fill="#ffa94a" fill-opacity="0.35"/>
<circle cx="411.6" cy="529.3" r="0.6" fill="#ffa94a" fill-opacity="0.35"/>
<circle cx="430.1" cy="536.6" r="0.6" fill="#ffa94a" fill-opacity="0.35"/>
<circle cx="416.6" cy="536.4" r="0.6" fill="#ffa94a" fill-opacity="0.35"/>
<circle cx="416.7" cy="537.4" r="0.6" fill="#ffa94a" fill-opacity="0.35"/>
<circle cx="425.6" cy="530.8" r="0.6" fill="#ffa94a" fill-opacity="0.35"/>
<circle cx="415.5" cy="525.6" r="0.6" fill="#ffa94a" fill-opacity="0.35"/>
<circle cx="428.3" cy="526.0" r="0.6" fill="#ffa94a" fill-opacity="0.35"/>
<circle cx="427.1" cy="537.7" r="0.6" fill="#ffa94a" fill-opacity="0.35"/>
<circle cx="422.0" cy="527.7" r="0.6" fill="#ffa94a" fill-opacity="0.35"/>
<circle cx="428.1" cy="537.9" r="0.6" fill="#ffa94a" fill-opacity="0.35"/>
<circle cx="424.7" cy="532.0" r="0.6" fill="#ffa94a" fill-opacity="0.35"/>
<circle cx="418.1" cy="529.9" r="0.6" fill="#ffa94a" fill-opacity="0.35"/>
<circle cx="414.6" cy="534.1" r="0.6" fill="#ffa94a" fill-opacity="0.35"/>
<circle cx="419.2" cy="528.0" r="0.6" fill="#ffa94a" fill-opacity="0.35"/>
<circle cx="412.5" cy="534.0" r="0.6" fill="#ffa94a" fill-opacity="0.35"/>
<circle cx="416.4" cy="531.8" r="0.6" fill="#ffa94a" fill-opacity="0.35"/>
<circle cx="417.0" cy="536.6" r="0.6" fill="#ffa94a" fill-opacity="0.35"/>
<circle cx="428.7" cy="525.7" r="0.6" fill="#ffa94a" fill-opacity="0.35"/>
<circle cx="414.5" cy="529.7" r="0.6" fill="#ffa94a" fill-opacity="0.35"/>
<circle cx="430.5" cy="535.4" r="0.6" fill="#ffa94a" fill-opacity="0.35"/>
<circle cx="417.3" cy="528.2" r="0.6" fill="#ffa94a" fill-opacity="0.35"/>
<circle cx="424.1" cy="536.1" r="0.6" fill="#ffa94a" fill-opacity="0.35"/>
<circle cx="429.4" cy="529.9" r="0.6" fill="#ffa94a" fill-opacity="0.35"/>
<rect x="438.5" y="494.2" width="20.8" height="4.2" rx="3" fill="#7373ff" opacity="0.45" filter="url(#blur1)"/>
<circle cx="450.5" cy="495.9" r="0.6" fill="#7373ff" fill-opacity="0.35"/>
<circle cx="450.6" cy="494.8" r="0.6" fill="#7373ff" fill-opacity="0.35"/>
<circle cx="455.7" cy="498.0" r="0.6" fill="#7373ff" fill-opacity="0.35"/>
<circle cx="452.2" cy="494.5" r="0.6" fill="#7373ff" fill-opacity="0.35"/>
<circle cx="449.4" cy="495.4" r="0.6" fill="#7373ff" fill-opacity="0.35"/>
<circle cx="443.5" cy="498.7" r="0.6" fill="#7373ff" fill-opacity="0.35"/>
<circle cx="459.6" cy="493.9" r="0.6" fill="#7373ff" fill-opacity="0.35"/>
<circle cx="456.7" cy="496.8" r="0.6" fill="#7373ff" fill-opacity="0.35"/>
<circle cx="446.4" cy="495.2" r="0.6" fill="#7373ff" fill-opacity="0.35"/>
<circle cx="452.7" cy="496.1" r="0.6" fill="#7373ff" fill-opacity="0.35"/>
<circle cx="452.9" cy="497.1" r="0.6" fill="#7373ff" fill-opacity="0.35"/>
<circle cx="441.0" cy="497.7" r="0.6" fill="#7373ff" fill-opacity="0.35"/>
<circle cx="459.3" cy="498.7" r="0.6" fill="#7373ff" fill-opacity="0.35"/>
<circle cx="451.4" cy="493.9" r="0.6" fill="#7373ff" fill-opacity="0.35"/>
<circle cx="438.2" cy="494.4" r="0.6" fill="#7373ff" fill-opacity="0.35"/>
<circle cx="458.4" cy="495.3" r="0.6" fill="#7373ff" fill-opacity="0.35"/>
<circle cx="446.0" cy="498.4" r="0.6" fill="#7373ff" fill-opacity="0.35"/>
<circle cx="444.9" cy="496.6" r="0.6" fill="#7373ff" fill-opacity="0.35"/>
<circle cx="447.5" cy="494.0" r="0.6" fill="#7373ff" fill-opacity="0.35"/>
<circle cx="450.7" cy="498.1" r="0.6" fill="#7373ff" fill-opacity="0.35"/>
<circle cx="441.5" cy="494.9" r="0.6" fill="#7373ff" fill-opacity="0.35"/>
<circle cx="447.0" cy="493.9" r="0.6" fill="#7373ff" fill-opacity="0.35"/>
<circle cx="448.8" cy="498.0" r="0.6" fill="#7373ff" fill-opacity="0.35"/>
<circle cx="452.3" cy="496.5" r="0.6" fill="#7373ff" fill-opacity="0.35"/>
<circle cx="456.6" cy="494.5" r="0.6" fill="#7373ff" fill-opacity="0.35"/>
<circle cx="450.4" cy="495.6" r="0.6" fill="#7373ff" fill-opacity="0.35"/>
<circle cx="451.1" cy="494.3" r="0.6" fill="#7373ff" fill-opacity="0.35"/>
<circle cx="454.9" cy="494.2" r="0.6" fill="#7373ff" fill-opacity="0.35"/>
<circle cx="441.7" cy="497.9" r="0.6" fill="#7373ff" fill-opacity="0.35"/>
<circle cx="458.6" cy="496.0" r="0.6" fill="#7373ff" fill-opacity="0.35"/>
<circle cx="447.1" cy="495.0" r="0.6" fill="#7373ff" fill-opacity="0.35"/>
<circle cx="444.1" cy="496.9" r="0.6" fill="#7373ff" fill-opacity="0.35"/>
<circle cx="442.0" cy="494.3" r="0.6" fill="#7373ff" fill-opacity="0.35"/>
<circle cx="448.0" cy="494.6" r="0.6" fill="#7373ff" fill-opacity="0.35"/>
<circle cx="452.1" cy="498.0" r="0.6" fill="#7373ff" fill-opacity="0.35"/>
<circle cx="454.9" cy="496.2" r="0.6" fill="#7373ff" fill-opacity="0.35"/>
<circle cx="445.6" cy="496.0" r="0.6" fill="#7373ff" fill-opacity="0.35"/>
<circle cx="438.2" cy="497.4" r="0.6" fill="#7373ff" fill-opacity="0.35"/>
<circle cx="445.3" cy="495.4" r="0.6" fill="#7373ff" fill-opacity="0.35"/>
<circle cx="439.8" cy="496.0" r="0.6" fill="#7373ff" fill-opacity="0.35"/>
<circle cx="450.7" cy="495.7" r="0.6" fill="#7373ff" fill-opacity="0.35"/>
<circle cx="456.9" cy="497.2" r="0.6" fill="#7373ff" fill-opacity="0.35"/>
<circle cx="443.3" cy="496.4" r="0.6" fill="#7373ff" fill-opacity="0.35"/>
<circle cx="457.8" cy="496.4" r="0.6" fill="#7373ff" fill-opacity="0.35"/>
<circle cx="451.1" cy="494.0" r="0.6" fill="#7373ff" fill-opacity="0.35"/>
<circle cx="448.7" cy="496.1" r="0.6" fill="#7373ff" fill-opacity="0.35"/>
<circle cx="446.8" cy="495.9" r="0.6" fill="#7373ff" fill-opacity="0.35"/>
<circle cx="450.8" cy="496.5" r="0.6" fill="#7373ff" fill-opacity="0.35"/>
<circle cx="448.7" cy="494.6" r="0.6" fill="#7373ff" fill-opacity="0.35"/>
<circle cx="447.7" cy="498.7" r="0.6" fill="#7373ff" fill-opacity="0.35"/>
<rect x="461.0" y="497.6" width="19.0" height="7.2" rx="3" fill="#ffa94a" opacity="0.45" filter="url(#blur1)"/>
<circle cx="469.6" cy="501.7" r="0.6" fill="#ffa94a" fill-opacity="0.35"/>
<circle cx="478.9" cy="500.9" r="0.6" fill="#ffa94a" fill-opacity="0.35"/>
<circle cx="470.7" cy="501.9" r="0.6" fill="#ffa94a" fill-opacity="0.35"/>
<circle cx="464.3" cy="501.3" r="0.6" fill="#ffa94a" fill-opacity="0.35"/>
<circle cx="473.1" cy="503.6" r="0.6" fill="#ffa94a" fill-opacity="0.35"/>
<circle cx="462.5" cy="499.6" r="0.6" fill="#ffa94a" fill-opacity="0.35"/>
<circle cx="462.4" cy="503.7" r="0.6" fill="#ffa94a" fill-opacity="0.35"/>
<circle cx="474.4" cy="497.4" r="0.6" fill="#ffa94a" fill-opacity="0.35"/>
<circle cx="480.1" cy="505.0" r="0.6" fill="#ffa94a" fill-opacity="0.35"/>
<circle cx="473.6" cy="502.1" r="0.6" fill="#ffa94a" fill-opacity="0.35"/>
<circle cx="463.8" cy="497.2" r="0.6" fill="#ffa94a" fill-opacity="0.35"/>
<circle cx="471.1" cy="497.6" r="0.6" fill="#ffa94a" fill-opacity="0.35"/>
<circle cx="464.4" cy="499.1" r="0.6" fill="#ffa94a" fill-opacity="0.35"/>
<circle cx="461.2" cy="500.9" r="0.6" fill="#ffa94a" fill-opacity="0.35"/>
<circle cx="469.4" cy="504.0" r="0.6" fill="#ffa94a" fill-opacity="0.35"/>
<circle cx="470.9" cy="502.4" r="0.6" fill="#ffa94a" fill-opacity="0.35"/>
<circle cx="470.5" cy="502.5" r="0.6" fill="#ffa94a" fill-opacity="0.35"/>
<circle cx="469.7" cy="499.4" r="0.6" fill="#ffa94a" fill-opacity="0.35"/>
<circle cx="480.4" cy="505.3" r="0.6" fill="#ffa94a" fill-opacity="0.35"/>
<circle cx="477.3" cy="502.9" r="0.6" fill="#ffa94a" fill-opacity="0.35"/>
<circle cx="466.9" cy="499.0" r="0.6" fill="#ffa94a" fill-opacity="0.35"/>
<circle cx="466.4" cy="497.7" r="0.6" fill="#ffa94a" fill-opacity="0.35"/>
<circle cx="475.8" cy="500.4" r="0.6" fill="#ffa94a" fill-opacity="0.35"/>
<circle cx="477.4" cy="500.3" r="0.6" fill="#ffa94a" fill-opacity="0.35"/>
<circle cx="479.6" cy="504.0" r="0.6" fill="#ffa94a" fill-opacity="0.35"/>
<circle cx="460.6" cy="498.8" r="0.6" fill="#ffa94a" fill-opacity="0.35"/>
<circle cx="478.7" cy="501.0" r="0.6" fill="#ffa94a" fill-opacity="0.35"/>
<circle cx="480.0" cy="500.4" r="0.6" fill="#ffa94a" fill-opacity="0.35"/>
<circle cx="462.1" cy="502.3" r="0.6" fill="#ffa94a" fill-opacity="0.35"/>
<circle cx="476.0" cy="499.3" r="0.6" fill="#ffa94a" fill-opacity="0.35"/>
<circle cx="462.4" cy="499.8" r="0.6" fill="#ffa94a" fill-opacity="0.35"/>
<circle cx="479.7" cy="503.3" r="0.6" fill="#ffa94a" fill-opacity="0.35"/>
<circle cx="463.0" cy="499.1" r="0.6" fill="#ffa94a" fill-opacity="0.35"/>
<circle cx="462.6" cy="497.6" r="0.6" fill="#ffa94a" fill-opacity="0.35"/>
<circle cx="476.4" cy="498.6" r="0.6" fill="#ffa94a" fill-opacity="0.35"/>
<circle cx="471.7" cy="500.8" r="0.6" fill="#ffa94a" fill-opacity="0.35"/>
<circle cx="464.4" cy="503.1" r="0.6" fill="#ffa94a" fill-opacity="0.35"/>
<circle cx="463.2" cy="502.4" r="0.6" fill="#ffa94a" fill-opacity="0.35"/>
<circle cx="462.9" cy="500.6" r="0.6" fill="#ffa94a" fill-opacity="0.35"/>
<circle cx="464.8" cy="499.3" r="0.6" fill="#ffa94a" fill-opacity="0.35"/>
<circle cx="479.9" cy="503.7" r="0.6" fill="#ffa94a" fill-opacity="0.35"/>
<circle cx="466.7" cy="504.4" r="0.6" fill="#ffa94a" fill-opacity="0.35"/>
<circle cx="464.8" cy="500.3" r="0.6" fill="#ffa94a" fill-opacity="0.35"/>
<circle cx="477.5" cy="502.4" r="0.6" fill="#ffa94a" fill-opacity="0.35"/>
<circle cx="462.6" cy="505.2" r="0.6" fill="#ffa94a" fill-opacity="0.35"/>
<circle cx="464.9" cy="499.2" r="0.6" fill="#ffa94a" fill-opacity="0.35"/>
<circle cx="475.9" cy="499.8" r="0.6" fill="#ffa94a" fill-opacity="0.35"/>
<circle cx="466.5" cy="497.7" r="0.6" fill="#ffa94a" fill-opacity="0.35"/>
<circle cx="462.4" cy="501.9" r="0.6" fill="#ffa94a" fill-opacity="0.35"/>
<circle cx="465.4" cy="502.0" r="0.6" fill="#ffa94a" fill-opacity="0.35"/>
<circle cx="468.0" cy="500.8" r="0.6" fill="#ffa94a" fill-opacity="0.35"/>
<circle cx="479.6" cy="501.1" r="0.6" fill="#ffa94a" fill-opacity="0.35"/>
<circle cx="472.0" cy="504.2" r="0.6" fill="#ffa94a" fill-opacity="0.35"/>
<circle cx="464.3" cy="498.4" r="0.6" fill="#ffa94a" fill-opacity="0.35"/>
<circle cx="478.6" cy="503.8" r="0.6" fill="#ffa94a" fill-opacity="0.35"/>
<circle cx="465.6" cy="498.7" r="0.6" fill="#ffa94a" fill-opacity="0.35"/>
<circle cx="475.3" cy="504.8" r="0.6" fill="#ffa94a" fill-opacity="0.35"/>
<circle cx="464.5" cy="504.9" r="0.6" fill="#ffa94a" fill-opacity="0.35"/>
<circle cx="478.1" cy="502.0" r="0.6" fill="#ffa94a" fill-opacity="0.35"/>
<circle cx="469.0" cy="498.0" r="0.6" fill="#ffa94a" fill-opacity="0.35"/>
<circle cx="461.4" cy="505.0" r="0.6" fill="#ffa94a" fill-opacity="0.35"/>
<circle cx="465.4" cy="502.9" r="0.6" fill="#ffa94a" fill-opacity="0.35"/>
<circle cx="465.7" cy="503.9" r="0.6" fill="#ffa94a" fill-opacity="0.35"/>
<circle cx="472.4" cy="499.5" r="0.6" fill="#ffa94a" fill-opacity="0.35"/>
<circle cx="464.1" cy="503.0" r="0.6" fill="#ffa94a" fill-opacity="0.35"/>
<circle cx="462.0" cy="499.0" r="0.6" fill="#ffa94a" fill-opacity="0.35"/>
<circle cx="471.7" cy="504.1" r="0.6" fill="#ffa94a" fill-opacity="0.35"/>
<circle cx="472.8" cy="499.4" r="0.6" fill="#ffa94a" fill-opacity="0.35"/>
<rect x="488.2" y="614.2" width="20.8" height="9.8" rx="3" fill="#7373ff" opacity="0.45" filter="url(#blur1)"/>
<circle cx="507.4" cy="621.1" r="0.6" fill="#7373ff" fill-opacity="0.35"/>
<circle cx="504.4" cy="623.5" r="0.6" fill="#7373ff" fill-opacity="0.35"/>
<circle cx="493.4" cy="620.6" r="0.6" fill="#7373ff" fill-opacity="0.35"/>
<circle cx="507.4" cy="623.1" r="0.6" fill="#7373ff" fill-opacity="0.35"/>
<circle cx="500.2" cy="615.5" r="0.6" fill="#7373ff" fill-opacity="0.35"/>
<circle cx="496.7" cy="624.4" r="0.6" fill="#7373ff" fill-opacity="0.35"/>
<circle cx="490.0" cy="617.1" r="0.6" fill="#7373ff" fill-opacity="0.35"/>
<circle cx="508.3" cy="618.6" r="0.6" fill="#7373ff" fill-opacity="0.35"/>
<circle cx="492.3" cy="617.1" r="0.6" fill="#7373ff" fill-opacity="0.35"/>
<circle cx="507.4" cy="617.3" r="0.6" fill="#7373ff" fill-opacity="0.35"/>
<circle cx="497.0" cy="620.5" r="0.6" fill="#7373ff" fill-opacity="0.35"/>
<circle cx="505.2" cy="619.0" r="0.6" fill="#7373ff" fill-opacity="0.35"/>
<circle cx="489.6" cy="619.9" r="0.6" fill="#7373ff" fill-opacity="0.35"/>
<circle cx="488.6" cy="614.7" r="0.6" fill="#7373ff" fill-opacity="0.35"/>
<circle cx="491.9" cy="621.2" r="0.6" fill="#7373ff" fill-opacity="0.35"/>
<circle cx="493.9" cy="621.2" r="0.6" fill="#7373ff" fill-opacity="0.35"/>
<circle cx="491.3" cy="615.0" r="0.6" fill="#7373ff" fill-opacity="0.35"/>
<circle cx="488.3" cy="621.3" r="0.6" fill="#7373ff" fill-opacity="0.35"/>
<circle cx="506.4" cy="616.1" r="0.6" fill="#7373ff" fill-opacity="0.35"/>
<circle cx="492.9" cy="613.8" r="0.6" fill="#7373ff" fill-opacity="0.35"/>
<circle cx="501.7" cy="616.9" r="0.6" fill="#7373ff" fill-opacity="0.35"/>
<circle cx="490.8" cy="620.7" r="0.6" fill="#7373ff" fill-opacity="0.35"/>
<circle cx="500.8" cy="618.5" r="0.6" fill="#7373ff" fill-opacity="0.35"/>
<circle cx="491.1" cy="620.6" r="0.6" fill="#7373ff" fill-opacity="0.35"/>
<circle cx="499.8" cy="618.4" r="0.6" fill="#7373ff" fill-opacity="0.35"/>
<circle cx="491.4" cy="623.7" r="0.6" fill="#7373ff" fill-opacity="0.35"/>
<circle cx="506.4" cy="621.1" r="0.6" fill="#7373ff" fill-opacity="0.35"/>
<circle cx="509.3" cy="620.0" r="0.6" fill="#7373ff" fill-opacity="0.35"/>
<circle cx="495.3" cy="615.0" r="0.6" fill="#7373ff" fill-opacity="0.35"/>
<circle cx="500.9" cy="619.3" r="0.6" fill="#7373ff" fill-opacity="0.35"/>
<circle cx="497.2" cy="624.4" r="0.6" fill="#7373ff" fill-opacity="0.35"/>
<circle cx="505.9" cy="614.9" r="0.6" fill="#7373ff" fill-opacity="0.35"/>
<circle cx="506.9" cy="613.7" r="0.6" fill="#7373ff" fill-opacity="0.35"/>
<circle cx="501.9" cy="617.1" r="0.6" fill="#7373ff" fill-opacity="0.35"/>
<circle cx="503.6" cy="624.0" r="0.6" fill="#7373ff" fill-opacity="0.35"/>
<circle cx="499.3" cy="621.9" r="0.6" fill="#7373ff" fill-opacity="0.35"/>
<circle cx="489.0" cy="620.9" r="0.6" fill="#7373ff" fill-opacity="0.35"/>
<circle cx="490.3" cy="618.6" r="0.6" fill="#7373ff" fill-opacity="0.35"/>
<circle cx="495.0" cy="614.5" r="0.6" fill="#7373ff" fill-opacity="0.35"/>
<circle cx="503.9" cy="614.7" r="0.6" fill="#7373ff" fill-opacity="0.35"/>
<circle cx="493.4" cy="614.6" r="0.6" fill="#7373ff" fill-opacity="0.35"/>
<circle cx="502.1" cy="617.0" r="0.6" fill="#7373ff" fill-opacity="0.35"/>
<circle cx="488.8" cy="614.0" r="0.6" fill="#7373ff" fill-opacity="0.35"/>
<circle cx="492.5" cy="619.2" r="0.6" fill="#7373ff" fill-opacity="0.35"/>
<circle cx="488.1" cy="614.0" r="0.6" fill="#7373ff" fill-opacity="0.35"/>
<circle cx="502.2" cy="619.4" r="0.6" fill="#7373ff" fill-opacity="0.35"/>
<circle cx="490.7" cy="617.1" r="0.6" fill="#7373ff" fill-opacity="0.35"/>
<circle cx="490.5" cy="616.7" r="0.6" fill="#7373ff" fill-opacity="0.35"/>
<circle cx="496.2" cy="616.1" r="0.6" fill="#7373ff" fill-opacity="0.35"/>
<circle cx="492.1" cy="616.1" r="0.6" fill="#7373ff" fill-opacity="0.35"/>
<circle cx="494.3" cy="619.7" r="0.6" fill="#7373ff" fill-opacity="0.35"/>
<circle cx="506.9" cy="620.7" r="0.6" fill="#7373ff" fill-opacity="0.35"/>
<circle cx="497.5" cy="613.7" r="0.6" fill="#7373ff" fill-opacity="0.35"/>
<circle cx="491.9" cy="620.5" r="0.6" fill="#7373ff" fill-opacity="0.35"/>
<circle cx="496.6" cy="622.8" r="0.6" fill="#7373ff" fill-opacity="0.35"/>
<circle cx="507.4" cy="616.9" r="0.6" fill="#7373ff" fill-opacity="0.35"/>
<circle cx="495.7" cy="616.9" r="0.6" fill="#7373ff" fill-opacity="0.35"/>
<circle cx="502.4" cy="614.8" r="0.6" fill="#7373ff" fill-opacity="0.35"/>
<circle cx="493.8" cy="623.2" r="0.6" fill="#7373ff" fill-opacity="0.35"/>
<circle cx="495.9" cy="624.2" r="0.6" fill="#7373ff" fill-opacity="0.35"/>
<circle cx="496.4" cy="622.7" r="0.6" fill="#7373ff" fill-opacity="0.35"/>
<circle cx="497.8" cy="614.8" r="0.6" fill="#7373ff" fill-opacity="0.35"/>
<circle cx="500.3" cy="616.0" r="0.6" fill="#7373ff" fill-opacity="0.35"/>
<circle cx="507.6" cy="621.3" r="0.6" fill="#7373ff" fill-opacity="0.35"/>
<circle cx="499.2" cy="623.7" r="0.6" fill="#7373ff" fill-opacity="0.35"/>
<circle cx="499.6" cy="624.1" r="0.6" fill="#7373ff" fill-opacity="0.35"/>
<circle cx="503.2" cy="615.6" r="0.6" fill="#7373ff" fill-opacity="0.35"/>
<circle cx="494.2" cy="622.8" r="0.6" fill="#7373ff" fill-opacity="0.35"/>
<circle cx="490.0" cy="624.3" r="0.6" fill="#7373ff" fill-opacity="0.35"/>
<circle cx="488.7" cy="621.8" r="0.6" fill="#7373ff" fill-opacity="0.35"/>
<circle cx="501.2" cy="618.1" r="0.6" fill="#7373ff" fill-opacity="0.35"/>
<circle cx="500.8" cy="620.0" r="0.6" fill="#7373ff" fill-opacity="0.35"/>
<circle cx="495.6" cy="616.8" r="0.6" fill="#7373ff" fill-opacity="0.35"/>
<circle cx="488.9" cy="620.8" r="0.6" fill="#7373ff" fill-opacity="0.35"/>
<circle cx="506.8" cy="617.8" r="0.6" fill="#7373ff" fill-opacity="0.35"/>
<circle cx="506.3" cy="618.0" r="0.6" fill="#7373ff" fill-opacity="0.35"/>
<circle cx="493.3" cy="622.3" r="0.6" fill="#7373ff" fill-opacity="0.35"/>
<circle cx="507.8" cy="614.7" r="0.6" fill="#7373ff" fill-opacity="0.35"/>
<circle cx="506.6" cy="617.1" r="0.6" fill="#7373ff" fill-opacity="0.35"/>
<circle cx="504.5" cy="616.9" r="0.6" fill="#7373ff" fill-opacity="0.35"/>
<circle cx="509.2" cy="617.3" r="0.6" fill="#7373ff" fill-opacity="0.35"/>
<circle cx="492.3" cy="614.3" r="0.6" fill="#7373ff" fill-opacity="0.35"/>
<circle cx="490.7" cy="614.7" r="0.6" fill="#7373ff" fill-opacity="0.35"/>
<circle cx="505.5" cy="613.9" r="0.6" fill="#7373ff" fill-opacity="0.35"/>
<circle cx="490.4" cy="616.3" r="0.6" fill="#7373ff" fill-opacity="0.35"/>
<circle cx="490.9" cy="622.1" r="0.6" fill="#7373ff" fill-opacity="0.35"/>
<circle cx="487.9" cy="621.1" r="0.6" fill="#7373ff" fill-opacity="0.35"/>
<circle cx="495.4" cy="615.3" r="0.6" fill="#7373ff" fill-opacity="0.35"/>
<circle cx="492.8" cy="619.4" r="0.6" fill="#7373ff" fill-opacity="0.35"/>
<circle cx="493.1" cy="617.9" r="0.6" fill="#7373ff" fill-opacity="0.35"/>
<circle cx="496.2" cy="619.5" r="0.6" fill="#7373ff" fill-opacity="0.35"/>
<circle cx="503.0" cy="616.8" r="0.6" fill="#7373ff" fill-opacity="0.35"/>
<circle cx="501.0" cy="621.4" r="0.6" fill="#7373ff" fill-opacity="0.35"/>
<circle cx="494.2" cy="622.0" r="0.6" fill="#7373ff" fill-opacity="0.35"/>
<circle cx="489.6" cy="619.0" r="0.6" fill="#7373ff" fill-opacity="0.35"/>
<circle cx="495.4" cy="615.1" r="0.6" fill="#7373ff" fill-opacity="0.35"/>
<circle cx="502.0" cy="622.9" r="0.6" fill="#7373ff" fill-opacity="0.35"/>
<circle cx="498.3" cy="617.5" r="0.6" fill="#7373ff" fill-opacity="0.35"/>
<rect x="509.7" y="623.8" width="21.4" height="8.4" rx="3" fill="#ffa94a" opacity="0.45" filter="url(#blur1)"/>
<circle cx="513.0" cy="629.8" r="0.6" fill="#ffa94a" fill-opacity="0.35"/>
<circle cx="523.4" cy="627.8" r="0.6" fill="#ffa94a" fill-opacity="0.35"/>
<circle cx="514.1" cy="630.8" r="0.6" fill="#ffa94a" fill-opacity="0.35"/>
<circle cx="527.3" cy="628.1" r="0.6" fill="#ffa94a" fill-opacity="0.35"/>
<circle cx="520.6" cy="625.5" r="0.6" fill="#ffa94a" fill-opacity="0.35"/>
<circle cx="509.4" cy="626.8" r="0.6" fill="#ffa94a" fill-opacity="0.35"/>
<circle cx="522.3" cy="624.0" r="0.6" fill="#ffa94a" fill-opacity="0.35"/>
<circle cx="527.0" cy="625.5" r="0.6" fill="#ffa94a" fill-opacity="0.35"/>
<circle cx="514.5" cy="623.7" r="0.6" fill="#ffa94a" fill-opacity="0.35"/>
<circle cx="531.5" cy="630.2" r="0.6" fill="#ffa94a" fill-opacity="0.35"/>
<circle cx="528.8" cy="629.1" r="0.6" fill="#ffa94a" fill-opacity="0.35"/>
<circle cx="510.1" cy="626.4" r="0.6" fill="#ffa94a" fill-opacity="0.35"/>
<circle cx="520.4" cy="624.4" r="0.6" fill="#ffa94a" fill-opacity="0.35"/>
<circle cx="530.5" cy="626.8" r="0.6" fill="#ffa94a" fill-opacity="0.35"/>
<circle cx="512.8" cy="631.0" r="0.6" fill="#ffa94a" fill-opacity="0.35"/>
<circle cx="512.1" cy="632.0" r="0.6" fill="#ffa94a" fill-opacity="0.35"/>
<circle cx="519.4" cy="628.5" r="0.6" fill="#ffa94a" fill-opacity="0.35"/>
<circle cx="517.0" cy="627.9" r="0.6" fill="#ffa94a" fill-opacity="0.35"/>
<circle cx="513.5" cy="623.6" r="0.6" fill="#ffa94a" fill-opacity="0.35"/>
<circle cx="528.6" cy="625.5" r="0.6" fill="#ffa94a" fill-opacity="0.35"/>
<circle cx="526.7" cy="625.3" r="0.6" fill="#ffa94a" fill-opacity="0.35"/>
<circle cx="530.9" cy="631.7" r="0.6" fill="#ffa94a" fill-opacity="0.35"/>
<circle cx="526.1" cy="630.5" r="0.6" fill="#ffa94a" fill-opacity="0.35"/>
<circle cx="522.2" cy="630.2" r="0.6" fill="#ffa94a" fill-opacity="0.35"/>
<circle cx="512.1" cy="627.8" r="0.6" fill="#ffa94a" fill-opacity="0.35"/>
<circle cx="527.7" cy="625.2" r="0.6" fill="#ffa94a" fill-opacity="0.35"/>
<circle cx="529.8" cy="631.6" r="0.6" fill="#ffa94a" fill-opacity="0.35"/>
<circle cx="518.4" cy="626.7" r="0.6" fill="#ffa94a" fill-opacity="0.35"/>
<circle cx="519.4" cy="626.9" r="0.6" fill="#ffa94a" fill-opacity="0.35"/>
<circle cx="531.4" cy="626.9" r="0.6" fill="#ffa94a" fill-opacity="0.35"/>
<circle cx="509.9" cy="624.2" r="0.6" fill="#ffa94a" fill-opacity="0.35"/>
<circle cx="525.3" cy="632.6" r="0.6" fill="#ffa94a" fill-opacity="0.35"/>
<circle cx="520.4" cy="627.9" r="0.6" fill="#ffa94a" fill-opacity="0.35"/>
<circle cx="521.6" cy="630.3" r="0.6" fill="#ffa94a" fill-opacity="0.35"/>
<circle cx="514.3" cy="629.0" r="0.6" fill="#ffa94a" fill-opacity="0.35"/>
<circle cx="521.7" cy="629.2" r="0.6" fill="#ffa94a" fill-opacity="0.35"/>
<circle cx="513.4" cy="624.9" r="0.6" fill="#ffa94a" fill-opacity="0.35"/>
<circle cx="517.1" cy="632.0" r="0.6" fill="#ffa94a" fill-opacity="0.35"/>
<circle cx="517.0" cy="628.9" r="0.6" fill="#ffa94a" fill-opacity="0.35"/>
<circle cx="516.2" cy="624.3" r="0.6" fill="#ffa94a" fill-opacity="0.35"/>
<circle cx="510.8" cy="630.9" r="0.6" fill="#ffa94a" fill-opacity="0.35"/>
<circle cx="526.6" cy="626.8" r="0.6" fill="#ffa94a" fill-opacity="0.35"/>
<circle cx="524.5" cy="629.7" r="0.6" fill="#ffa94a" fill-opacity="0.35"/>
<circle cx="529.3" cy="632.3" r="0.6" fill="#ffa94a" fill-opacity="0.35"/>
<circle cx="518.4" cy="632.6" r="0.6" fill="#ffa94a" fill-opacity="0.35"/>
<circle cx="530.7" cy="628.9" r="0.6" fill="#ffa94a" fill-opacity="0.35"/>
<circle cx="529.0" cy="627.9" r="0.6" fill="#ffa94a" fill-opacity="0.35"/>
<circle cx="517.7" cy="625.6" r="0.6" fill="#ffa94a" fill-opacity="0.35"/>
<circle cx="528.8" cy="624.8" r="0.6" fill="#ffa94a" fill-opacity="0.35"/>
<circle cx="510.9" cy="630.9" r="0.6" fill="#ffa94a" fill-opacity="0.35"/>
<circle cx="526.5" cy="627.8" r="0.6" fill="#ffa94a" fill-opacity="0.35"/>
<circle cx="527.9" cy="623.8" r="0.6" fill="#ffa94a" fill-opacity="0.35"/>
<circle cx="515.1" cy="626.0" r="0.6" fill="#ffa94a" fill-opacity="0.35"/>
<circle cx="518.7" cy="624.9" r="0.6" fill="#ffa94a" fill-opacity="0.35"/>
<circle cx="510.9" cy="626.5" r="0.6" fill="#ffa94a" fill-opacity="0.35"/>
<circle cx="529.3" cy="632.5" r="0.6" fill="#ffa94a" fill-opacity="0.35"/>
<circle cx="525.9" cy="627.8" r="0.6" fill="#ffa94a" fill-opacity="0.35"/>
<circle cx="514.9" cy="632.3" r="0.6" fill="#ffa94a" fill-opacity="0.35"/>
<circle cx="521.0" cy="630.1" r="0.6" fill="#ffa94a" fill-opacity="0.35"/>
<circle cx="510.0" cy="625.3" r="0.6" fill="#ffa94a" fill-opacity="0.35"/>
<circle cx="528.0" cy="630.8" r="0.6" fill="#ffa94a" fill-opacity="0.35"/>
<circle cx="528.9" cy="629.0" r="0.6" fill="#ffa94a" fill-opacity="0.35"/>
<circle cx="518.8" cy="628.8" r="0.6" fill="#ffa94a" fill-opacity="0.35"/>
<circle cx="528.2" cy="626.2" r="0.6" fill="#ffa94a" fill-opacity="0.35"/>
<circle cx="521.2" cy="625.9" r="0.6" fill="#ffa94a" fill-opacity="0.35"/>
<circle cx="526.4" cy="623.4" r="0.6" fill="#ffa94a" fill-opacity="0.35"/>
<circle cx="524.6" cy="632.3" r="0.6" fill="#ffa94a" fill-opacity="0.35"/>
<circle cx="509.9" cy="628.9" r="0.6" fill="#ffa94a" fill-opacity="0.35"/>
<circle cx="523.6" cy="631.3" r="0.6" fill="#ffa94a" fill-opacity="0.35"/>
<circle cx="522.3" cy="625.7" r="0.6" fill="#ffa94a" fill-opacity="0.35"/>
<circle cx="518.3" cy="632.3" r="0.6" fill="#ffa94a" fill-opacity="0.35"/>
<circle cx="529.4" cy="624.6" r="0.6" fill="#ffa94a" fill-opacity="0.35"/>
<circle cx="511.5" cy="624.2" r="0.6" fill="#ffa94a" fill-opacity="0.35"/>
<circle cx="509.9" cy="627.5" r="0.6" fill="#ffa94a" fill-opacity="0.35"/>
<circle cx="512.5" cy="631.5" r="0.6" fill="#ffa94a" fill-opacity="0.35"/>
<circle cx="523.9" cy="624.5" r="0.6" fill="#ffa94a" fill-opacity="0.35"/>
<circle cx="521.3" cy="626.3" r="0.6" fill="#ffa94a" fill-opacity="0.35"/>
<circle cx="520.3" cy="625.4" r="0.6" fill="#ffa94a" fill-opacity="0.35"/>
<circle cx="513.0" cy="625.0" r="0.6" fill="#ffa94a" fill-opacity="0.35"/>
<circle cx="517.7" cy="630.0" r="0.6" fill="#ffa94a" fill-opacity="0.35"/>
<circle cx="521.6" cy="623.7" r="0.6" fill="#ffa94a" fill-opacity="0.35"/>
<circle cx="525.1" cy="631.5" r="0.6" fill="#ffa94a" fill-opacity="0.35"/>
<circle cx="526.5" cy="630.7" r="0.6" fill="#ffa94a" fill-opacity="0.35"/>
<circle cx="509.5" cy="627.7" r="0.6" fill="#ffa94a" fill-opacity="0.35"/>
<circle cx="510.8" cy="630.5" r="0.6" fill="#ffa94a" fill-opacity="0.35"/>
<circle cx="513.2" cy="630.0" r="0.6" fill="#ffa94a" fill-opacity="0.35"/>
<circle cx="515.0" cy="629.8" r="0.6" fill="#ffa94a" fill-opacity="0.35"/>
<circle cx="516.3" cy="623.7" r="0.6" fill="#ffa94a" fill-opacity="0.35"/>
<circle cx="518.0" cy="626.2" r="0.6" fill="#ffa94a" fill-opacity="0.35"/>
<rect x="538.6" y="636.3" width="21.0" height="7.3" rx="3" fill="#7373ff" opacity="0.45" filter="url(#blur1)"/>
<circle cx="549.9" cy="638.2" r="0.6" fill="#7373ff" fill-opacity="0.35"/>
<circle cx="538.8" cy="641.2" r="0.6" fill="#7373ff" fill-opacity="0.35"/>
<circle cx="542.7" cy="637.9" r="0.6" fill="#7373ff" fill-opacity="0.35"/>
<circle cx="546.8" cy="641.1" r="0.6" fill="#7373ff" fill-opacity="0.35"/>
<circle cx="559.7" cy="639.6" r="0.6" fill="#7373ff" fill-opacity="0.35"/>
<circle cx="559.8" cy="644.0" r="0.6" fill="#7373ff" fill-opacity="0.35"/>
<circle cx="543.4" cy="636.4" r="0.6" fill="#7373ff" fill-opacity="0.35"/>
<circle cx="541.6" cy="642.8" r="0.6" fill="#7373ff" fill-opacity="0.35"/>
<circle cx="551.2" cy="643.4" r="0.6" fill="#7373ff" fill-opacity="0.35"/>
<circle cx="559.3" cy="641.2" r="0.6" fill="#7373ff" fill-opacity="0.35"/>
<circle cx="549.8" cy="636.4" r="0.6" fill="#7373ff" fill-opacity="0.35"/>
<circle cx="538.7" cy="642.5" r="0.6" fill="#7373ff" fill-opacity="0.35"/>
<circle cx="552.8" cy="642.1" r="0.6" fill="#7373ff" fill-opacity="0.35"/>
<circle cx="550.5" cy="641.4" r="0.6" fill="#7373ff" fill-opacity="0.35"/>
<circle cx="552.1" cy="643.2" r="0.6" fill="#7373ff" fill-opacity="0.35"/>
<circle cx="540.6" cy="639.9" r="0.6" fill="#7373ff" fill-opacity="0.35"/>
<circle cx="544.9" cy="642.7" r="0.6" fill="#7373ff" fill-opacity="0.35"/>
<circle cx="557.3" cy="637.9" r="0.6" fill="#7373ff" fill-opacity="0.35"/>
<circle cx="539.9" cy="637.8" r="0.6" fill="#7373ff" fill-opacity="0.35"/>
<circle cx="545.0" cy="642.2" r="0.6" fill="#7373ff" fill-opacity="0.35"/>
<circle cx="547.1" cy="642.0" r="0.6" fill="#7373ff" fill-opacity="0.35"/>
<circle cx="544.7" cy="640.1" r="0.6" fill="#7373ff" fill-opacity="0.35"/>
<circle cx="542.2" cy="641.2" r="0.6" fill="#7373ff" fill-opacity="0.35"/>
<circle cx="549.3" cy="643.0" r="0.6" fill="#7373ff" fill-opacity="0.35"/>
<circle cx="558.8" cy="640.1" r="0.6" fill="#7373ff" fill-opacity="0.35"/>
<circle cx="539.6" cy="643.6" r="0.6" fill="#7373ff" fill-opacity="0.35"/>
<circle cx="558.8" cy="639.7" r="0.6" fill="#7373ff" fill-opacity="0.35"/>
<circle cx="548.7" cy="643.5" r="0.6" fill="#7373ff" fill-opacity="0.35"/>
<circle cx="543.7" cy="637.9" r="0.6" fill="#7373ff" fill-opacity="0.35"/>
<circle cx="553.3" cy="641.4" r="0.6" fill="#7373ff" fill-opacity="0.35"/>
<circle cx="553.1" cy="642.7" r="0.6" fill="#7373ff" fill-opacity="0.35"/>
<circle cx="549.3" cy="639.3" r="0.6" fill="#7373ff" fill-opacity="0.35"/>
<circle cx="543.1" cy="637.6" r="0.6" fill="#7373ff" fill-opacity="0.35"/>
<circle cx="546.2" cy="639.4" r="0.6" fill="#7373ff" fill-opacity="0.35"/>
<circle cx="554.3" cy="640.9" r="0.6" fill="#7373ff" fill-opacity="0.35"/>
<circle cx="549.3" cy="639.0" r="0.6" fill="#7373ff" fill-opacity="0.35"/>
<circle cx="551.8" cy="639.0" r="0.6" fill="#7373ff" fill-opacity="0.35"/>
<circle cx="555.5" cy="641.1" r="0.6" fill="#7373ff" fill-opacity="0.35"/>
<circle cx="553.3" cy="638.9" r="0.6" fill="#7373ff" fill-opacity="0.35"/>
<circle cx="549.4" cy="641.8" r="0.6" fill="#7373ff" fill-opacity="0.35"/>
<circle cx="559.0" cy="640.2" r="0.6" fill="#7373ff" fill-opacity="0.35"/>
<circle cx="545.1" cy="641.5" r="0.6" fill="#7373ff" fill-opacity="0.35"/>
<circle cx="540.8" cy="638.6" r="0.6" fill="#7373ff" fill-opacity="0.35"/>
<circle cx="538.9" cy="640.4" r="0.6" fill="#7373ff" fill-opacity="0.35"/>
<circle cx="543.7" cy="639.1" r="0.6" fill="#7373ff" fill-opacity="0.35"/>
<circle cx="555.3" cy="641.1" r="0.6" fill="#7373ff" fill-opacity="0.35"/>
<circle cx="539.0" cy="639.5" r="0.6" fill="#7373ff" fill-opacity="0.35"/>
<circle cx="538.3" cy="642.6" r="0.6" fill="#7373ff" fill-opacity="0.35"/>
<circle cx="549.0" cy="642.9" r="0.6" fill="#7373ff" fill-opacity="0.35"/>
<circle cx="543.9" cy="642.6" r="0.6" fill="#7373ff" fill-opacity="0.35"/>
<circle cx="541.2" cy="643.0" r="0.6" fill="#7373ff" fill-opacity="0.35"/>
<circle cx="546.6" cy="636.4" r="0.6" fill="#7373ff" fill-opacity="0.35"/>
<circle cx="558.1" cy="642.7" r="0.6" fill="#7373ff" fill-opacity="0.35"/>
<circle cx="542.4" cy="640.6" r="0.6" fill="#7373ff" fill-opacity="0.35"/>
<circle cx="548.5" cy="637.0" r="0.6" fill="#7373ff" fill-opacity="0.35"/>
<circle cx="547.4" cy="643.9" r="0.6" fill="#7373ff" fill-opacity="0.35"/>
<circle cx="546.5" cy="642.1" r="0.6" fill="#7373ff" fill-opacity="0.35"/>
<circle cx="554.7" cy="642.2" r="0.6" fill="#7373ff" fill-opacity="0.35"/>
<circle cx="551.5" cy="643.3" r="0.6" fill="#7373ff" fill-opacity="0.35"/>
<circle cx="545.6" cy="639.8" r="0.6" fill="#7373ff" fill-opacity="0.35"/>
<circle cx="547.9" cy="636.6" r="0.6" fill="#7373ff" fill-opacity="0.35"/>
<circle cx="548.8" cy="642.1" r="0.6" fill="#7373ff" fill-opacity="0.35"/>
<circle cx="550.7" cy="637.3" r="0.6" fill="#7373ff" fill-opacity="0.35"/>
<circle cx="543.4" cy="639.8" r="0.6" fill="#7373ff" fill-opacity="0.35"/>
<circle cx="540.5" cy="637.5" r="0.6" fill="#7373ff" fill-opacity="0.35"/>
<circle cx="554.3" cy="636.7" r="0.6" fill="#7373ff" fill-opacity="0.35"/>
<circle cx="540.6" cy="637.1" r="0.6" fill="#7373ff" fill-opacity="0.35"/>
<circle cx="549.4" cy="636.0" r="0.6" fill="#7373ff" fill-opacity="0.35"/>
<circle cx="553.1" cy="640.5" r="0.6" fill="#7373ff" fill-opacity="0.35"/>
<circle cx="554.7" cy="642.2" r="0.6" fill="#7373ff" fill-opacity="0.35"/>
<circle cx="553.9" cy="640.1" r="0.6" fill="#7373ff" fill-opacity="0.35"/>
<circle cx="544.8" cy="640.8" r="0.6" fill="#7373ff" fill-opacity="0.35"/>
<circle cx="541.4" cy="637.7" r="0.6" fill="#7373ff" fill-opacity="0.35"/>
<circle cx="553.4" cy="640.8" r="0.6" fill="#7373ff" fill-opacity="0.35"/>
<circle cx="541.2" cy="639.5" r="0.6" fill="#7373ff" fill-opacity="0.35"/>
<circle cx="551.2" cy="637.6" r="0.6" fill="#7373ff" fill-opacity="0.35"/>
<circle cx="552.3" cy="637.0" r="0.6" fill="#7373ff" fill-opacity="0.35"/>
<rect x="561.3" y="630.9" width="19.2" height="6.8" rx="3" fill="#ffa94a" opacity="0.45" filter="url(#blur1)"/>
<circle cx="561.1" cy="631.3" r="0.6" fill="#ffa94a" fill-opacity="0.35"/>
<circle cx="568.8" cy="635.7" r="0.6" fill="#ffa94a" fill-opacity="0.35"/>
<circle cx="563.7" cy="631.3" r="0.6" fill="#ffa94a" fill-opacity="0.35"/>
<circle cx="565.5" cy="636.3" r="0.6" fill="#ffa94a" fill-opacity="0.35"/>
<circle cx="563.8" cy="636.2" r="0.6" fill="#ffa94a" fill-opacity="0.35"/>
<circle cx="574.1" cy="631.5" r="0.6" fill="#ffa94a" fill-opacity="0.35"/>
<circle cx="571.6" cy="633.9" r="0.6" fill="#ffa94a" fill-opacity="0.35"/>
<circle cx="569.1" cy="638.2" r="0.6" fill="#ffa94a" fill-opacity="0.35"/>
<circle cx="562.8" cy="630.6" r="0.6" fill="#ffa94a" fill-opacity="0.35"/>
<circle cx="579.7" cy="633.5" r="0.6" fill="#ffa94a" fill-opacity="0.35"/>
<circle cx="564.9" cy="633.0" r="0.6" fill="#ffa94a" fill-opacity="0.35"/>
<circle cx="568.2" cy="637.8" r="0.6" fill="#ffa94a" fill-opacity="0.35"/>
<circle cx="565.1" cy="632.1" r="0.6" fill="#ffa94a" fill-opacity="0.35"/>
<circle cx="572.6" cy="634.7" r="0.6" fill="#ffa94a" fill-opacity="0.35"/>
<circle cx="580.0" cy="636.9" r="0.6" fill="#ffa94a" fill-opacity="0.35"/>
<circle cx="568.0" cy="632.0" r="0.6" fill="#ffa94a" fill-opacity="0.35"/>
<circle cx="577.6" cy="638.1" r="0.6" fill="#ffa94a" fill-opacity="0.35"/>
<circle cx="561.5" cy="636.1" r="0.6" fill="#ffa94a" fill-opacity="0.35"/>
<circle cx="578.3" cy="635.5" r="0.6" fill="#ffa94a" fill-opacity="0.35"/>
<circle cx="565.3" cy="636.6" r="0.6" fill="#ffa94a" fill-opacity="0.35"/>
<circle cx="575.5" cy="631.9" r="0.6" fill="#ffa94a" fill-opacity="0.35"/>
<circle cx="573.7" cy="632.1" r="0.6" fill="#ffa94a" fill-opacity="0.35"/>
<circle cx="561.7" cy="633.0" r="0.6" fill="#ffa94a" fill-opacity="0.35"/>
<circle cx="567.6" cy="633.5" r="0.6" fill="#ffa94a" fill-opacity="0.35"/>
<circle cx="573.8" cy="636.9" r="0.6" fill="#ffa94a" fill-opacity="0.35"/>
<circle cx="580.1" cy="638.0" r="0.6" fill="#ffa94a" fill-opacity="0.35"/>
<circle cx="580.8" cy="636.6" r="0.6" fill="#ffa94a" fill-opacity="0.35"/>
<circle cx="567.0" cy="631.8" r="0.6" fill="#ffa94a" fill-opacity="0.35"/>
<circle cx="573.4" cy="634.7" r="0.6" fill="#ffa94a" fill-opacity="0.35"/>
<circle cx="574.4" cy="631.1" r="0.6" fill="#ffa94a" fill-opacity="0.35"/>
<circle cx="564.8" cy="637.6" r="0.6" fill="#ffa94a" fill-opacity="0.35"/>
<circle cx="572.9" cy="635.8" r="0.6" fill="#ffa94a" fill-opacity="0.35"/>
<circle cx="562.8" cy="633.5" r="0.6" fill="#ffa94a" fill-opacity="0.35"/>
<circle cx="579.1" cy="635.5" r="0.6" fill="#ffa94a" fill-opacity="0.35"/>
<circle cx="580.7" cy="631.9" r="0.6" fill="#ffa94a" fill-opacity="0.35"/>
<circle cx="570.0" cy="636.6" r="0.6" fill="#ffa94a" fill-opacity="0.35"/>
<circle cx="569.8" cy="636.6" r="0.6" fill="#ffa94a" fill-opacity="0.35"/>
<circle cx="572.1" cy="631.3" r="0.6" fill="#ffa94a" fill-opacity="0.35"/>
<circle cx="562.9" cy="638.1" r="0.6" fill="#ffa94a" fill-opacity="0.35"/>
<circle cx="563.3" cy="631.9" r="0.6" fill="#ffa94a" fill-opacity="0.35"/>
<circle cx="567.6" cy="636.0" r="0.6" fill="#ffa94a" fill-opacity="0.35"/>
<circle cx="578.0" cy="634.1" r="0.6" fill="#ffa94a" fill-opacity="0.35"/>
<circle cx="570.9" cy="636.5" r="0.6" fill="#ffa94a" fill-opacity="0.35"/>
<circle cx="566.5" cy="633.3" r="0.6" fill="#ffa94a" fill-opacity="0.35"/>
<circle cx="573.1" cy="635.4" r="0.6" fill="#ffa94a" fill-opacity="0.35"/>
<circle cx="561.7" cy="631.3" r="0.6" fill="#ffa94a" fill-opacity="0.35"/>
<circle cx="563.7" cy="636.1" r="0.6" fill="#ffa94a" fill-opacity="0.35"/>
<circle cx="574.8" cy="638.0" r="0.6" fill="#ffa94a" fill-opacity="0.35"/>
<circle cx="576.2" cy="632.4" r="0.6" fill="#ffa94a" fill-opacity="0.35"/>
<circle cx="576.2" cy="638.1" r="0.6" fill="#ffa94a" fill-opacity="0.35"/>
<circle cx="567.9" cy="630.5" r="0.6" fill="#ffa94a" fill-opacity="0.35"/>
<circle cx="568.4" cy="632.6" r="0.6" fill="#ffa94a" fill-opacity="0.35"/>
<circle cx="564.4" cy="630.8" r="0.6" fill="#ffa94a" fill-opacity="0.35"/>
<circle cx="563.4" cy="637.1" r="0.6" fill="#ffa94a" fill-opacity="0.35"/>
<circle cx="561.9" cy="635.2" r="0.6" fill="#ffa94a" fill-opacity="0.35"/>
<circle cx="565.0" cy="631.9" r="0.6" fill="#ffa94a" fill-opacity="0.35"/>
<circle cx="577.3" cy="632.7" r="0.6" fill="#ffa94a" fill-opacity="0.35"/>
<circle cx="564.6" cy="633.9" r="0.6" fill="#ffa94a" fill-opacity="0.35"/>
<circle cx="574.8" cy="634.5" r="0.6" fill="#ffa94a" fill-opacity="0.35"/>
<circle cx="578.1" cy="633.5" r="0.6" fill="#ffa94a" fill-opacity="0.35"/>
<circle cx="571.4" cy="636.0" r="0.6" fill="#ffa94a" fill-opacity="0.35"/>
<circle cx="570.1" cy="636.0" r="0.6" fill="#ffa94a" fill-opacity="0.35"/>
<circle cx="570.2" cy="631.4" r="0.6" fill="#ffa94a" fill-opacity="0.35"/>
<circle cx="563.4" cy="636.5" r="0.6" fill="#ffa94a" fill-opacity="0.35"/>
<circle cx="575.8" cy="637.8" r="0.6" fill="#ffa94a" fill-opacity="0.35"/>
<circle cx="574.7" cy="634.9" r="0.6" fill="#ffa94a" fill-opacity="0.35"/>
<rect x="589.7" y="592.0" width="18" height="20.0" rx="3" fill="#7373ff" opacity="0.6" filter="url(#blur1)"/>
<path d="M620.62,610.30 L621.44,611.31 L622.26,612.31 L623.08,613.32 L623.90,614.33 L624.73,615.34 L625.55,616.34 L626.37,617.35 L627.19,618.36 L628.01,619.36 L628.83,620.37 L629.65,621.38 L630.48,622.39 L631.30,623.39 L632.12,624.40 L631.30,624.90 L630.48,625.40 L629.65,625.90 L628.83,626.40 L628.01,626.90 L627.19,627.40 L626.37,627.90 L625.55,628.40 L624.73,628.90 L623.90,629.40 L623.08,629.90 L622.26,630.40 L621.44,630.90 L620.62,631.40 L619.80,630.90 L618.98,630.40 L618.15,629.90 L617.33,629.40 L616.51,628.90 L615.69,628.40 L614.87,627.90 L614.05,627.40 L613.23,626.90 L612.40,626.40 L611.58,625.90 L610.76,625.40 L609.94,624.90 L609.12,624.40 L609.94,623.39 L610.76,622.39 L611.58,621.38 L612.40,620.37 L613.23,619.36 L614.05,618.36 L614.87,617.35 L615.69,616.34 L616.51,615.34 L617.33,614.33 L618.15,613.32 L618.98,612.31 L619.80,611.31 Z" fill="#ffa94a" opacity="0.45" filter="url(#blur1)"/>
<rect x="613.6" y="611.8" width="14" height="13.6" rx="3" fill="#ffa94a" opacity="0.3" filter="url(#blur1)"/>
<rect x="639.5" y="645.4" width="19.6" height="2.6" rx="3" fill="#7373ff" opacity="0.45" filter="url(#blur1)"/>
<circle cx="649.2" cy="645.9" r="0.6" fill="#7373ff" fill-opacity="0.35"/>
<circle cx="652.1" cy="645.8" r="0.6" fill="#7373ff" fill-opacity="0.35"/>
<circle cx="648.7" cy="648.4" r="0.6" fill="#7373ff" fill-opacity="0.35"/>
<circle cx="640.8" cy="646.0" r="0.6" fill="#7373ff" fill-opacity="0.35"/>
<circle cx="652.9" cy="645.2" r="0.6" fill="#7373ff" fill-opacity="0.35"/>
<circle cx="642.2" cy="647.9" r="0.6" fill="#7373ff" fill-opacity="0.35"/>
<circle cx="659.1" cy="646.0" r="0.6" fill="#7373ff" fill-opacity="0.35"/>
<circle cx="642.9" cy="648.4" r="0.6" fill="#7373ff" fill-opacity="0.35"/>
<circle cx="645.8" cy="647.1" r="0.6" fill="#7373ff" fill-opacity="0.35"/>
<circle cx="651.5" cy="647.2" r="0.6" fill="#7373ff" fill-opacity="0.35"/>
<circle cx="657.8" cy="648.4" r="0.6" fill="#7373ff" fill-opacity="0.35"/>
<circle cx="653.2" cy="647.9" r="0.6" fill="#7373ff" fill-opacity="0.35"/>
<circle cx="655.3" cy="647.2" r="0.6" fill="#7373ff" fill-opacity="0.35"/>
<circle cx="647.9" cy="645.7" r="0.6" fill="#7373ff" fill-opacity="0.35"/>
<circle cx="644.5" cy="648.2" r="0.6" fill="#7373ff" fill-opacity="0.35"/>
<circle cx="653.4" cy="645.3" r="0.6" fill="#7373ff" fill-opacity="0.35"/>
<circle cx="657.7" cy="645.9" r="0.6" fill="#7373ff" fill-opacity="0.35"/>
<circle cx="653.2" cy="646.6" r="0.6" fill="#7373ff" fill-opacity="0.35"/>
<circle cx="644.6" cy="645.7" r="0.6" fill="#7373ff" fill-opacity="0.35"/>
<circle cx="650.9" cy="646.4" r="0.6" fill="#7373ff" fill-opacity="0.35"/>
<circle cx="651.8" cy="647.4" r="0.6" fill="#7373ff" fill-opacity="0.35"/>
<circle cx="655.8" cy="648.0" r="0.6" fill="#7373ff" fill-opacity="0.35"/>
<circle cx="651.8" cy="648.4" r="0.6" fill="#7373ff" fill-opacity="0.35"/>
<circle cx="649.2" cy="648.1" r="0.6" fill="#7373ff" fill-opacity="0.35"/>
<circle cx="655.7" cy="647.8" r="0.6" fill="#7373ff" fill-opacity="0.35"/>
<circle cx="641.6" cy="647.0" r="0.6" fill="#7373ff" fill-opacity="0.35"/>
<circle cx="649.6" cy="645.2" r="0.6" fill="#7373ff" fill-opacity="0.35"/>
<circle cx="646.6" cy="646.8" r="0.6" fill="#7373ff" fill-opacity="0.35"/>
<circle cx="639.2" cy="644.9" r="0.6" fill="#7373ff" fill-opacity="0.35"/>
<circle cx="651.1" cy="646.4" r="0.6" fill="#7373ff" fill-opacity="0.35"/>
<circle cx="659.0" cy="648.0" r="0.6" fill="#7373ff" fill-opacity="0.35"/>
<circle cx="656.0" cy="647.8" r="0.6" fill="#7373ff" fill-opacity="0.35"/>
<circle cx="643.7" cy="647.5" r="0.6" fill="#7373ff" fill-opacity="0.35"/>
<circle cx="641.1" cy="645.4" r="0.6" fill="#7373ff" fill-opacity="0.35"/>
<rect x="660.8" y="647.1" width="20.8" height="2.0" rx="3" fill="#ffa94a" opacity="0.45" filter="url(#blur1)"/>
<circle cx="665.6" cy="648.1" r="0.6" fill="#ffa94a" fill-opacity="0.35"/>
<circle cx="663.9" cy="649.1" r="0.6" fill="#ffa94a" fill-opacity="0.35"/>
<circle cx="665.4" cy="648.3" r="0.6" fill="#ffa94a" fill-opacity="0.35"/>
<circle cx="680.4" cy="647.8" r="0.6" fill="#ffa94a" fill-opacity="0.35"/>
<circle cx="681.3" cy="648.8" r="0.6" fill="#ffa94a" fill-opacity="0.35"/>
<circle cx="672.2" cy="648.5" r="0.6" fill="#ffa94a" fill-opacity="0.35"/>
<circle cx="673.0" cy="647.7" r="0.6" fill="#ffa94a" fill-opacity="0.35"/>
<circle cx="681.9" cy="647.8" r="0.6" fill="#ffa94a" fill-opacity="0.35"/>
<circle cx="681.6" cy="649.2" r="0.6" fill="#ffa94a" fill-opacity="0.35"/>
<circle cx="661.0" cy="647.4" r="0.6" fill="#ffa94a" fill-opacity="0.35"/>
<circle cx="670.7" cy="649.0" r="0.6" fill="#ffa94a" fill-opacity="0.35"/>
<circle cx="664.2" cy="648.4" r="0.6" fill="#ffa94a" fill-opacity="0.35"/>
<circle cx="668.3" cy="649.0" r="0.6" fill="#ffa94a" fill-opacity="0.35"/>
<circle cx="680.4" cy="648.9" r="0.6" fill="#ffa94a" fill-opacity="0.35"/>
<circle cx="664.5" cy="648.9" r="0.6" fill="#ffa94a" fill-opacity="0.35"/>
<circle cx="669.8" cy="649.1" r="0.6" fill="#ffa94a" fill-opacity="0.35"/>
<circle cx="670.5" cy="649.3" r="0.6" fill="#ffa94a" fill-opacity="0.35"/>
<circle cx="681.7" cy="649.1" r="0.6" fill="#ffa94a" fill-opacity="0.35"/>
<circle cx="678.2" cy="649.1" r="0.6" fill="#ffa94a" fill-opacity="0.35"/>
<circle cx="673.2" cy="647.1" r="0.6" fill="#ffa94a" fill-opacity="0.35"/>
<circle cx="681.7" cy="648.0" r="0.6" fill="#ffa94a" fill-opacity="0.35"/>
<circle cx="660.7" cy="647.9" r="0.6" fill="#ffa94a" fill-opacity="0.35"/>
<circle cx="669.3" cy="647.2" r="0.6" fill="#ffa94a" fill-opacity="0.35"/>
<circle cx="681.1" cy="646.9" r="0.6" fill="#ffa94a" fill-opacity="0.35"/>
<circle cx="679.9" cy="648.2" r="0.6" fill="#ffa94a" fill-opacity="0.35"/>
<circle cx="664.2" cy="647.7" r="0.6" fill="#ffa94a" fill-opacity="0.35"/>
<circle cx="670.1" cy="647.0" r="0.6" fill="#ffa94a" fill-opacity="0.35"/>
<circle cx="676.8" cy="648.6" r="0.6" fill="#ffa94a" fill-opacity="0.35"/>
<circle cx="681.6" cy="649.1" r="0.6" fill="#ffa94a" fill-opacity="0.35"/>
<circle cx="677.3" cy="649.6" r="0.6" fill="#ffa94a" fill-opacity="0.35"/>
<circle cx="680.5" cy="648.5" r="0.6" fill="#ffa94a" fill-opacity="0.35"/>
<line x1="399.0" y1="548.9" x2="399.0" y2="564.7" stroke="#222" stroke-width="0.7"/>
<path d="M398.97,550.30 L399.79,550.82 L400.59,551.34 L401.39,551.86 L402.18,552.39 L402.95,552.91 L403.71,553.43 L404.46,553.95 L405.19,554.47 L405.91,554.99 L406.60,555.51 L407.27,556.04 L407.90,556.56 L408.49,557.08 L408.97,557.60 L408.49,558.04 L407.90,558.47 L407.27,558.91 L406.60,559.34 L405.91,559.78 L405.19,560.21 L404.46,560.65 L403.71,561.09 L402.95,561.52 L402.18,561.96 L401.39,562.39 L400.59,562.83 L399.79,563.26 L398.97,563.70 L398.15,563.26 L397.34,562.83 L396.55,562.39 L395.76,561.96 L394.98,561.52 L394.22,561.09 L393.47,560.65 L392.74,560.21 L392.03,559.78 L391.34,559.34 L390.67,558.91 L390.04,558.47 L389.45,558.04 L388.97,557.60 L389.45,557.08 L390.04,556.56 L390.67,556.04 L391.34,555.51 L392.03,554.99 L392.74,554.47 L393.47,553.95 L394.22,553.43 L394.98,552.91 L395.76,552.39 L396.55,551.86 L397.34,551.34 L398.15,550.82 Z" fill="#4f4ff5" stroke="#222" stroke-width="0.6" stroke-linejoin="round"/>
<line x1="420.6" y1="524.6" x2="420.6" y2="538.9" stroke="#222" stroke-width="0.7"/>
<path d="M420.58,526.00 L421.32,526.40 L422.04,526.80 L422.76,527.20 L423.47,527.60 L424.17,528.00 L424.85,528.40 L425.53,528.80 L426.19,529.20 L426.83,529.60 L427.45,530.00 L428.05,530.40 L428.62,530.80 L429.15,531.20 L429.58,531.60 L429.15,532.05 L428.62,532.50 L428.05,532.95 L427.45,533.40 L426.83,533.85 L426.19,534.30 L425.53,534.75 L424.85,535.20 L424.17,535.65 L423.47,536.10 L422.76,536.55 L422.04,537.00 L421.32,537.45 L420.58,537.90 L419.85,537.45 L419.12,537.00 L418.40,536.55 L417.69,536.10 L417.00,535.65 L416.31,535.20 L415.64,534.75 L414.98,534.30 L414.34,533.85 L413.71,533.40 L413.11,532.95 L412.54,532.50 L412.01,532.05 L411.58,531.60 L412.01,531.20 L412.54,530.80 L413.11,530.40 L413.71,530.00 L414.34,529.60 L414.98,529.20 L415.64,528.80 L416.31,528.40 L417.00,528.00 L417.69,527.60 L418.40,527.20 L419.12,526.80 L419.85,526.40 Z" fill="#fb9f30" stroke="#222" stroke-width="0.6" stroke-linejoin="round"/>
<line x1="448.9" y1="492.8" x2="448.9" y2="499.6" stroke="#222" stroke-width="0.7"/>
<path d="M448.92,494.20 L449.70,494.34 L450.48,494.49 L451.24,494.63 L452.00,494.77 L452.74,494.91 L453.47,495.06 L454.19,495.20 L454.89,495.34 L455.58,495.49 L456.25,495.63 L456.89,495.77 L457.49,495.91 L458.06,496.06 L458.52,496.20 L458.06,496.37 L457.49,496.54 L456.89,496.71 L456.25,496.89 L455.58,497.06 L454.89,497.23 L454.19,497.40 L453.47,497.57 L452.74,497.74 L452.00,497.91 L451.24,498.09 L450.48,498.26 L449.70,498.43 L448.92,498.60 L448.13,498.43 L447.36,498.26 L446.59,498.09 L445.84,497.91 L445.09,497.74 L444.36,497.57 L443.64,497.40 L442.94,497.23 L442.26,497.06 L441.59,496.89 L440.95,496.71 L440.34,496.54 L439.78,496.37 L439.32,496.20 L439.78,496.06 L440.34,495.91 L440.95,495.77 L441.59,495.63 L442.26,495.49 L442.94,495.34 L443.64,495.20 L444.36,495.06 L445.09,494.91 L445.84,494.77 L446.59,494.63 L447.36,494.49 L448.13,494.34 Z" fill="#4f4ff5" stroke="#222" stroke-width="0.6" stroke-linejoin="round"/>
<line x1="470.5" y1="496.2" x2="470.5" y2="506.0" stroke="#222" stroke-width="0.7"/>
<path d="M470.53,497.60 L471.24,497.86 L471.95,498.11 L472.64,498.37 L473.32,498.63 L474.00,498.89 L474.66,499.14 L475.31,499.40 L475.95,499.66 L476.57,499.91 L477.17,500.17 L477.75,500.43 L478.30,500.69 L478.81,500.94 L479.23,501.20 L478.81,501.47 L478.30,501.74 L477.75,502.01 L477.17,502.29 L476.57,502.56 L475.95,502.83 L475.31,503.10 L474.66,503.37 L474.00,503.64 L473.32,503.91 L472.64,504.19 L471.95,504.46 L471.24,504.73 L470.53,505.00 L469.82,504.73 L469.12,504.46 L468.42,504.19 L467.74,503.91 L467.07,503.64 L466.40,503.37 L465.75,503.10 L465.12,502.83 L464.49,502.56 L463.89,502.29 L463.31,502.01 L462.76,501.74 L462.25,501.47 L461.83,501.20 L462.25,500.94 L462.76,500.69 L463.31,500.43 L463.89,500.17 L464.49,499.91 L465.12,499.66 L465.75,499.40 L466.40,499.14 L467.07,498.89 L467.74,498.63 L468.42,498.37 L469.12,498.11 L469.82,497.86 Z" fill="#fb9f30" stroke="#222" stroke-width="0.6" stroke-linejoin="round"/>
<line x1="498.6" y1="612.8" x2="498.6" y2="625.2" stroke="#222" stroke-width="0.7"/>
<path d="M498.60,614.20 L499.39,614.56 L500.16,614.93 L500.93,615.29 L501.68,615.66 L502.43,616.02 L503.16,616.39 L503.88,616.75 L504.58,617.11 L505.27,617.48 L505.93,617.84 L506.57,618.21 L507.18,618.57 L507.74,618.94 L508.20,619.30 L507.74,619.65 L507.18,620.00 L506.57,620.35 L505.93,620.70 L505.27,621.05 L504.58,621.40 L503.88,621.75 L503.16,622.10 L502.43,622.45 L501.68,622.80 L500.93,623.15 L500.16,623.50 L499.39,623.85 L498.60,624.20 L497.82,623.85 L497.05,623.50 L496.28,623.15 L495.52,622.80 L494.78,622.45 L494.05,622.10 L493.33,621.75 L492.63,621.40 L491.94,621.05 L491.28,620.70 L490.64,620.35 L490.03,620.00 L489.47,619.65 L489.00,619.30 L489.47,618.94 L490.03,618.57 L490.64,618.21 L491.28,617.84 L491.94,617.48 L492.63,617.11 L493.33,616.75 L494.05,616.39 L494.78,616.02 L495.52,615.66 L496.28,615.29 L497.05,614.93 L497.82,614.56 Z" fill="#4f4ff5" stroke="#222" stroke-width="0.6" stroke-linejoin="round"/>
<line x1="520.4" y1="622.4" x2="520.4" y2="633.4" stroke="#222" stroke-width="0.7"/>
<path d="M520.45,623.80 L521.25,624.09 L522.05,624.39 L522.84,624.68 L523.62,624.97 L524.39,625.26 L525.14,625.56 L525.88,625.85 L526.61,626.14 L527.32,626.44 L528.00,626.73 L528.66,627.02 L529.29,627.31 L529.87,627.61 L530.35,627.90 L529.87,628.22 L529.29,628.54 L528.66,628.86 L528.00,629.19 L527.32,629.51 L526.61,629.83 L525.88,630.15 L525.14,630.47 L524.39,630.79 L523.62,631.11 L522.84,631.44 L522.05,631.76 L521.25,632.08 L520.45,632.40 L519.64,632.08 L518.84,631.76 L518.05,631.44 L517.27,631.11 L516.50,630.79 L515.75,630.47 L515.01,630.15 L514.28,629.83 L513.58,629.51 L512.89,629.19 L512.23,628.86 L511.60,628.54 L511.02,628.22 L510.55,627.90 L511.02,627.61 L511.60,627.31 L512.23,627.02 L512.89,626.73 L513.58,626.44 L514.28,626.14 L515.01,625.85 L515.75,625.56 L516.50,625.26 L517.27,624.97 L518.05,624.68 L518.84,624.39 L519.64,624.09 Z" fill="#fb9f30" stroke="#222" stroke-width="0.6" stroke-linejoin="round"/>
<line x1="549.1" y1="634.9" x2="549.1" y2="644.8" stroke="#222" stroke-width="0.7"/>
<path d="M549.05,636.30 L549.85,636.61 L550.63,636.93 L551.40,637.24 L552.17,637.56 L552.92,637.87 L553.66,638.19 L554.38,638.50 L555.09,638.81 L555.79,639.13 L556.46,639.44 L557.10,639.76 L557.72,640.07 L558.29,640.39 L558.75,640.70 L558.29,640.92 L557.72,641.14 L557.10,641.36 L556.46,641.59 L555.79,641.81 L555.09,642.03 L554.38,642.25 L553.66,642.47 L552.92,642.69 L552.17,642.91 L551.40,643.14 L550.63,643.36 L549.85,643.58 L549.05,643.80 L548.26,643.58 L547.48,643.36 L546.71,643.14 L545.94,642.91 L545.19,642.69 L544.45,642.47 L543.73,642.25 L543.02,642.03 L542.32,641.81 L541.65,641.59 L541.00,641.36 L540.39,641.14 L539.82,640.92 L539.35,640.70 L539.82,640.39 L540.39,640.07 L541.00,639.76 L541.65,639.44 L542.32,639.13 L543.02,638.81 L543.73,638.50 L544.45,638.19 L545.19,637.87 L545.94,637.56 L546.71,637.24 L547.48,636.93 L548.26,636.61 Z" fill="#4f4ff5" stroke="#222" stroke-width="0.6" stroke-linejoin="round"/>
<line x1="570.9" y1="629.5" x2="570.9" y2="638.9" stroke="#222" stroke-width="0.7"/>
<path d="M570.90,630.90 L571.61,631.11 L572.33,631.31 L573.03,631.52 L573.72,631.73 L574.40,631.94 L575.07,632.14 L575.73,632.35 L576.37,632.56 L577.00,632.76 L577.61,632.97 L578.20,633.18 L578.76,633.39 L579.27,633.59 L579.70,633.80 L579.27,634.09 L578.76,634.39 L578.20,634.68 L577.61,634.97 L577.00,635.26 L576.37,635.56 L575.73,635.85 L575.07,636.14 L574.40,636.44 L573.72,636.73 L573.03,637.02 L572.33,637.31 L571.61,637.61 L570.90,637.90 L570.18,637.61 L569.47,637.31 L568.76,637.02 L568.07,636.73 L567.39,636.44 L566.72,636.14 L566.06,635.85 L565.42,635.56 L564.79,635.26 L564.18,634.97 L563.59,634.68 L563.03,634.39 L562.52,634.09 L562.10,633.80 L562.52,633.59 L563.03,633.39 L563.59,633.18 L564.18,632.97 L564.79,632.76 L565.42,632.56 L566.06,632.35 L566.72,632.14 L567.39,631.94 L568.07,631.73 L568.76,631.52 L569.47,631.31 L570.18,631.11 Z" fill="#fb9f30" stroke="#222" stroke-width="0.6" stroke-linejoin="round"/>
<path d="M598.7318181818182,591.5 C600.7318181818182,593.5 601.7318181818182,597.5 600.7318181818182,599.5 C600.2318181818182,601.5 602.7318181818182,604.4 603.9318181818182,606.4 C601.7318181818182,608.4 599.7318181818182,610.5 598.7318181818182,612.5 C597.7318181818182,610.5 595.7318181818182,608.4 593.5318181818182,606.4 C594.7318181818182,604.4 597.2318181818182,601.5 596.7318181818182,599.5 C595.7318181818182,597.5 596.7318181818182,593.5 598.7318181818182,591.5 Z" fill="#4f4ff5" stroke="#222" stroke-width="0.6" stroke-linejoin="round"/>
<path d="M620.6181818181818,610.8 C621.2181818181818,614.8 621.4181818181818,618.4 622.6181818181818,621.4 C624.6181818181818,623.4 627.6181818181818,623.9 630.6181818181818,624.4 C626.6181818181818,625.9 622.6181818181818,627.9 620.6181818181818,630.9 C618.6181818181818,627.9 614.6181818181818,625.9 610.6181818181818,624.4 C613.6181818181818,623.9 616.6181818181818,623.4 618.6181818181818,621.4 C619.8181818181819,618.4 620.0181818181818,614.8 620.6181818181818,610.8 Z" fill="#fb9f30" stroke="#222" stroke-width="0.6" stroke-linejoin="round"/>
<line x1="649.3" y1="644.0" x2="649.3" y2="649.2" stroke="#222" stroke-width="0.7"/>
<path d="M649.28,645.40 L650.02,645.49 L650.74,645.59 L651.46,645.68 L652.17,645.77 L652.87,645.86 L653.55,645.96 L654.23,646.05 L654.89,646.14 L655.53,646.24 L656.15,646.33 L656.75,646.42 L657.32,646.51 L657.85,646.61 L658.28,646.70 L657.85,646.81 L657.32,646.91 L656.75,647.02 L656.15,647.13 L655.53,647.24 L654.89,647.34 L654.23,647.45 L653.55,647.56 L652.87,647.66 L652.17,647.77 L651.46,647.88 L650.74,647.99 L650.02,648.09 L649.28,648.20 L648.55,648.09 L647.82,647.99 L647.10,647.88 L646.39,647.77 L645.70,647.66 L645.01,647.56 L644.34,647.45 L643.68,647.34 L643.04,647.24 L642.41,647.13 L641.81,647.02 L641.24,646.91 L640.71,646.81 L640.28,646.70 L640.71,646.61 L641.24,646.51 L641.81,646.42 L642.41,646.33 L643.04,646.24 L643.68,646.14 L644.34,646.05 L645.01,645.96 L645.70,645.86 L646.39,645.77 L647.10,645.68 L647.82,645.59 L648.55,645.49 Z" fill="#4f4ff5" stroke="#222" stroke-width="0.6" stroke-linejoin="round"/>
<line x1="671.2" y1="645.7" x2="671.2" y2="650.3" stroke="#222" stroke-width="0.7"/>
<path d="M671.17,647.10 L671.95,647.17 L672.73,647.24 L673.49,647.31 L674.25,647.39 L674.99,647.46 L675.72,647.53 L676.44,647.60 L677.14,647.67 L677.83,647.74 L678.50,647.81 L679.14,647.89 L679.74,647.96 L680.31,648.03 L680.77,648.10 L680.31,648.19 L679.74,648.27 L679.14,648.36 L678.50,648.44 L677.83,648.53 L677.14,648.61 L676.44,648.70 L675.72,648.79 L674.99,648.87 L674.25,648.96 L673.49,649.04 L672.73,649.13 L671.95,649.21 L671.17,649.30 L670.38,649.21 L669.61,649.13 L668.84,649.04 L668.09,648.96 L667.34,648.87 L666.61,648.79 L665.89,648.70 L665.19,648.61 L664.51,648.53 L663.84,648.44 L663.20,648.36 L662.59,648.27 L662.03,648.19 L661.57,648.10 L662.03,648.03 L662.59,647.96 L663.20,647.89 L663.84,647.81 L664.51,647.74 L665.19,647.67 L665.89,647.60 L666.61,647.53 L667.34,647.46 L668.09,647.39 L668.84,647.31 L669.61,647.24 L670.38,647.17 Z" fill="#fb9f30" stroke="#222" stroke-width="0.6" stroke-linejoin="round"/>
<line x1="399.0" y1="515.2" x2="420.6" y2="515.2" stroke="#222" stroke-width="0.9"/>
<text x="409.8" y="512.0" font-size="8.05" text-anchor="middle" font-weight="bold" fill="#111" >p &lt; 4.36e-11</text>
<line x1="448.9" y1="487.7" x2="470.5" y2="487.7" stroke="#222" stroke-width="0.9"/>
<text x="459.7" y="484.7" font-size="8.05" text-anchor="middle" font-weight="bold" fill="#111" >p &lt; 4.36e-11</text>
<line x1="498.6" y1="606.1" x2="520.4" y2="606.1" stroke="#222" stroke-width="0.9"/>
<text x="509.5" y="601.7" font-size="8.05" text-anchor="middle" font-weight="bold" fill="#111" >p &lt; 4.36e-11</text>
<line x1="549.1" y1="621.5" x2="570.9" y2="621.5" stroke="#222" stroke-width="0.9"/>
<text x="560.0" y="617.4" font-size="8.05" text-anchor="middle" font-weight="bold" fill="#111" >p &lt; 4.36e-11</text>
<line x1="598.7" y1="584.0" x2="620.6" y2="584.0" stroke="#222" stroke-width="0.9"/>
<text x="609.7" y="580.7" font-size="8.05" text-anchor="middle" font-weight="bold" fill="#111" >p &lt; 4.36e-11</text>
<line x1="649.3" y1="636.7" x2="671.2" y2="636.7" stroke="#222" stroke-width="0.9"/>
<text x="660.2" y="632.7" font-size="8.05" text-anchor="middle" font-weight="bold" fill="#111" >p &lt; 4.36e-11</text>
<rect x="482.3" y="669" width="5.7" height="9.1" fill="#5a5af5"/>
<text x="490.9" y="677.1" font-size="10" text-anchor="start" font-weight="bold" fill="#111" >Control</text>
<rect x="530.4" y="669" width="5.4" height="9.1" fill="#fba33f"/>
<text x="538.0" y="677.1" font-size="10" text-anchor="start" font-weight="bold" fill="#111" >Antibiotic</text>
<text transform="translate(361.9,568) rotate(-90) scale(0.875,1)" font-size="15.4" font-weight="bold" text-anchor="middle">Mean Relative Abundance</text>
</svg>
</body></html>
